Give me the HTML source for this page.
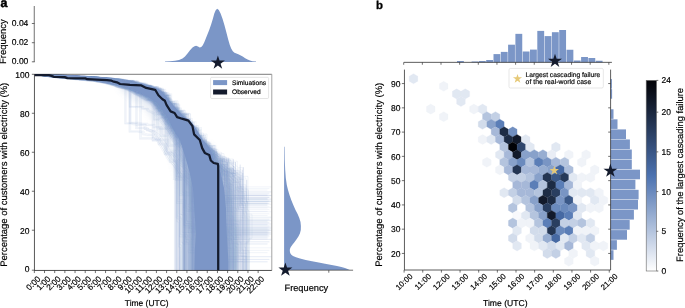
<!DOCTYPE html>
<html><head><meta charset="utf-8"><title>Figure</title>
<style>
html,body{margin:0;padding:0;background:#fff;}
body{width:685px;height:308px;overflow:hidden;}
svg{display:block;font-family:"Liberation Sans", Arial, Helvetica, sans-serif;will-change:transform;text-rendering:geometricPrecision;}
text{stroke:#000;stroke-width:0.18px;stroke-linejoin:round;}
</style></head><body>
<svg width="685" height="308" viewBox="0 0 685 308">
<rect width="685" height="308" fill="#fff"/>
<text x="0.45" y="6.60" font-size="12.4" text-anchor="start" font-weight="bold" fill="#000" style="stroke-width:0.5px">a</text>
<line x1="34.25" y1="6.00" x2="34.25" y2="62.15" stroke="#333" stroke-width="0.7" />
<line x1="31.85" y1="23.50" x2="34.45" y2="23.50" stroke="#333" stroke-width="0.7" />
<text x="28.35" y="25.80" font-size="8.5" text-anchor="end" fill="#000"  textLength="16.54" lengthAdjust="spacingAndGlyphs">0.04</text>
<line x1="31.85" y1="42.70" x2="34.45" y2="42.70" stroke="#333" stroke-width="0.7" />
<text x="28.35" y="45.00" font-size="8.5" text-anchor="end" fill="#000"  textLength="16.54" lengthAdjust="spacingAndGlyphs">0.02</text>
<line x1="31.85" y1="61.80" x2="34.45" y2="61.80" stroke="#333" stroke-width="0.7" />
<text x="28.35" y="64.10" font-size="8.5" text-anchor="end" fill="#000"  textLength="16.54" lengthAdjust="spacingAndGlyphs">0.00</text>
<text x="6.50" y="41.60" font-size="9.45" text-anchor="middle" transform="rotate(-90 6.50 41.60)" fill="#000"  textLength="44.65" lengthAdjust="spacingAndGlyphs">Frequency</text>
<path d="M165.00,62.00 L165.00,61.60 L170.00,61.30 L175.00,60.80 L179.00,60.00 L182.50,58.60 L185.00,56.40 L187.50,53.50 L190.00,50.20 L192.50,47.60 L194.50,46.20 L196.10,45.70 L198.00,46.40 L199.70,47.50 L201.30,47.00 L202.80,45.20 L204.30,42.20 L206.80,36.00 L209.20,30.00 L211.20,24.20 L212.80,19.00 L214.30,13.60 L215.70,10.30 L217.20,8.70 L218.80,9.90 L220.60,13.60 L222.60,18.90 L224.40,25.00 L226.40,32.50 L228.20,39.50 L229.80,45.00 L231.30,48.80 L232.80,51.25 L234.50,52.70 L236.40,53.60 L238.30,54.30 L240.30,55.20 L242.70,56.50 L245.20,58.20 L247.60,59.60 L250.00,60.60 L252.50,61.20 L256.00,61.60 L256.00,62.00 Z" fill="#7b96c7"/>
<clipPath id="ca"><rect x="34.45" y="74.3" width="237.35" height="196.1"/></clipPath>
<defs><filter id="bl1" x="-10%" y="-10%" width="120%" height="120%"><feGaussianBlur stdDeviation="0.6"/></filter><filter id="bl2" x="-10%" y="-10%" width="120%" height="120%"><feGaussianBlur stdDeviation="1.6"/></filter><filter id="bl3" x="-10%" y="-10%" width="120%" height="120%"><feGaussianBlur stdDeviation="2.6"/></filter></defs>
<g clip-path="url(#ca)">
<path d="M124.2,84.2 L140.5,87.1 L153.5,90.3 L158.3,92.8 L164.8,100.1 L173.0,109.8 L181.0,118.7 L187.5,122.8 L191.6,127.6 L196.2,134.8 L200.5,142.6 L210.3,143.5 L213.0,147.5 L215.5,152.0 L218.0,160.0 L224.5,164.5 L227.5,172.5 L234.0,188.0 L236.0,209.0 L236.8,234.0 L238.4,262.0 L238.4,270.5 L181.4,276.5 L181.8,256.0 L183.0,239.7 L181.4,215.4 L180.0,194.0 L176.5,178.0 L172.0,162.0 L167.0,146.0 L159.5,134.0 L157.0,127.8 L152.2,119.7 L147.3,113.2 L144.1,108.4 L137.6,104.3 L131.1,98.7 L124.8,93.8 L118.4,89.7 Z" fill="#7b96c7" fill-opacity="0.14" filter="url(#bl3)"/>
<path d="M108.8,80.4 L125.0,83.2 L141.3,86.1 L154.3,89.3 L159.1,91.8 L165.6,99.1 L173.8,108.8 L181.8,117.7 L188.3,121.8 L192.4,126.6 L197.0,133.8 L201.3,141.6 L208.8,143.5 L211.5,147.5 L214.0,152.0 L216.5,160.0 L220.0,164.5 L227.5,172.5 L231.0,188.0 L233.0,209.0 L233.8,234.0 L235.4,262.0 L235.4,270.5 L189.4,273.5 L189.8,253.0 L191.0,236.7 L189.4,212.4 L188.0,191.0 L184.5,175.0 L180.0,159.0 L175.0,143.0 L167.5,131.0 L165.0,124.8 L160.2,116.7 L155.3,110.2 L152.1,105.4 L145.6,101.3 L138.1,96.0 L130.7,91.6 L123.2,87.9 L108.3,83.0 Z" fill="#7b96c7" fill-opacity="0.38" filter="url(#bl2)"/>
<g id="sl" fill="none" stroke="#8aa2cf" stroke-width="0.8" stroke-opacity="0.14" stroke-linejoin="round">
<path d="M34.5,74.5L41.9,75.1H46.9V75.6L53.6,75.8L60.5,76.6L65.8,76.9L73.5,77.5H76.4V77.8L81.4,78.3H86.2V78.6H89.9V78.6H97.6V79.5L100.4,79.8H107.9V80.9H116.2V82.6L123.8,83.7H127.7V85.4L133.2,86.8L136.5,87.5L145.0,91.5H148.5V92.1L152.3,92.8H155.3V96.3H162.1V103.7L165.1,107.8L169.1,112.1H174.3V120.8H178.6V125.7H185.0V133.5H188.7V138.1L194.3,144.7L201.6,154.6L209.7,157.3H212.8V270.4"/>
<path d="M34.5,74.5L39.9,75.1L43.4,75.5L49.5,76.1H55.6V76.5H62.3V77.0L66.5,77.3L73.0,77.9L79.0,78.2L83.1,78.4L88.3,78.9L96.0,79.2H102.0V80.7H105.7V81.3H111.0V82.3L114.8,82.9L121.2,85.0H127.0V86.0L131.5,86.8L139.3,90.2L142.7,91.4L147.8,93.7L151.1,96.2H155.1V98.0L162.6,109.6L166.1,110.3L169.3,113.2L172.4,121.7H180.2V132.9L183.4,132.9L189.3,142.6H197.3V195.7H271.8"/>
<path d="M34.5,74.5L40.3,74.7L48.2,75.1L53.1,75.5L57.5,75.5L62.2,75.7L67.5,75.9L71.2,76.7H74.0V76.7L79.6,77.0L83.8,77.0L89.3,77.3L93.5,77.7L101.7,78.8H109.7V79.0L116.1,80.3L123.1,81.6L126.8,82.0L135.0,84.1L142.1,85.5H147.8V89.1L154.5,89.9H157.5V93.2L162.3,98.0H169.8V107.8L174.0,112.7H181.4V121.3L184.7,122.4H191.0V127.9H197.1V140.6H202.1V270.4"/>
<path d="M34.5,74.5L38.5,74.8H45.1V75.4L48.5,75.5L53.8,75.8L61.7,76.6L68.3,76.7L74.6,77.4L79.3,77.7H85.1V78.2L90.3,78.3H95.3V78.7L101.8,80.0H107.0V80.5L112.5,81.1L116.9,81.7H121.2V82.8L128.1,84.5H132.1V85.3L135.4,86.2H141.2V88.2L147.4,91.2L151.1,93.7H159.5V97.7H164.9V105.1H168.2V109.9H173.4V116.3L181.0,122.9L183.5,127.8L190.3,133.4L194.0,142.2H198.5V199.7H203.8V270.4"/>
<path d="M34.5,74.5L42.3,75.0L48.4,75.6L56.4,75.8L63.2,76.1L65.8,76.6H73.8V77.0H77.2V77.0L79.8,77.6L83.7,77.8H90.9V78.4L98.9,79.3H103.5V79.3H107.5V80.0L114.9,80.8L121.9,82.6H128.5V84.6L131.0,85.6H134.9V85.7H141.0V87.9L144.0,88.8H151.8V91.5L157.1,95.9L162.1,100.1L165.1,103.1L170.7,109.8H178.5V120.2H185.5V127.5H188.1V134.5L194.7,139.7H198.2V176.2H201.5V238.7H206.3V270.4"/>
<path d="M34.5,74.5L38.1,74.9L45.5,75.6L52.6,76.2L59.5,76.7L63.9,76.8L67.9,77.2H75.9V77.9L81.2,78.1L84.6,78.4L90.6,78.9L95.7,79.5L102.9,80.1L108.2,81.2H112.5V82.7H117.9V82.8H122.1V83.1L128.5,86.2H132.6V86.9L135.6,87.2H141.4V89.6L148.7,92.8L152.1,94.9H157.9V100.3L165.5,108.3H169.1V115.8H174.0V122.5H178.9V129.0L182.7,136.5H188.9V207.6H271.8"/>
<path d="M34.5,74.5L38.8,74.7H43.4V74.9L50.8,75.2L57.4,75.4L61.1,75.7L64.2,75.8L70.7,76.0H77.0V76.8H80.5V76.8H84.3V76.9H91.8V77.8H100.2V78.2L104.7,78.4H112.6V80.1L119.6,81.0L126.9,82.2H129.9V83.7H133.9V83.7H139.6V85.3L146.9,86.8H149.7V88.8L157.0,91.3L165.5,99.2L172.5,109.0L180.4,116.7H184.3V121.9H187.6V126.0H191.2V131.6H193.4V248.1H203.6V270.4"/>
<path d="M34.5,74.5L38.1,75.0H43.7V75.7L51.3,76.5L58.6,77.1L65.7,77.7L72.8,78.0L75.5,78.6H78.5V78.9L86.9,79.5H89.9V79.7L97.4,80.5L104.5,81.4L112.9,83.7H116.0V84.2L119.4,85.0H126.4V86.6H134.4V90.5L141.3,92.9L145.9,95.7L153.4,98.8L155.9,100.8L160.6,110.0H163.9V111.3H168.8V117.1L175.8,129.6H176.0V176.8H185.6V270.4"/>
<path d="M34.5,74.5L42.0,74.7L49.1,75.0H56.9V75.4L65.2,75.6L73.5,76.3L81.9,76.6L89.8,77.3H98.2V77.7L103.2,78.6H108.2V78.9L116.5,79.8H119.1V79.8H121.8V80.5L129.2,81.2L132.3,83.1H135.4V83.1L141.4,85.0L144.0,86.1L151.8,89.5L156.2,91.2H160.2V94.0L163.2,95.0H168.5V102.8L175.0,110.6L178.5,114.7H186.6V122.1H194.1V133.6H195.1V270.4"/>
<path d="M34.5,74.5H41.4V75.2H45.5V75.6L52.3,76.2L57.9,76.7H61.9V77.1L66.1,77.5L74.4,78.1L80.7,78.6H86.8V78.7H94.8V80.0L102.1,80.4L108.3,82.3L113.4,83.1H119.6V83.2L126.8,85.5L131.9,88.6H138.4V90.5L142.9,91.8L146.3,92.5L150.2,94.7H153.6V97.1H156.1V99.4L161.2,105.2H167.9V115.9L171.3,120.0L176.8,126.5H181.1V130.8H185.3V136.6L190.0,144.6L197.8,156.3H203.9V160.3L210.2,165.7H217.7V168.4H221.6V270.4"/>
<path d="M34.5,74.5H37.1V74.6L44.8,74.9L51.9,75.2H58.5V75.5L66.4,75.7H70.9V76.0L73.6,76.0H80.3V76.9L85.9,77.0H89.5V77.3H97.9V77.8L101.0,77.9L105.8,79.0L109.8,79.0L116.4,79.7L123.9,81.0H130.8V82.4L139.3,84.7L142.0,85.6H148.2V87.8L156.4,90.0L164.5,96.6L172.3,107.0L180.1,112.4L188.3,123.1L193.5,127.5H197.7V270.4"/>
<path d="M34.5,74.5H42.4V74.8H49.5V75.0L54.8,75.2H62.0V75.4L69.1,75.7H72.5V75.9H76.4V76.3L81.1,76.4H85.5V76.8L90.0,77.0L95.3,77.3H101.1V78.0H107.6V78.2L113.5,78.8L118.8,80.7H125.8V80.7H128.9V81.2L132.3,81.6L140.5,84.4H144.9V86.3L153.3,89.5L159.8,93.8L163.7,96.4H167.8V103.1H170.6V104.0H174.2V108.8L176.7,113.5L182.8,118.4L188.9,126.6H193.0V129.3L197.7,134.4L205.9,144.0L211.0,150.4H214.2V180.6H217.9V229.6H271.8"/>
<path d="M34.5,74.5L41.6,74.8L49.5,75.3H57.9V75.5H62.6V76.2H68.8V76.2H77.1V76.9L84.6,77.4H89.9V77.7H96.9V78.5L104.3,79.2L112.1,80.1H116.7V80.7L122.7,81.5H129.0V82.9L131.8,83.7L140.2,86.3L146.9,87.1H150.3V89.4L155.4,91.9H158.0V94.8L164.4,100.7L171.3,108.8L176.4,118.1H180.2V171.3H186.0V270.4"/>
<path d="M34.5,74.5H37.2V74.7L44.3,75.2L52.4,75.8L56.2,75.9L61.4,76.3L64.5,76.6H71.9V76.7L75.8,77.1H80.8V77.5L85.5,77.9L89.7,78.4H94.0V78.6L101.1,79.6H108.4V80.2H115.6V81.7H121.1V82.8H124.0V82.8L128.2,83.4H131.8V85.6L140.1,87.7L147.6,90.9L153.8,92.3H161.2V100.6L164.6,104.7H172.8V113.2L179.8,124.4L183.1,126.4L185.6,128.5H192.8V137.1L197.0,142.0L202.1,151.1H210.2V159.8L213.4,159.8L217.1,162.2L225.1,169.2L231.3,173.4H234.6V177.7H239.5V178.8H240.4V207.3H244.3V247.1H245.5V270.4"/>
<path d="M34.5,74.5L42.4,75.3H47.6V75.8L50.3,76.1H58.0V76.5L63.0,77.1H70.4V77.5L78.0,77.8L81.7,78.4L85.1,78.4L91.0,78.6L95.9,79.1H103.4V80.3L109.1,81.1L115.8,83.6L123.6,84.0L126.4,85.4L129.7,85.7L133.6,87.3H139.9V90.3L145.1,91.8L151.8,95.6L158.8,101.3H166.0V108.7H174.4V121.6H179.7V128.0L184.0,135.7H191.1V226.9H271.8"/>
<path d="M34.5,74.5L39.5,74.6H43.7V74.7H50.4V75.3L54.5,75.3L61.8,75.7H66.9V75.7L75.4,76.5H81.4V76.8H89.3V77.1L93.2,77.3L96.1,77.7L104.6,78.1L112.6,79.6L118.5,79.6L122.4,81.4L130.0,82.3L134.5,84.6L137.4,84.6H145.1V86.5H150.5V87.7L155.1,89.5L160.5,94.6H165.0V102.0H171.3V109.6H176.1V110.9L183.5,123.8H188.7V123.9L194.9,133.5L197.4,138.4L204.6,146.1L210.0,149.3H218.0V156.0L224.5,158.9H230.0V270.4"/>
<path d="M34.5,74.5H37.9V74.9L42.2,75.3L50.7,76.1H54.5V76.2L60.1,76.7L66.1,77.2H70.8V77.6L76.6,78.0L80.1,78.4L85.5,78.5H94.0V79.6H97.2V79.8L104.2,80.6L109.2,82.1L117.5,82.8L121.8,84.5L125.4,85.4L133.2,87.7L139.5,89.8H142.5V90.3L150.3,93.5H153.0V95.4H156.4V100.3L164.6,108.9L169.1,113.5L174.3,121.8H179.4V128.8H187.3V136.4L192.7,146.0L196.3,148.3H203.0V158.9H208.5V160.0H210.0V193.7H215.6V270.4"/>
<path d="M34.5,74.5L41.0,74.8H45.9V75.0H53.5V75.5L58.5,75.5L63.3,76.0L68.0,76.0L73.7,76.2H77.3V76.9H79.8V76.9L84.5,76.9L87.6,77.0H94.1V77.6H97.9V77.8L106.0,79.0H113.1V79.8H117.0V80.6L120.6,81.3H127.5V81.9H132.9V83.5H135.5V84.3H138.3V84.6L141.9,86.1L146.6,87.7L154.4,89.4L158.6,92.0L163.3,96.8L168.5,105.1H171.5V105.1L177.0,109.9L183.2,124.5L190.7,124.5L197.6,138.8H203.4V144.3L208.0,149.7L212.7,154.2H214.0V270.4"/>
<path d="M34.5,74.5L42.0,75.0L48.3,75.5H51.2V75.7L55.8,75.8H64.1V76.1L71.9,77.0L77.6,77.4L81.9,77.7H87.6V78.0L93.3,78.6H99.6V79.3L107.2,80.5H113.3V80.7H119.7V81.5L127.5,84.4H135.8V86.7H142.5V88.1H146.4V91.2H151.4V92.9H158.1V95.5H162.0V101.7L165.1,102.9H171.1V111.5L174.4,117.0L180.9,124.5L188.5,135.2L196.9,146.3L200.0,148.3H207.4V155.5H207.9V223.4H212.0V252.1H214.6V270.4"/>
<path d="M34.5,74.5H40.0V74.8H48.3V75.3L53.5,75.5H56.9V75.9L59.6,76.0L67.8,76.3H75.6V76.9L79.9,77.4H85.3V77.6H88.6V77.6H92.2V78.1L95.0,78.1H101.1V78.7L103.9,78.9L106.9,79.4L111.3,79.9L119.8,81.3H122.6V81.5L126.9,82.6H134.6V84.5H139.8V87.3H143.2V87.3H150.9V91.8H155.8V91.8L158.7,95.3L165.7,101.9H168.9V106.9L175.3,116.0H181.0V121.8L185.6,127.0H189.4V129.8L194.0,137.9L201.5,145.5L209.5,154.3L212.7,154.3L221.0,162.5H227.6V168.7H233.2V170.8H238.4V270.4"/>
<path d="M34.5,74.5L38.9,75.1L45.1,76.1H53.3V76.8L56.7,76.9L61.3,77.6L66.6,77.7L73.8,78.7H78.7V79.1L83.1,79.3H87.1V79.9H94.7V80.5L103.0,82.0H106.9V82.0L112.7,83.8H116.2V85.0H122.6V86.8L131.0,89.8H136.7V91.9L142.1,95.2L145.5,95.8L153.7,101.1H156.5V104.3H164.2V114.8L172.6,126.9H179.2V133.5H186.6V220.8H187.9V232.5H189.2V270.4"/>
<path d="M34.5,74.5L42.1,75.8L45.7,76.3L53.6,77.2H57.6V77.7L65.7,78.5H70.2V79.0L76.0,79.6H79.8V79.9L87.1,80.5L93.5,80.8L98.8,82.1L106.9,83.6L110.8,84.1L118.2,87.1H120.8V87.1L127.1,88.8L135.5,93.5L140.3,95.3L144.8,98.0L151.1,101.2L158.5,111.3L164.3,115.9H168.6V127.1L171.1,130.0L175.8,139.6L178.9,144.4L183.6,145.2H188.9V153.4L195.2,164.2H203.2V171.3L210.0,177.0H214.4V183.0H218.7V205.9H225.2V270.4"/>
<path d="M34.5,74.5L37.5,74.7H42.9V75.0L49.5,75.6H54.6V75.6L59.2,75.9L64.8,76.4L72.9,76.7L78.0,76.9L83.9,77.5H90.4V78.2L97.4,78.4L104.6,78.9H112.9V80.5L121.3,81.4L128.1,83.7L136.6,86.1L144.3,89.3H148.4V89.3H156.4V94.2L159.8,96.2L163.5,99.8H168.4V107.5H175.1V115.8H182.1V122.0H186.0V128.5H192.6V134.8H199.9V143.4L207.5,154.4L214.3,159.0L219.2,164.0H223.3V164.4H228.0V195.5H230.9V270.4"/>
<path d="M34.5,74.5L39.4,74.6H42.3V74.7L46.7,74.9L50.7,75.2H53.8V75.6L58.8,75.6H67.3V75.8L74.5,76.5L80.6,76.8H84.3V76.8H89.8V77.6L96.0,77.9L101.9,78.4L108.8,78.6H117.0V80.3H123.3V81.0L131.7,83.0L138.9,84.8L146.6,87.5H149.9V87.6H158.0V92.7L166.0,98.7L169.0,101.3L173.7,106.7L177.3,110.6L181.5,119.8L188.8,123.9L197.3,132.5L203.8,142.9H209.3V148.8H216.5V154.9L220.1,158.3H223.9V162.5H226.0V208.0H236.6V270.4"/>
<path d="M34.5,74.5L39.2,75.1L41.7,75.4H49.7V76.2L56.4,76.4L63.8,77.2L68.4,77.6H76.4V78.3L79.9,78.5L87.6,79.1L90.9,79.2L97.6,80.3L103.3,81.1L106.8,81.5H112.8V82.9H120.8V84.5H124.9V85.0L129.3,86.7L133.5,88.3H140.6V90.4H144.7V93.4L150.3,96.3L154.2,97.7L161.8,106.7H168.1V115.6L175.9,124.8H182.3V138.1L188.6,142.7H192.5V270.4"/>
<path d="M34.5,74.5L39.4,75.0L45.3,75.5L48.2,75.8L55.0,76.2L60.6,76.6L66.3,77.0L73.6,77.5L81.7,78.0L87.5,78.5H95.4V79.3H101.1V80.1H104.4V80.1L109.4,81.7H115.8V82.3L122.7,84.1H129.3V86.0L134.5,87.4L138.2,89.6L144.5,91.7L150.7,93.9L154.8,95.2H158.2V100.4L164.7,108.7L169.5,114.1L176.2,123.4H181.8V131.6L187.1,137.7L193.6,147.6L198.0,150.6L205.1,157.4H207.8V160.7H209.6V236.9H211.5V251.0H215.8V270.4"/>
<path d="M34.5,74.5L41.1,75.4H44.3V75.7H48.2V75.9H52.3V76.6L54.8,76.7L61.3,77.1L68.6,78.0L71.2,78.0H79.7V78.5H86.2V79.2L89.6,79.5H94.7V79.9H98.0V80.8H104.5V81.6H112.4V83.4H117.3V84.4L124.4,85.6H128.7V87.1L132.2,89.1H138.9V91.9L145.9,93.7L150.1,96.9H154.4V98.7L162.9,110.0H167.9V115.4L171.6,121.5H174.8V125.2L178.8,131.8H181.6V136.4L186.0,140.7L189.1,145.6L194.7,153.4L202.3,162.0L207.8,167.1L211.7,169.3H212.9V270.4"/>
<path d="M34.5,74.5L40.0,75.2L45.1,75.7L49.4,76.0L56.4,76.8L64.8,77.2L71.6,77.9L79.3,78.3L82.1,78.8L89.9,79.4L96.0,79.6H104.3V81.0L109.4,82.1H114.5V82.4H122.7V85.6L127.4,86.1L132.2,88.1H137.5V90.6H144.0V93.6H152.2V96.7L159.0,104.1L162.3,107.9H168.3V116.6H172.3V121.5L176.8,129.2H180.4V134.1L184.6,139.1L189.5,139.8H195.4V148.7L203.1,160.0L206.3,164.7L212.4,169.4H219.8V174.9L225.2,177.2H231.8V182.6H232.6V196.4H234.9V221.3H239.3V270.4"/>
<path d="M34.5,74.5H42.6V74.7L45.5,74.9L48.6,75.1H53.9V75.3L60.1,75.4H64.3V75.7H70.1V76.1L78.1,76.5L84.3,76.5H86.8V76.7H90.1V77.5L93.0,77.5H99.6V78.1L105.5,78.4H110.5V78.8H118.5V80.0L124.4,81.2H132.5V82.3L135.7,83.7L139.1,85.1L144.6,86.0H149.8V88.6L152.5,88.6H156.7V90.2H161.3V93.5L164.3,96.4L167.5,101.7H171.6V105.0H179.6V117.1L187.8,119.6L194.4,129.9L199.3,137.9H202.3V141.8L205.8,144.9L213.9,150.6L222.3,156.7H226.1V159.0H233.3V166.7H234.7V270.4"/>
<path d="M34.5,74.5L41.6,75.5L48.6,76.5L56.4,77.4H61.8V77.8H66.7V77.9L73.5,78.5L81.7,79.4H89.6V80.3H93.7V80.6L97.7,81.2H105.6V82.5L110.6,83.5H115.9V84.7L119.8,86.1H126.3V87.2V122.7L131.7,122.7L138.9,124.2H146.0V127.9H148.5V129.5H151.3V130.3H157.8V137.6L164.8,148.7L170.8,158.5L176.3,163.4L181.3,174.1H184.1V270.4"/>
<path d="M34.5,74.5L38.1,75.0L42.7,75.6L50.3,76.1H57.6V77.1L62.7,77.6H70.5V78.2L78.7,78.8L86.1,79.1L92.1,79.6H96.1V80.0H102.8V80.9H108.9V82.1L114.2,82.9H122.0V85.1H127.9V86.6L130.5,87.4L137.3,90.6H145.1V95.1H153.4V98.2H160.1V106.0L164.9,114.3H171.8V124.1H179.4V132.5H183.2V137.9L189.2,147.0L193.6,152.9H198.6V234.3H203.2V256.8H208.1V270.4"/>
<path d="M34.5,74.5L38.2,74.7L41.9,74.8L48.8,75.2L55.2,75.2H59.2V75.6L62.0,75.7L69.7,76.0H77.2V76.7H81.5V77.0H84.2V77.0L90.8,77.1H97.4V77.9L102.8,78.9H106.1V78.9L112.5,79.7H115.3V80.0L120.8,80.2L128.6,82.3H136.0V84.0L138.6,84.0H141.7V86.2H148.3V88.9H154.0V90.3L161.3,95.3H169.1V102.7H177.1V117.1H181.5V120.5L187.4,124.2H193.3V131.7H198.9V201.5H271.8"/>
<path d="M34.5,74.5H37.5V75.0H42.0V75.5L49.1,76.4L56.7,76.9H64.9V78.1L73.3,78.9H79.8V79.2H87.0V79.6L94.2,80.3H97.4V80.9H101.4V82.1L104.2,82.6H110.2V83.6L114.3,84.4H119.5V86.0H125.9V87.7H130.0V90.2L132.9,90.5H140.5V93.6L148.9,98.6L156.0,102.8L161.5,112.0L169.8,122.3H176.0V159.1H178.7V270.4"/>
<path d="M34.5,74.5L42.1,74.8L48.5,75.1L53.2,75.4L60.9,75.8H68.9V76.0L76.2,76.7L80.4,76.9H83.1V76.9H86.0V77.6H90.7V77.6H99.0V78.2H102.0V78.4L105.7,78.9H110.1V79.6L116.4,79.7H119.8V80.5H125.9V81.5L131.5,82.9L138.1,84.4L144.8,87.6H149.3V89.6L156.9,91.2L160.6,94.1H167.2V101.4L175.7,115.3L180.3,119.2L184.6,122.8H190.6V129.3H190.7V175.6H195.6V270.4"/>
<path d="M34.5,74.5H40.7V74.9L48.3,75.4H54.0V75.8L62.0,75.9L66.9,76.3H71.6V76.8L75.9,76.9H80.5V77.2L86.8,77.9H92.0V78.2H99.3V78.6L103.2,79.1L107.4,80.3L114.3,80.6L121.8,81.9H125.7V83.1H131.1V83.6H135.4V84.8H143.0V87.4L146.7,89.5H151.6V90.5L159.1,97.2L162.9,99.6H169.7V109.4L176.7,116.5L180.5,125.4L185.5,125.4H193.2V134.3H196.6V270.4"/>
<path d="M34.5,74.5L38.4,74.8L44.2,75.4L48.4,75.6H56.6V76.0L60.7,76.3L68.7,77.0H74.8V77.4L83.1,77.8L88.8,78.3L91.7,78.4H94.5V79.0H102.5V79.9L105.9,80.2L109.6,81.0H112.9V81.0H118.6V82.3H124.6V83.9H127.9V84.7L135.9,86.5H139.5V87.9L144.0,89.1H151.2V92.3L155.4,96.5H163.2V103.7L166.4,105.6L174.9,117.2L182.0,130.1H182.3V232.5H271.8"/>
<path d="M34.5,74.5H42.6V75.4L46.1,75.7L51.7,76.2L59.4,76.7L65.9,76.9H73.4V77.8H77.4V78.0L84.4,78.6L88.7,78.9H97.0V79.6H100.9V80.4L106.7,80.9H113.8V82.2H116.7V83.4H121.4V83.8L127.2,85.7H135.5V89.4L140.9,91.1H144.2V92.5L150.3,95.5H154.6V97.2L159.6,103.8H165.2V107.8L170.7,117.4H173.8V120.7L179.8,130.7L183.9,135.3L186.9,139.7L191.7,145.3H195.6V151.5L203.7,159.1H206.8V159.1L213.6,167.8L217.3,169.5L221.3,171.2H228.1V179.6L231.6,181.2H239.6V186.4H241.7V205.4H246.0V214.2H252.0V238.4H249.0V270.4"/>
<path d="M34.5,74.5L37.7,74.8L41.4,75.2L45.5,75.6L50.1,76.0L56.5,76.3H60.9V76.4H64.9V77.0H73.3V77.5L79.7,78.1H83.6V78.5L91.4,79.2H96.0V79.3L103.4,80.5H106.7V81.0H112.9V82.3L116.6,82.7L122.6,84.2H125.5V85.5L133.8,87.3H139.4V90.3L147.0,93.1L155.0,97.8L161.9,103.8L168.0,112.1L172.9,119.6L177.4,124.9L180.6,132.3H183.8V134.7H190.3V141.0H192.8V166.9H196.1V230.6H271.8"/>
<path d="M34.5,74.5L40.7,74.6L43.8,74.7H48.3V74.9L56.1,74.9L58.7,75.3L64.9,75.3L70.4,75.9H74.3V76.0H80.6V76.3H88.6V76.7L96.6,77.4L101.2,77.5H107.4V78.0H112.3V78.9L115.3,79.2H118.4V80.1H123.9V80.9H130.9V81.1V122.2H138.4V122.2L143.1,123.1H147.8V124.2H155.1V126.5H162.1V134.9H170.2V144.4H177.6V149.5L184.1,158.1H191.5V161.5L195.7,166.5H203.0V185.9H205.8V195.4H271.8"/>
<path d="M34.5,74.5L40.3,74.8L45.1,75.1L49.5,75.3L55.0,75.4L58.7,75.7H62.0V75.8H64.9V76.2L69.4,76.2L73.0,76.5L77.1,76.8H82.6V76.8L90.1,77.7H96.5V77.7L102.3,78.9H110.2V79.5L113.2,80.8H117.4V80.9L123.1,81.8H129.8V83.9H132.7V83.9L137.4,85.8V127.3H145.4V127.3L148.5,128.6L153.5,130.8L159.3,134.3L167.1,144.7L170.4,150.2H175.7V152.3L178.6,159.5L187.0,166.2L191.6,171.7H192.6V224.0H194.7V235.7H200.4V270.4"/>
<path d="M34.5,74.5L41.8,75.0H45.6V75.3L48.8,75.4H51.7V75.6H59.3V76.0L66.7,76.5H70.6V76.5L75.9,77.1L81.3,77.5H88.1V77.7H91.1V77.9L95.0,78.5L100.0,78.7L105.4,79.5L111.8,80.3H116.6V81.5H120.0V81.6H127.8V83.6L134.5,85.5L137.6,86.0H145.1V88.7H151.4V92.4L154.9,93.1L160.7,96.5H168.5V109.1L174.0,115.7H179.6V121.6L184.1,127.9L188.3,131.6H191.9V132.4H196.6V142.1L201.1,143.9L205.1,150.4H207.9V153.8L215.6,160.9H222.7V164.5H226.4V270.4"/>
<path d="M34.5,74.5H39.4V74.8L47.6,75.5H56.0V76.0H60.0V76.0H66.8V76.8H73.7V77.3L77.6,77.3L83.7,77.9L86.4,78.2H93.5V78.3L97.7,78.8L101.5,79.2H104.2V80.1L112.0,80.7L117.6,81.8L121.7,82.8H127.5V84.3H131.4V85.4L135.6,86.5H139.7V87.8L147.6,91.5L153.7,92.6H158.8V96.6L164.2,103.0L170.9,112.8L178.0,124.7H184.5V131.0H190.0V138.3H198.1V146.1L201.3,152.3H208.5V156.0H215.1V223.3H224.1V270.4"/>
<path d="M34.5,74.5L42.0,74.7L47.5,75.0L55.9,75.4L63.3,75.5L69.5,75.7H72.2V76.3L75.4,76.3L80.5,76.7L86.4,76.8L94.6,77.4H102.1V78.4L105.2,78.9H107.9V78.9H112.8V79.3L121.1,80.6H128.9V80.7H134.3V83.5L142.3,84.9H147.8V87.4H152.3V89.4L160.6,95.2H168.4V103.3L174.0,111.4L177.0,113.7H185.0V121.6H185.9V168.7H187.4V270.4"/>
<path d="M34.5,74.5L38.8,74.8L46.9,75.3L54.7,76.1L62.4,76.3L70.6,77.3L77.7,77.6H82.3V77.7L85.7,78.0L89.2,78.5H94.1V78.5H97.6V78.8H104.6V79.7L109.8,80.7L116.3,81.5L123.2,83.0L128.5,84.6H131.4V85.5L139.7,87.3L144.8,89.4H149.5V91.2H153.2V93.3L159.9,98.2H166.6V107.0H171.3V112.9L176.4,120.5H180.6V125.9H187.7V128.2H193.2V137.7H193.7V270.4"/>
<path d="M34.5,74.5H41.3V75.4H44.1V75.7L47.2,75.9L55.2,76.7L63.6,77.7L70.4,78.4L75.2,78.4L81.4,79.1L89.0,79.4H96.7V80.5H101.4V81.1H108.5V82.3H111.7V83.2H120.2V84.9H123.3V85.3H131.7V88.5H137.0V91.2L140.6,92.8H143.4V93.2L151.7,98.9H160.0V107.2H165.4V113.3H173.5V126.0L179.1,130.4H183.0V137.7H191.1V151.2H199.0V156.0H199.7V270.4"/>
<path d="M34.5,74.5L39.0,74.9L45.1,75.2L53.0,75.5H61.4V76.2L66.8,76.4L73.9,76.9H78.8V77.4H85.7V77.8L92.8,78.2L97.9,78.4L103.0,79.3L110.0,80.4L117.6,82.0L123.8,82.5H126.5V83.4L131.2,84.1H134.9V86.3H141.9V88.3L145.9,89.0L154.3,92.4L158.5,96.4H166.8V106.4L174.3,114.5L178.9,120.0L186.6,129.2H190.4V133.1H195.9V139.3L198.9,145.2L201.8,145.2H205.6V183.2H212.3V233.4H271.8"/>
<path d="M34.5,74.5H39.5V74.7L46.6,75.1H54.8V75.3L62.1,75.5L65.8,75.5L68.9,75.9H73.9V76.2L81.9,76.6L88.6,76.9L94.4,77.1H99.6V78.1L105.7,78.3L111.5,79.0L118.9,80.1L124.8,81.2H128.0V82.1H132.5V83.5H138.7V84.1L144.3,85.5L148.4,88.0L151.4,88.3L159.8,91.3L163.9,97.1L172.2,108.1L174.9,109.8H178.6V114.0L182.5,120.0L187.9,125.5L194.9,132.8L198.3,136.0L202.6,142.7L210.3,149.0H215.9V152.6L223.3,157.7H228.7V216.1H233.0V270.4"/>
<path d="M34.5,74.5L41.1,75.0L48.7,75.5L54.0,75.9H60.2V76.2H67.9V76.4L72.8,76.9L75.9,77.3L83.9,78.0H89.6V78.0H97.3V78.6H103.8V79.1L111.0,80.1L116.5,81.4L122.5,83.1H125.1V83.1L130.3,84.8H138.6V86.4L144.7,88.3H151.0V91.7L157.9,96.4L160.7,100.6H165.5V104.0L168.4,107.6H172.5V113.8L176.1,118.4L183.2,125.6L190.5,133.1H196.9V141.6L203.9,151.6L211.8,159.4H215.3V159.4L221.7,164.5H224.3V167.4L232.6,171.1L235.6,174.0H238.4V270.4"/>
<path d="M34.5,74.5H40.6V75.5H44.8V76.1L49.7,76.9L55.8,77.5L63.5,78.0L67.7,78.7H74.4V79.3H78.9V79.6L86.3,80.6L94.1,81.2L102.5,82.4L107.0,83.5L112.7,85.2H116.4V86.2L123.6,88.3H126.3V89.0L131.2,90.9L139.5,95.7L147.3,99.9L150.2,99.9H157.4V108.1H159.9V110.9H164.0V116.6L168.8,125.3L172.6,129.9H178.9V140.3L185.6,150.3H188.2V151.3L195.2,160.6L199.6,163.6L206.3,173.1H213.8V181.9H219.3V185.1H225.8V270.4"/>
<path d="M34.5,74.5L38.6,74.8L46.2,75.4H53.6V75.9L58.1,75.9H61.0V76.5H69.3V76.5L75.1,77.2H81.2V77.4H87.7V78.0H92.4V78.0L99.5,78.8L104.6,79.4L112.1,80.5L116.8,81.5L122.7,81.9H128.6V84.4H134.3V85.8L138.5,86.4L144.7,89.0L148.9,90.8H156.3V95.7H163.9V101.5L168.1,107.5L175.5,114.6L181.1,125.3L186.1,128.8L194.0,140.5L201.3,147.9H207.4V154.9H208.1V205.5H212.3V245.4H217.1V270.4"/>
<path d="M34.5,74.5L39.6,75.2H47.9V76.1L52.5,76.5L56.8,77.0L64.9,77.6L72.8,78.0L81.2,79.2L84.1,79.2L87.0,79.7H92.0V79.7H95.1V80.1L100.3,81.5L106.0,82.4L113.2,83.2L118.9,84.9L124.1,86.7H132.2V88.3L135.1,90.6L141.5,93.7L144.6,94.0L152.7,97.7L160.4,107.4H164.1V114.6L168.4,119.5L174.4,126.7H180.2V134.4L183.1,140.2L188.4,145.2H193.7V270.4"/>
<path d="M34.5,74.5L38.1,74.6L45.0,75.1H49.0V75.3H53.0V75.4L60.0,75.9H63.2V75.9L70.5,76.6H75.3V76.9L82.7,77.2L85.4,77.3L89.5,78.0L94.0,78.0L98.6,78.4L104.5,79.2L112.9,79.9L119.2,80.2H122.2V81.2H125.5V82.0H128.0V82.9L131.3,83.9L137.7,84.8L141.1,86.1L144.4,88.6H147.0V88.6L153.7,91.6H161.2V97.8L164.4,101.0H172.3V111.5L177.5,116.3L180.1,119.7L187.8,129.5H195.0V139.3L198.6,140.5H205.8V148.4L211.1,154.4H217.4V159.8H221.3V223.6H227.6V256.7H271.8"/>
<path d="M34.5,74.5L38.6,74.8H41.6V74.9L49.2,75.5L55.0,75.7L59.8,75.9L66.5,76.5H72.7V77.1L75.5,77.1H78.5V77.4L82.3,77.6L85.3,77.6H92.2V78.3L99.7,78.9H107.4V79.3L113.8,80.4H118.0V81.5H122.8V82.6L127.1,83.4L133.7,86.5L139.8,87.2H146.8V90.5L151.8,92.2L156.3,94.1L159.2,98.2L165.5,104.7L173.8,117.4L180.1,122.2H183.2V126.1H190.6V137.8L198.7,144.8H207.2V156.7L212.9,161.0H213.1V213.4H215.3V270.4"/>
<path d="M34.5,74.5H37.7V74.6H45.0V74.8L50.9,75.0L58.7,75.2L65.8,75.5H71.5V75.9H74.7V75.9L77.8,76.7H84.7V76.7L92.6,77.4L96.3,77.4H104.7V77.7L111.3,79.0H118.4V80.4H121.6V80.4H124.3V80.4L127.6,81.3L132.6,82.1L139.0,84.1L147.4,86.6L152.0,88.1L154.9,88.1H163.3V95.4H171.1V106.2L175.0,107.7L177.8,111.6L185.7,119.7H189.7V123.1H191.0V228.5H271.8"/>
<path d="M34.5,74.5H37.6V75.1H45.5V76.1H50.6V76.6L58.5,77.4L64.7,78.1L68.8,78.6L74.1,78.7L80.5,79.4H88.8V80.2H94.8V80.9L101.8,81.5L108.4,83.3L114.3,84.5L120.1,86.4L126.7,88.0L130.7,89.5L135.3,91.5L138.1,93.0H145.6V96.3L148.8,99.4H156.5V105.4L164.8,117.7H170.9V124.8L177.0,135.7H183.4V142.3H183.8V211.0H189.2V237.9H191.3V270.4"/>
<path d="M34.5,74.5L40.2,74.7L47.7,75.0H50.7V75.1L56.7,75.3L63.6,75.7L69.0,75.9L72.2,76.2H77.7V76.6L80.5,76.7H85.7V76.7H89.7V77.5H96.5V78.1L102.9,78.6L109.2,78.9L114.0,80.1L118.6,80.3L122.4,80.7L127.9,82.2L132.9,82.2L136.7,83.6H140.8V85.4L147.1,86.1L149.8,88.0L157.1,90.6H165.0V101.0L170.2,105.8L177.1,114.8H180.5V117.4L187.3,123.1L190.6,128.0H198.3V139.3L206.6,145.6H214.8V155.1L222.2,159.5L226.6,160.4H231.0V168.8H233.7V168.8H234.3V235.0H241.2V270.4"/>
<path d="M34.5,74.5L42.0,74.9H44.6V74.9L53.1,75.4L56.3,75.6L59.4,75.6L67.8,76.3H75.2V76.6L82.3,76.7H87.5V77.0L93.1,77.5L100.5,78.1H107.7V78.6L112.5,78.9L119.6,80.5L127.0,81.6L132.8,83.1H135.8V84.3H141.4V84.9L149.4,89.3L155.2,89.8L160.0,95.5L164.4,99.2L167.6,101.1L170.4,107.3H177.4V115.2H185.3V123.3L192.8,130.4H193.1V270.4"/>
<path d="M34.5,74.5L41.4,75.1H48.7V75.7L52.5,76.1L58.9,76.4L64.6,76.8L71.2,76.9H75.5V77.3H78.5V77.8L82.5,78.1H86.1V78.5L90.2,78.5H97.8V79.4L102.0,79.9H106.7V80.8H114.6V81.7L121.1,84.0L124.2,84.2H129.1V86.7L134.6,86.7L137.6,87.7L145.3,92.4L147.8,92.4L154.9,96.5H158.8V100.8L164.6,107.0H172.5V116.5L178.0,127.1H183.5V128.9L191.9,143.1L196.3,147.9L200.0,150.7H206.0V157.2H212.6V163.9L216.7,166.7H216.8V202.6H218.1V270.4"/>
<path d="M34.5,74.5L39.6,74.6L45.7,75.0H51.0V75.3L57.6,75.3L63.2,75.7L67.6,75.9L72.6,76.2H75.7V76.7H82.7V76.7H89.7V77.6L95.0,77.8L97.6,77.8H105.9V78.9H112.2V79.5H119.8V80.8H124.8V80.8L131.2,82.7H135.9V83.3H140.1V85.1H146.9V86.4L153.2,88.8H158.3V92.0V113.8L165.2,113.8H173.4V123.9H179.5V132.8H184.9V137.9H188.5V270.4"/>
<path d="M34.5,74.5L39.6,74.7L43.8,74.8L46.6,74.9L51.3,75.2H59.4V75.2H67.3V75.8L73.6,76.5L79.2,76.7L83.4,77.0H87.9V77.0L92.3,77.3H95.8V77.6L104.2,77.9L109.6,78.0H114.2V79.0L120.3,80.9H124.6V80.9H127.3V80.9L133.2,82.1H140.1V84.1H146.2V85.5H153.7V87.7L158.9,92.4H164.5V96.4L167.4,99.2L170.1,105.2L176.0,110.4H182.0V116.0L188.6,120.9L196.0,135.4L198.6,135.4H202.0V141.6L210.3,147.7L215.8,156.7H220.7V158.6L225.8,158.9H228.6V270.4"/>
<path d="M34.5,74.5L39.8,74.6H44.2V74.8L47.1,74.9L55.4,75.1L63.0,75.4L67.8,75.8L72.3,76.1L78.8,76.4H85.7V76.6H89.1V76.6L95.1,77.5L98.6,77.9L104.3,78.4L109.2,79.0H113.4V79.3L117.5,79.7H121.1V80.2L126.4,80.6L130.8,81.8L136.5,83.2H143.6V84.8H147.0V85.4L155.4,88.2L160.3,92.9L163.9,95.3L167.0,103.6H172.7V104.4L175.5,106.7L180.6,112.8H186.6V120.6H192.4V128.1L195.4,133.5L203.3,140.9H207.0V144.2L210.3,148.7L216.8,154.2H220.5V156.2L228.9,161.2H237.3V270.4"/>
<path d="M34.5,74.5L37.7,74.6H45.5V74.9L48.0,75.1H51.1V75.6L54.0,75.6H58.0V75.7L61.5,76.0L69.2,76.5L75.6,76.7H83.7V77.1H87.3V77.2H95.6V78.0H98.4V78.3L102.2,78.9L109.1,79.4H113.3V79.8H120.9V81.8L126.1,82.2L129.0,82.2L134.9,84.5L142.2,86.7L149.4,89.8H154.8V90.1H158.3V93.8L166.1,102.8H174.5V112.9H180.0V121.5H188.3V125.9L194.7,135.1H200.6V142.6L203.2,146.1L208.0,148.4H214.6V156.7H220.4V162.3L228.0,168.3L235.0,170.7L239.0,174.6L243.3,176.4H248.0V270.4"/>
<path d="M34.5,74.5H39.1V75.1L43.1,75.6H46.4V76.1H52.5V76.4L58.1,77.4L63.3,77.7L70.5,78.3H73.6V78.6L77.1,79.0H85.4V79.4L91.5,79.8H97.8V80.4H101.0V81.3H108.0V82.6H112.5V82.9L116.1,83.6L119.3,84.7L127.6,87.5H131.6V89.0H137.5V91.0L145.5,95.3H153.3V99.9L158.9,106.8L167.3,116.9L172.3,127.1H178.4V132.5H182.9V143.3L188.3,148.9L190.9,149.3L194.0,153.9L197.8,159.1H202.4V161.9L210.6,170.5L216.8,174.0H220.5V270.4"/>
<path d="M34.5,74.5L38.4,74.7L43.1,74.9H48.9V75.2L53.5,75.6H61.6V75.9L69.7,76.1L78.0,77.1H83.8V77.4L88.8,77.4H92.9V77.7L97.3,78.1H105.2V78.4H107.8V79.0L114.3,79.5H118.3V80.5L126.0,81.3H131.4V82.8L136.1,84.0H142.7V86.2L146.1,87.3H151.0V89.1L158.0,92.9H164.3V98.9L170.7,107.2L175.0,114.1H178.9V123.1L182.3,123.1L185.4,123.1H193.0V139.2L200.8,143.5H206.5V149.8H211.8V233.0H213.6V270.4"/>
<path d="M34.5,74.5H42.0V75.5H44.6V75.7L52.5,76.5L57.7,77.0H61.8V77.1H66.8V77.7H73.8V78.2H79.0V78.5L85.1,79.0H92.4V80.0H96.4V80.5L99.2,80.9L106.3,82.0L114.4,83.4L116.9,83.8L119.5,84.9L124.2,86.5H131.0V88.7L134.3,90.1L138.4,93.3H146.4V94.9L150.3,97.1H156.1V100.4L158.9,107.1L165.3,115.3H169.6V119.7L174.3,125.4L182.8,139.7L188.0,146.3L194.6,155.9L202.9,162.0H208.3V198.7H210.1V244.4H213.1V270.4"/>
<path d="M34.5,74.5L42.9,75.0L50.3,75.4L57.6,75.9H60.8V76.2H66.9V76.3L71.2,76.9H74.8V77.3H79.1V77.5L83.3,77.8H86.8V78.1L91.6,78.3H97.3V78.9H101.6V79.2L108.0,80.2H112.5V80.5L117.6,81.8L126.0,83.4L133.9,86.3H137.1V86.3L145.0,88.4L147.9,90.9H153.2V91.5H160.5V97.4H168.5V107.9L176.8,118.5H180.5V125.0L187.3,128.7H192.7V136.9H197.2V186.1H200.1V222.8H202.1V270.4"/>
<path d="M34.5,74.5L37.9,74.6L42.1,74.8H45.1V74.8H49.1V75.1L53.1,75.3H58.4V75.6H64.8V75.7H70.7V76.0H77.3V76.6L82.1,76.8L88.8,76.8L95.9,77.5L99.2,77.7L104.5,78.5L111.0,78.5H113.6V80.0H117.8V80.2L122.4,80.6H127.3V83.0L132.7,83.7H139.4V86.0L146.8,86.0L150.0,87.4H154.5V90.7L158.5,91.9L166.1,101.9L168.9,103.1L171.8,108.4H177.6V115.1H182.1V116.5H187.2V124.4H190.0V128.6L193.7,130.8H194.3V198.8H205.1V270.4"/>
<path d="M34.5,74.5L42.5,74.9H47.6V75.1L51.3,75.1L55.6,75.2L58.9,75.5L66.7,75.8H71.7V76.3L75.4,76.6H79.8V76.8H87.3V77.4H95.1V77.7H98.4V78.0L106.4,78.8H112.7V79.8H116.2V79.9H119.0V80.8L125.3,81.4L128.7,81.5L137.1,83.2L140.2,85.2L146.5,86.6H153.8V89.9L159.9,96.6H162.7V96.6L167.1,101.9H170.6V107.0L177.0,114.4H180.5V119.4L185.2,119.4H190.7V127.4H196.7V135.5H201.2V141.0H205.3V147.4H210.9V150.6L215.7,154.4L218.7,156.1H219.2V195.2H224.8V224.5H238.4V270.4"/>
<path d="M34.5,74.5H42.7V74.7H49.7V75.2L57.8,75.2L65.5,75.5L71.9,75.6H75.9V76.4L83.5,76.4L90.3,77.2H95.8V77.3L103.3,77.6L108.7,78.8H111.5V78.9L119.5,79.9H122.3V80.1L126.6,80.6H134.2V82.4L137.8,83.5L142.9,84.1L147.4,85.0L150.8,87.4L155.5,87.4L160.7,90.9L168.5,102.3L175.4,110.1L178.2,113.4H182.4V113.4H190.1V123.2H192.8V127.1L197.3,135.5H201.1V139.3H205.0V206.0H211.5V270.4"/>
<path d="M34.5,74.5H37.6V74.7L43.4,75.1L48.2,75.7L54.6,76.1L62.5,76.6L69.4,77.0L76.0,77.6H83.1V78.0H89.5V78.5H97.7V79.1L104.2,80.2L112.0,81.2L117.6,82.5H120.9V83.3L128.0,85.3H136.0V86.7H139.8V88.8H147.6V90.6L155.8,96.3L164.0,102.2L172.4,118.7L179.0,122.3L187.2,132.7L191.4,138.3H195.5V141.4L199.4,147.8H201.1V241.1H210.4V270.4"/>
<path d="M34.5,74.5H40.9V74.6L47.5,74.9L51.5,75.3L54.8,75.3H58.9V75.3L63.2,75.4L66.0,75.4L72.8,76.0H79.5V76.2H82.2V76.4H88.6V76.7H95.5V77.2L98.4,77.2L103.4,77.9H108.0V78.3L115.5,78.5H121.5V79.7H124.4V80.1L130.8,82.2L137.6,83.0L142.0,83.8L146.9,86.4L155.1,88.2L158.6,91.6V127.9L164.3,127.9H170.8V133.7L177.2,142.5H182.2V192.3H271.8"/>
<path d="M34.5,74.5L37.6,74.8L44.7,75.3L52.9,75.9L56.6,75.9H63.2V76.3H71.4V76.9L79.7,77.9L86.5,78.3H89.5V78.4H97.5V79.0H105.1V79.7H111.6V81.1L115.6,81.6L119.1,82.4L124.6,84.2L127.4,84.2L131.6,85.7H139.1V87.7H147.1V91.1L153.8,94.9L161.0,101.1L166.9,107.2L172.7,117.3H177.5V120.0H180.4V125.6L183.4,128.4L188.7,135.7H191.6V140.1L195.3,143.1H199.5V148.9L203.5,149.5L211.9,160.8L217.4,167.3H220.7V167.3H221.8V224.0H225.6V270.4"/>
<path d="M34.5,74.5L37.8,74.7L45.7,75.1L53.8,75.9H56.8V76.0H64.9V76.4L73.3,76.8L80.0,77.4H85.9V77.5H90.6V78.4L98.8,78.8L103.7,79.6L111.1,80.1H117.9V81.4L126.3,83.1L134.7,85.1H138.9V85.9L147.1,88.3L153.8,91.3L159.0,94.2L166.0,104.6L171.3,112.3L178.7,118.2L185.8,125.9L193.4,132.3L198.2,141.1H205.6V153.8L212.3,159.0H219.5V160.8H223.4V167.5H231.0V171.4H231.8V179.3H233.0V204.4H271.8"/>
<path d="M34.5,74.5H37.8V74.9H44.6V75.6L49.7,76.0H53.3V76.3H58.9V76.7H66.1V77.3L72.7,77.3L77.1,78.1H81.7V78.6H84.8V78.6H89.5V79.1L96.3,79.1L100.1,80.0H105.4V80.7H109.5V81.2H112.5V82.0H115.9V82.8H119.4V84.5L122.6,84.5L129.0,86.5L134.6,88.0L137.5,89.6H146.0V91.8H150.2V95.4L155.7,98.6L159.9,104.9L166.3,110.7L170.9,118.0L174.8,124.4L181.2,132.7L188.8,144.3H193.6V144.3H200.2V151.8H206.9V158.8L211.0,164.2H214.5V167.8H215.2V270.4"/>
<path d="M34.5,74.5L39.2,74.8H47.3V75.5L51.1,75.7L56.3,75.8L62.9,76.3H66.9V76.6H71.0V76.8L74.6,77.2L80.1,77.5L88.4,78.0H94.1V78.4L97.4,78.4L103.4,79.9L107.9,80.2L112.1,81.3L117.9,81.8H124.5V83.0H129.2V84.2L133.7,85.7L136.8,86.7H140.5V86.9L147.0,90.2L153.3,92.4L157.9,96.7L161.4,99.1L167.5,108.3L172.9,114.7L178.0,122.1L186.2,131.5L192.4,136.9L199.2,145.5H203.4V151.0L209.7,162.4H216.0V164.4H221.7V166.5H230.0V172.2L236.1,179.4L239.3,179.4H242.7V189.8H248.5V199.7H271.8"/>
<path d="M34.5,74.5H39.0V74.6L42.2,74.7H50.6V75.1H56.4V75.1L62.5,75.7H67.1V75.8L72.7,75.9L77.4,76.5L84.6,76.6H91.4V77.2L96.7,77.7H102.2V77.7L109.2,78.7L115.4,79.2L121.2,80.5L128.3,81.6L131.4,82.7L135.3,83.1H138.7V83.5L141.3,85.7H147.6V87.1H151.2V87.1L156.2,89.9H160.9V92.5L166.3,101.7H174.7V110.8L182.1,116.6L189.7,125.9L192.8,125.9L198.1,135.6H204.1V143.2L209.1,145.3L212.8,150.1H216.0V152.5L223.4,159.1H228.9V162.3H229.6V199.8H231.7V236.0H233.4V270.4"/>
<path d="M34.5,74.5L39.6,74.9H43.8V75.2L50.9,75.4H59.0V76.1H67.2V76.3L73.6,76.8H77.0V77.4L80.7,77.4L84.0,77.5H91.9V78.2H99.5V79.2L106.1,79.7L112.3,80.5L116.8,81.7L125.1,83.1H132.5V84.7H136.4V85.8L142.9,89.3L150.4,92.0L153.9,92.2H160.5V98.3L164.7,104.6H170.4V112.2H173.5V115.2H178.0V121.3L184.7,128.4H190.3V135.1H197.7V143.0H202.8V150.2H209.4V155.9L215.3,160.5H221.3V164.2H224.4V186.9H225.5V196.3H227.7V211.8H232.7V270.4"/>
<path d="M34.5,74.5L39.7,75.0H44.1V75.3H52.5V76.0H59.8V76.6L63.3,76.6L71.2,77.4H75.6V77.8L81.7,77.8H84.9V78.1H88.1V78.8L94.8,78.9H101.8V79.9H105.6V80.4L108.6,81.2H115.6V82.1L120.2,83.4L128.6,84.6L133.6,87.1L138.4,88.6H143.1V90.4H146.4V91.9L149.3,93.0H151.9V95.2L156.4,98.1H164.1V106.5L172.5,119.0H175.3V120.1H178.2V123.3L186.6,132.8L192.5,145.0H193.2V207.1H200.3V270.4"/>
<path d="M34.5,74.5H38.2V74.7L44.1,74.9H51.6V75.0H54.4V75.2L61.9,75.5L64.6,75.5H71.9V76.0L76.1,76.2L84.5,76.9H91.8V77.4H98.6V78.1H101.4V78.5L104.7,78.5L107.9,78.6L111.9,78.9H119.0V80.5L123.4,80.6H131.3V81.2H138.9V84.3H141.6V85.8L148.1,86.2H152.6V88.8L159.0,91.4H163.7V94.0L169.2,103.5H176.6V110.0H184.9V119.4L191.5,125.6H198.6V136.7H202.7V141.6H208.5V147.4L213.0,153.6L216.9,153.6H224.0V160.2L227.1,162.8L233.3,163.0L238.2,167.6H242.9V202.0H247.6V270.4"/>
<path d="M34.5,74.5L38.9,75.1L43.2,75.4L51.2,76.3H59.7V76.7L62.8,77.0H65.4V77.2L71.7,77.8L78.0,78.0L86.3,78.7L91.9,79.5H95.9V79.6H100.4V80.3L108.4,80.9H115.2V82.5L118.7,84.0H125.4V85.6L129.7,86.3L136.5,90.0L143.8,93.7H148.1V94.3H156.5V101.1L159.7,105.3L164.7,110.5L167.9,115.3H171.2V120.7H174.1V123.5H180.7V134.2L185.6,139.1L191.0,143.5L198.6,154.0L204.3,160.7L208.7,166.0H214.3V173.7H220.9V182.3H226.4V186.9H271.8"/>
<path d="M34.5,74.5L40.3,74.6L46.3,74.8H52.6V75.2H56.9V75.2L64.5,75.6L68.0,75.8L74.5,76.3L78.0,76.5L80.7,76.6L86.2,76.9H88.7V77.5H93.6V77.5L96.7,77.7L101.6,78.6H108.9V78.9L115.1,79.6L121.5,80.7L124.7,81.3H129.0V81.3H134.8V82.7L142.0,85.9H148.0V86.2H153.7V90.6L162.1,95.6L168.6,105.6H174.7V110.7L180.0,114.6H188.0V124.8L192.7,130.3H200.6V140.3H206.6V146.3L212.0,151.4H217.5V156.0L223.0,159.5H226.3V270.4"/>
<path d="M34.5,74.5L41.6,74.8L48.3,75.1H51.6V75.1L59.6,75.7L67.4,76.0L70.8,76.2L79.2,76.6L85.2,77.2H92.8V77.6L95.6,78.0H104.0V78.7L108.0,78.8L114.4,80.1L120.4,81.4L128.1,81.6H135.7V83.2L140.1,85.4H146.0V86.6L154.0,90.3L157.4,93.9L164.7,100.2H168.1V105.4L173.8,113.0H180.2V118.4L182.9,119.6H191.0V129.4H198.8V140.4H202.5V270.4"/>
<path d="M34.5,74.5L40.4,74.9H43.9V75.1L50.3,75.6H57.0V76.1L64.5,76.1L70.3,76.9L77.4,77.0H81.6V77.2H87.1V78.1L91.7,78.2L99.1,78.9H102.3V79.0H107.1V79.9L114.8,81.6L120.3,81.6L125.9,83.6L128.6,84.1L136.6,87.2L144.0,88.0L151.8,92.2L158.8,95.4L161.5,99.4L164.7,104.2L167.7,106.1L173.2,114.0L179.4,124.1H184.0V127.4L187.2,131.7L192.0,135.1H197.3V143.6H204.4V146.5H207.2V198.9H209.7V216.5H212.4V270.4"/>
<path d="M34.5,74.5H40.5V74.9H48.7V75.2H54.0V75.7L58.2,76.0H60.8V76.1L65.2,76.3L73.3,76.6H79.7V77.2H85.0V77.7L90.8,77.8L97.8,79.0L103.6,79.3L106.9,79.5H112.1V80.7L115.0,81.0L119.7,82.1H125.1V82.5H133.5V84.9H136.4V85.6H143.4V88.1L149.3,89.9H152.0V91.8L159.0,94.7L167.3,107.7H171.8V111.0L176.2,115.1H184.2V128.2H192.7V136.5L200.8,147.0L206.2,152.5H209.8V153.7L214.8,160.5H214.8V270.4"/>
<path d="M34.5,74.5L37.7,74.8L45.3,75.5L51.8,76.0L56.9,76.2L64.6,76.7H69.6V77.3L73.1,77.4H80.9V77.8L86.1,78.2L91.9,78.8H98.0V79.6H100.5V79.6H106.5V81.0L114.2,82.0H117.7V82.6L122.5,84.4H126.9V84.6L131.3,85.1H135.7V87.7H142.7V90.7H146.9V92.4L152.1,95.7H159.9V101.2H166.8V110.8L173.5,121.0L178.0,125.8H184.0V134.8L190.9,138.6H195.0V270.4"/>
<path d="M34.5,74.5H40.6V74.9L46.2,75.2H54.5V75.4H61.9V75.9L68.1,76.3H75.4V76.3H83.1V77.2L89.2,77.6H92.5V77.7H97.1V78.4H105.5V79.0L109.0,79.5L117.1,80.7L123.3,81.8H130.7V84.1L139.1,85.7L143.0,88.2L148.3,89.9L152.3,90.1L155.2,92.7L161.9,99.2L168.5,107.7L175.9,115.3L184.0,125.0L191.8,131.5L200.1,144.1H206.0V151.2L214.3,157.8L219.5,163.1H222.4V163.1L227.2,167.6L234.3,170.7H239.7V270.4"/>
<path d="M34.5,74.5H37.1V74.8H39.9V75.2H48.2V76.0H56.1V76.7H62.6V77.2L67.5,77.3L70.4,77.8H76.7V78.3H84.7V78.7L88.1,79.3L93.3,79.3L96.4,79.9L101.3,80.6L108.4,81.7L112.0,82.5L118.5,83.5L121.7,84.2L126.2,85.2L134.2,87.8H140.4V89.7H143.0V92.6L147.4,95.0H151.2V95.2H155.9V99.5L164.1,110.0L166.9,110.5H174.4V123.0L182.3,135.8L188.0,145.1L195.4,147.5H196.6V227.7H271.8"/>
<path d="M34.5,74.5L38.7,74.8H44.5V75.3L49.3,75.4H54.7V75.9H61.5V76.2H64.2V76.5H68.6V76.6L74.4,77.1L82.6,77.7H90.0V78.2L95.2,78.6H103.2V79.7H106.1V80.0H111.2V80.8H117.4V82.1L125.6,83.8L128.6,84.5L133.6,85.6L136.5,86.8H139.4V86.8H145.9V90.2L151.0,92.4H154.6V94.0H159.5V98.4L166.1,101.1L173.3,117.0L176.9,121.8L184.7,126.3H192.6V140.2L198.2,146.3L202.3,148.3L206.3,150.7H214.1V161.4H217.4V218.0H223.5V242.2H229.5V270.4"/>
<path d="M34.5,74.5H39.9V74.8L48.2,75.2L51.0,75.3L54.6,75.7L57.8,75.7L62.7,75.9L69.2,76.1L74.4,76.5L80.2,76.7H87.3V77.1H89.8V77.5L93.6,77.9L97.7,77.9L102.9,78.5H107.0V79.4H115.2V80.0H118.7V81.2H123.2V81.2L126.7,81.9L133.5,85.0H140.3V85.9H148.0V87.6H154.8V91.4H158.5V93.8H166.8V103.1L170.4,108.0H173.9V112.1L177.7,117.5H184.8V270.4"/>
<path d="M34.5,74.5H39.3V74.8L47.7,75.3L54.6,75.7H60.7V76.1L67.9,76.6L70.8,76.9L76.6,77.1L81.7,77.8H86.0V77.8L90.8,77.8H93.9V78.4H97.2V79.1L100.3,79.2H103.6V80.4L110.2,80.4L117.3,81.8H123.6V82.8H131.7V85.3L137.4,87.2L142.2,88.9L145.6,89.4L149.4,91.9H154.9V92.9H160.2V98.6L162.7,103.5L165.5,104.7L169.1,109.6H173.9V114.7L178.3,119.9H179.1V174.0H189.0V270.4"/>
<path d="M34.5,74.5L42.8,74.9H46.6V74.9L50.2,75.3H58.6V75.3H66.3V75.8H69.2V76.1H73.5V76.1L79.3,76.4L84.8,77.1L92.8,77.4L96.1,77.6L100.4,77.8H104.8V78.7L110.4,79.2L114.9,79.3L121.6,79.8H128.3V81.4L131.8,81.8L137.6,83.2L143.7,85.9H151.6V87.6L155.4,90.3L158.0,90.3H161.7V93.8L167.3,101.1L171.3,107.2H179.7V117.4L185.2,121.3H189.7V125.5L193.1,127.5H201.5V270.4"/>
<path d="M34.5,74.5L40.1,74.9H47.5V75.3L51.6,75.9L59.4,75.9L63.0,76.2L68.8,76.8H75.7V76.9L83.0,77.2L89.1,78.2L96.5,78.4H102.1V79.4H110.4V80.1H115.4V81.0L120.0,81.9H126.4V83.5L130.8,84.0L135.4,85.2H138.0V86.8L146.2,90.0L148.7,90.1L151.9,91.2H157.7V95.5L163.1,99.9L166.4,105.1H172.1V111.8H179.9V124.2L187.7,131.3L191.9,133.9H195.1V225.3H201.9V270.4"/>
<path d="M34.5,74.5L37.1,74.8L44.6,75.5H49.3V75.8H54.7V76.1L57.6,76.7L63.0,76.9L67.8,77.6L71.1,77.6L78.3,78.0H82.6V78.4H86.6V79.0L94.4,79.3L97.9,79.6L104.8,80.7L107.9,81.3L110.6,82.1L117.7,82.7L122.0,83.7L127.8,86.0H135.1V88.5L138.3,88.5H142.0V90.2L147.9,92.7H153.3V95.1L160.9,104.8H166.5V111.6H169.5V115.3L177.0,124.5H182.3V135.5L190.2,145.2L196.8,150.0H199.0V270.4"/>
<path d="M34.5,74.5H37.9V75.0L46.1,75.8H53.0V76.4L57.6,76.7H61.2V77.1L68.6,77.5L74.9,78.4H79.5V78.8L83.2,79.1L87.0,79.4H90.9V79.4H97.7V80.5H105.8V81.4L111.0,83.0L119.2,83.9H124.7V86.1H131.1V88.5H139.1V90.5L142.9,92.5H149.1V95.8H154.3V99.7H158.4V103.1L164.5,114.2L167.1,114.3L172.7,121.9L177.5,129.6L180.8,131.2L188.9,146.3L194.2,150.9L201.2,160.8H204.9V164.2H206.1V247.3H219.7V270.4"/>
<path d="M34.5,74.5L40.1,74.8L43.2,74.9L50.5,75.5L56.6,75.7L64.9,76.1H72.4V76.7L78.1,77.0H81.5V77.2L86.2,77.5L89.3,77.7H95.5V78.2L100.1,78.6H106.5V79.5H113.3V80.4L118.8,80.7L124.0,81.8H129.7V83.1L136.0,85.3L142.7,85.4L145.6,87.7L153.7,90.5L160.3,97.2L163.8,100.7L169.4,106.9H177.8V118.2H183.1V125.0H188.0V131.0H196.4V137.9H199.0V189.5H200.5V203.6H202.8V234.5H271.8"/>
<path d="M34.5,74.5H40.1V74.7L45.4,74.9L49.2,75.1L51.7,75.1L55.3,75.2H63.8V75.8H68.2V75.9H73.6V76.1H79.3V76.6H87.7V77.0L92.4,77.4L97.8,77.9H105.3V78.5H112.4V79.6L114.9,80.0L121.6,80.0L128.1,82.3H134.9V83.3L138.4,84.2L146.4,87.1L151.1,88.5H155.4V89.2L158.5,91.8H164.0V96.3L167.9,103.6L171.9,109.3L174.5,112.4L177.8,112.6H181.3V119.1H186.2V121.9H192.0V128.6H198.5V138.2H202.2V175.7H203.9V270.4"/>
<path d="M34.5,74.5L38.2,74.9H43.3V75.6H46.5V76.0H51.6V76.4L57.0,76.7L61.1,77.2H68.6V77.9H72.8V77.9L80.8,78.8H88.6V79.1L91.4,79.6H97.2V80.3L105.6,81.8L112.8,83.1L119.2,84.4H122.1V85.0H124.9V85.9L131.6,87.7H135.8V89.3L141.5,92.1H149.5V96.4H155.0V99.7L161.1,109.3L166.9,114.8L171.5,121.5L178.3,132.1L185.2,141.7H192.4V149.0L197.2,154.0L204.6,161.5L213.0,170.6L215.5,171.8H220.7V175.7H228.7V179.3L231.5,185.1H233.5V190.5H238.3V196.2H244.3V199.7H249.0V270.4"/>
<path d="M34.5,74.5L38.9,74.9H42.0V75.1L49.3,75.8H53.7V75.8L61.0,76.3H66.0V76.5H70.2V77.1H78.7V77.7L83.8,78.1L87.8,78.3H92.5V78.7L99.8,79.5H108.1V80.7L113.7,81.9L118.2,82.6H122.9V83.9L128.5,84.3H131.7V86.3H136.3V86.9L141.8,89.0H147.0V91.8L151.6,93.6H159.8V101.9L167.6,109.3L173.9,119.6L181.2,127.2H185.0V164.0H186.7V221.5H192.0V270.4"/>
<path d="M34.5,74.5L42.4,75.0L47.0,75.0H52.8V75.4H58.9V75.8H63.1V76.2L70.7,76.6H78.1V76.9H84.3V77.6L91.5,77.6H94.5V78.0H99.1V78.3H106.6V79.7L114.1,80.5L121.0,81.3L125.9,82.3H129.7V83.5H136.4V85.0L139.3,85.3H145.3V88.0L149.6,90.9L153.7,91.6L157.9,94.6L161.3,98.2L167.6,106.7L170.9,108.4L177.1,116.5L184.7,122.6L189.1,132.2L191.9,132.2L198.1,141.0L201.7,145.4H209.8V152.7L217.2,158.9H222.6V200.2H229.3V270.4"/>
<path d="M34.5,74.5L42.7,75.0L49.2,75.4L56.7,75.7H60.6V76.0L68.3,76.4L71.2,76.7H77.5V77.3L80.5,77.7H84.8V77.7L88.9,78.0L94.5,78.3H98.5V79.5L103.5,79.5L111.4,80.8L117.5,81.6L123.2,82.0L126.7,83.5H131.9V83.9H136.0V85.4H143.4V88.7L148.7,90.5L156.1,94.2L162.1,100.3L166.3,105.8L170.4,110.3L175.5,117.4L179.4,122.6H182.1V124.9H185.6V126.9H188.4V132.0H196.8V140.2H200.1V270.4"/>
<path d="M34.5,74.5L41.7,74.7L49.9,75.0L58.2,75.3H64.5V75.7L69.8,75.7L73.0,76.5L78.9,76.5L84.1,76.6L89.7,77.1L97.0,77.2H102.0V77.8L105.7,78.4L111.9,79.0H116.4V79.8L123.8,80.8L128.7,82.7H132.0V82.7L138.7,84.5L145.9,85.8L153.7,89.8L159.2,93.8L164.0,95.8L167.5,101.9L170.6,103.8H174.3V106.8H178.4V115.0H185.4V117.9L188.7,121.7H196.1V135.8H196.9V168.6H207.7V270.4"/>
<path d="M34.5,74.5H39.1V74.7L45.5,75.0L52.9,75.4L59.4,75.4L63.7,75.9L72.2,76.3L76.7,76.4L82.8,77.0H87.5V77.0L95.2,77.6L100.1,78.4L107.2,78.5L111.0,79.0L113.8,80.2L122.1,80.8L130.5,82.1H135.3V83.5L141.1,84.9L148.1,88.9L152.2,88.9L156.7,92.5L159.7,92.8L163.1,96.5H166.8V102.5H172.1V108.6H179.0V118.0H186.2V123.9H192.7V127.9H197.8V137.6L205.5,148.0H211.6V187.1H215.1V205.7H217.9V245.2H221.7V270.4"/>
<path d="M34.5,74.5L40.8,75.0L45.9,75.3L53.6,76.0H57.9V76.1H64.6V76.7L69.5,77.2L73.1,77.2L80.9,77.9L85.4,78.0L88.8,78.2H93.2V78.6L96.2,78.8H103.0V79.7H108.6V81.1H112.6V81.1L117.2,81.4L122.2,83.2L130.7,85.7L136.8,86.2L144.9,90.0L149.6,92.5L155.3,95.4H163.5V102.5H166.3V106.9L173.1,115.5L180.3,125.7L182.9,125.7L186.3,132.6H194.6V142.3H198.5V150.2H202.3V150.5L207.2,159.1H211.1V160.1L219.5,165.9H225.4V169.3L228.1,173.5H236.5V176.9H239.1V184.8H245.9V201.0H247.6V210.4H249.0V270.4"/>
<path d="M34.5,74.5L37.0,74.6L44.3,74.8H50.4V75.1L57.3,75.4H60.0V75.4L64.8,75.5L70.7,75.7L74.2,76.2H80.7V76.9L87.7,77.2H94.6V77.4L102.9,78.4H108.9V78.9L111.8,78.9L116.8,79.8L124.6,81.5L130.6,81.5L135.7,83.4L140.0,83.6H144.9V86.2L147.8,86.8L154.7,89.9L162.9,95.3L170.0,103.0L176.7,110.5H185.2V120.1L192.4,130.0H199.8V139.4H206.5V147.5L211.7,151.2H215.8V270.4"/>
<path d="M34.5,74.5L38.3,74.9H44.2V75.5L52.5,76.1H60.1V76.7H67.5V77.4L74.6,78.1H82.7V78.2L90.0,78.8H94.1V79.2L97.5,79.3L104.7,80.6L107.8,81.1H111.8V81.5L117.7,82.8L123.4,85.2H128.0V86.2H132.5V86.9H137.6V89.2L143.2,90.5L150.3,94.9L154.7,97.2L162.0,106.7L170.2,115.5H173.4V121.8L180.9,130.7H188.3V139.7H191.6V143.4L196.3,150.8H198.1V270.4"/>
<path d="M34.5,74.5L38.1,74.6H44.2V74.8H48.7V74.9H53.6V75.0L56.4,75.2H59.7V75.6L64.8,75.8L70.1,75.8L73.3,76.1L76.3,76.5L84.3,77.0L89.7,77.1L95.5,77.4H98.7V77.4L105.9,78.7L114.4,79.5H119.5V79.9L124.2,80.8H128.5V81.4H134.1V82.9L142.1,83.7L145.7,85.7H151.6V87.9H155.0V88.6L160.6,92.6L168.5,101.5L175.4,113.4L183.2,120.7L186.1,122.4L194.0,130.6L196.5,136.7H202.9V144.3L208.1,146.9H212.4V151.5H216.9V195.6H219.2V256.7H271.8"/>
<path d="M34.5,74.5H38.9V74.5H41.8V74.8H47.9V74.9H54.3V75.3L57.5,75.3H60.0V75.4L63.9,75.4H70.0V75.5H76.8V76.5H81.5V76.7L86.9,76.8L92.2,77.3L100.2,78.3L107.3,78.3L115.1,79.9L118.7,79.9L123.2,80.9L129.3,81.9H136.6V83.4L142.1,85.3H145.1V85.5H152.2V88.3L157.6,90.4L162.7,94.7L168.8,102.1L175.0,109.1L177.8,114.6L181.8,118.8H189.6V125.4H192.9V133.9L196.7,134.5L203.8,143.7L207.3,146.3L212.3,149.3L219.7,159.0H222.7V229.5H228.5V270.4"/>
<path d="M34.5,74.5H42.5V75.0H50.5V75.3L56.5,75.9L61.4,75.9L66.9,76.0H73.1V76.5L79.4,76.8H87.9V77.6H90.9V77.8L97.1,78.1L102.7,78.7L110.8,79.7H117.9V80.9L125.7,82.7L129.4,83.5H133.5V83.8H136.1V86.2H142.6V86.9H147.4V88.1H154.6V91.8H157.7V93.3L163.1,98.7H169.8V107.1H174.5V114.1H177.7V118.9H182.3V121.9H189.4V130.5H192.3V270.4"/>
<path d="M34.5,74.5L39.8,74.9H43.8V75.4L46.4,75.5H50.6V75.6L56.5,76.3H63.6V76.8L68.8,76.9H76.9V77.6L83.8,78.1L86.7,78.5H91.5V79.0H98.7V79.0L105.8,79.6L113.1,80.6L116.3,82.1L124.6,83.5L130.4,84.9H135.8V86.8L143.1,88.8H150.4V92.6L153.0,92.7L156.0,95.2L159.9,99.6H165.5V107.7H171.2V112.4L176.9,122.5H185.3V133.6H188.3V134.6H191.6V141.0H194.9V143.0H202.8V151.9L207.1,156.1L215.5,165.0H220.3V190.5H226.8V197.7H228.7V206.3H238.4V270.4"/>
<path d="M34.5,74.5L37.5,74.7H41.3V75.0H47.6V75.4H50.2V75.4L57.3,75.9L65.1,76.4H72.0V76.7L74.9,77.0H77.7V77.0H85.8V77.6H89.6V78.1L93.0,78.1L100.0,79.0H104.3V80.0H107.4V80.0L111.3,80.3L116.2,81.2L122.5,83.0L128.6,84.3L134.1,84.9L141.4,87.5L145.0,88.5H152.4V92.4H155.1V93.0L162.6,100.2H168.9V107.4L173.8,115.5H176.5V118.6H179.9V120.6H186.5V128.3L190.9,134.8L193.9,138.4L199.8,146.1L208.0,156.7L212.0,157.9H216.0V255.2H229.9V270.4"/>
<path d="M34.5,74.5L41.7,75.1H45.4V75.1H52.6V75.7H60.9V76.0L63.7,76.0L72.0,76.8H76.5V76.9H84.8V77.8L92.2,78.0H96.3V78.3L99.7,79.2L105.7,79.5H109.7V79.9H114.0V80.5H121.8V82.1L125.8,82.4L133.9,84.2L137.9,85.9H145.8V89.5H148.4V90.0H155.3V91.6L162.3,99.1L167.6,106.4L175.2,116.8L182.3,125.6L189.1,132.2L192.1,136.4H196.8V141.4H204.7V145.9L210.9,155.4H217.6V161.9H225.8V168.8H233.5V172.2H237.3V270.4"/>
<path d="M34.5,74.5L40.9,75.0L45.4,75.4L51.8,75.7L55.2,75.9L57.7,76.0L64.3,76.7L69.1,77.2L75.7,77.4L79.7,77.9L85.2,77.9L91.4,78.3H99.5V78.9L104.4,80.1L112.7,81.6H115.4V81.6L122.9,83.2L127.1,84.0H133.0V86.4H138.7V87.3L145.3,89.5L152.2,93.6L156.8,96.0L162.7,101.8L167.7,108.7L174.6,116.9L182.0,130.5L189.2,136.5L196.7,145.9H200.9V186.1H202.1V209.1H204.1V270.4"/>
<path d="M34.5,74.5L40.6,74.7L47.2,75.2L55.2,75.5L63.7,75.5L66.7,75.9H71.0V76.3L73.8,76.4L77.6,76.4L81.7,76.7L89.3,77.1H94.5V77.8H102.6V77.8L107.0,78.8L110.6,79.6L114.6,80.0L121.0,81.4L127.6,82.9H133.2V83.7H137.4V85.0L143.7,86.0H146.8V86.5H150.7V88.9H156.7V92.4H164.0V99.4L170.1,107.3H173.4V109.8H177.3V113.5L181.4,121.7L189.4,125.9L192.7,129.0H201.0V143.6H206.9V150.4H212.3V152.6H216.8V155.6L222.1,161.7H222.6V217.8H271.8"/>
<path d="M34.5,74.5L38.0,74.9L41.5,75.2H45.2V75.6L51.8,76.2L58.2,76.5L60.8,76.8L68.4,77.6H73.4V77.6H80.8V78.3L88.2,78.7L92.4,79.6H97.1V79.9H105.4V80.9L111.1,81.5L117.8,83.0L123.9,84.4H130.9V85.9L134.9,88.0L141.2,89.3H147.9V93.2H151.3V94.2L157.7,101.1H165.6V108.2H173.2V120.3L176.0,122.8L181.2,133.3L187.1,139.7L190.0,144.3H195.8V151.2H199.5V270.4"/>
<path d="M34.5,74.5L41.0,74.9H49.4V75.4L54.9,75.4L59.3,76.0L64.5,76.0L68.1,76.4H73.0V76.4L76.8,76.9H84.0V77.2L91.6,77.7L95.0,77.9L99.4,78.6H105.8V79.7L114.2,80.7L118.5,81.2L122.3,82.5H126.9V82.8H133.2V84.9L137.2,84.9L141.4,86.4H145.0V87.6L151.8,89.9L159.1,95.9H165.6V103.4L171.0,108.6L176.9,117.6H180.7V122.9H188.9V130.7L191.8,134.3L195.0,138.6L202.6,147.3H206.2V147.6H210.5V154.6H216.2V159.9L221.2,164.8H221.6V194.4H224.3V235.8H236.6V270.4"/>
<path d="M34.5,74.5H41.8V75.2L50.2,75.8L57.6,76.3L61.3,76.5H65.3V76.8H70.0V77.2H77.3V77.8L84.3,78.0L91.7,79.0H96.4V79.0H104.3V80.2H112.1V81.4L116.0,81.9L120.8,83.1L127.6,84.6L134.2,86.6H142.1V89.9H145.7V90.9L149.0,92.4L155.4,94.7L161.5,100.1H165.9V108.8L169.9,111.9L175.6,124.3H180.5V124.7H186.8V132.1L193.4,143.9L201.2,151.6L205.6,156.5H212.4V163.4H216.6V270.4"/>
<path d="M34.5,74.5L42.3,74.7H47.6V74.9L52.2,75.1H60.4V75.3L68.5,75.6L72.5,76.1H76.5V76.3L81.5,76.4L89.5,77.4L94.2,77.4H99.6V77.5L104.4,77.9L110.4,78.8L118.1,79.7L122.7,80.6L130.7,81.5V130.7L138.0,130.7H140.6V131.0H144.2V133.1L148.7,134.0H154.6V136.1L162.4,139.1H168.6V149.1L176.7,157.3L179.3,159.9H179.5V270.4"/>
<path d="M34.5,74.5L37.3,75.0L44.4,75.6L52.8,76.7H55.8V77.1L60.4,77.6L65.0,77.6L70.4,78.1H74.7V78.9H79.8V78.9H88.1V79.8L93.8,80.2H97.2V80.4L100.7,81.4L108.0,82.5L114.7,84.4H120.6V86.1L125.5,87.3H134.0V90.4H139.1V93.3H142.4V93.4L149.4,98.1H153.5V100.2H156.1V103.4H161.7V110.2H166.7V115.6H169.8V122.1H173.9V129.0H177.3V132.4L182.0,140.7H185.9V143.4H191.2V149.2L195.7,156.0H198.9V163.3H207.1V167.4H212.9V214.5H217.7V251.2H223.0V270.4"/>
<path d="M34.5,74.5L41.6,75.2L45.6,75.5L50.2,75.8L58.2,76.2L63.1,76.7L68.2,77.2L71.6,77.3L78.9,77.8H84.8V78.4L87.9,78.4L94.6,79.2L100.9,79.9H105.4V80.8H111.9V80.8H115.3V81.9H123.3V84.0L129.1,85.6H136.8V87.1H142.7V90.1L149.4,92.7L152.1,95.5H155.0V95.6H159.5V98.8H167.7V110.1L172.8,118.5H181.1V129.0L188.5,139.8L191.8,139.8L198.2,150.2H200.0V217.0H271.8"/>
<path d="M34.5,74.5H39.1V74.9H47.1V75.7L52.0,76.1L56.3,76.6H63.7V76.8H68.0V77.2L71.5,77.7L77.6,77.9H86.0V78.8H94.1V79.3L102.5,80.1H106.4V81.4H110.6V82.1H118.4V84.2L121.3,84.7H128.7V84.9L136.5,89.3L144.0,92.3L149.5,94.7H156.8V100.7L162.2,106.4H168.6V113.7L176.1,126.7H183.7V137.6L188.4,139.2L195.0,148.4L199.4,153.8L203.9,157.1H207.2V160.0H213.7V164.7H221.2V172.4L226.0,176.4H233.5V182.6H239.2V242.2H240.9V256.4H246.7V270.4"/>
<path d="M34.5,74.5L39.2,75.0H44.9V75.5H48.7V75.6L56.2,76.3H59.2V76.5H61.7V76.7L66.3,76.8H69.7V77.6L72.3,77.6L75.8,78.0L79.6,78.0L86.9,78.7L92.2,79.0L98.3,79.4L103.1,80.2L110.5,81.8L117.1,82.6L123.8,83.9L128.0,84.8H136.0V88.1L143.7,91.0L151.1,93.9L154.1,94.1L160.7,101.0L166.8,109.6L174.3,121.3H181.5V132.9H184.4V132.9L192.0,140.7H195.0V145.5H200.0V153.3L203.2,155.0H209.3V178.8H211.9V195.5H271.8"/>
<path d="M34.5,74.5H41.1V75.4L47.2,76.4L52.5,76.6L55.3,77.0L63.0,77.5L67.3,78.3L71.4,78.3L76.1,78.7L83.2,79.4L88.9,79.6H94.7V80.3H101.2V81.5L104.4,82.1L109.5,83.6H117.9V85.5L123.9,86.5L130.8,89.8H137.0V92.1H141.3V93.0H147.9V96.3L154.5,99.9H159.0V107.4L163.3,113.0H166.9V116.6L171.2,123.3L176.8,132.2L181.2,137.7L188.7,148.6L192.6,153.5L200.0,161.4L202.5,164.4L210.0,172.2H212.4V193.4H217.9V216.4H220.4V226.6H226.9V270.4"/>
<path d="M34.5,74.5H40.8V74.8H45.0V75.1L52.5,75.3L55.7,75.6L60.5,75.8L68.6,76.0H72.4V76.4H77.6V77.1H84.3V77.3H88.7V77.5L92.1,77.6L95.0,78.2H103.0V79.1L109.6,79.5H116.0V80.9L123.2,81.7H125.7V82.2H129.8V84.1L134.4,85.1H138.1V86.0L144.0,87.5H149.4V89.7H156.9V93.4L162.6,98.0L167.5,105.6L175.1,115.7H183.6V123.1L188.2,126.6H196.0V140.5H199.4V178.1H206.3V231.9H212.4V270.4"/>
<path d="M34.5,74.5L38.1,75.0H42.6V75.6H50.0V76.3H52.6V76.6L60.1,77.2L66.5,78.0H70.1V78.0L78.4,78.6L84.1,78.7L89.3,79.4H95.3V80.0L99.1,80.2H103.3V81.1L111.4,82.9L114.1,83.7L117.6,84.7H125.4V86.9H129.0V86.9H131.6V88.1L138.8,90.5H147.1V94.8L152.5,96.2L156.0,101.8H163.1V109.2H169.3V121.2H177.0V130.2L179.7,132.7L186.8,142.0L192.3,152.7H198.9V158.3H202.0V160.6H207.7V164.5H213.0V172.2L218.6,179.4H224.9V179.7L227.8,184.1H231.4V230.7H271.8"/>
<path d="M34.5,74.5L38.1,74.7H40.9V74.8L46.8,75.2L51.8,75.5L59.7,75.9H65.2V76.1L69.5,76.4L76.3,77.0L82.3,77.4H87.4V77.8L94.0,78.1L97.0,78.2L102.9,79.3H107.3V79.3H114.1V80.7H120.9V81.4L123.5,82.6H127.4V82.9H131.2V84.1L137.3,86.0L140.9,86.8L143.7,88.3H146.6V88.8H153.4V91.8H159.8V97.8L162.7,100.3H169.5V108.4H176.6V118.8L184.9,127.7L191.1,134.7H197.9V141.0L203.5,146.0H209.3V152.2H216.9V163.0L221.2,164.6H227.8V169.4L232.9,170.9L236.0,172.2H241.5V250.8H249.0V270.4"/>
<path d="M34.5,74.5H38.6V75.1L43.3,75.5L49.4,76.2H55.5V76.8H60.8V77.0H65.9V77.8H71.0V78.2L75.5,78.2H79.2V78.4L82.5,79.1H88.3V79.7L95.5,80.0H101.3V81.0L105.8,81.7L111.0,82.8L116.3,84.1H121.2V85.3L129.3,87.5L132.0,88.8L137.5,91.3H144.4V93.6H148.3V96.7L152.5,98.0L157.2,103.0L161.5,108.7L164.5,113.2L172.1,122.9L176.5,131.8L184.5,142.5L189.6,144.1L196.4,156.3L199.7,161.1L205.5,166.0L210.7,166.5H214.7V173.3H219.2V176.7H221.2V233.4H225.2V248.2H231.2V270.4"/>
<path d="M34.5,74.5L39.0,74.6L41.7,74.7L49.4,74.9H56.4V74.9H62.1V75.5L65.8,75.5L71.4,76.0H74.9V76.1H80.5V76.2H85.7V76.8L92.6,76.9H99.8V77.9H105.9V78.2H109.8V78.2L114.4,79.3H117.3V79.7H120.2V80.4L125.0,80.4H128.4V81.8H131.3V81.8L137.8,83.3L144.4,84.7H150.8V88.1L157.4,89.3H165.8V98.0H170.4V102.9L177.2,111.1H183.9V117.4H185.6V149.8H186.6V204.3H190.5V270.4"/>
<path d="M34.5,74.5L38.8,75.1H45.1V75.7L51.3,76.2L57.1,76.7L63.9,77.2L66.6,77.6L69.7,77.6H73.9V78.0H79.7V78.7H83.8V78.9L89.7,79.3H97.5V80.1H103.7V81.4H110.5V82.1L117.8,84.2H125.2V85.9L128.9,87.4H131.5V88.3H136.8V89.4L144.9,93.2L151.8,96.9L156.0,98.1L159.1,103.8H161.9V107.9H168.2V116.8H173.3V125.3H181.6V136.2L185.2,141.0H186.9V270.4"/>
<path d="M34.5,74.5H41.7V74.9L48.6,75.3L53.0,75.5H57.9V76.0H62.5V76.3H68.5V76.3H73.3V77.0H76.6V77.3H83.4V77.4H90.7V78.2L94.6,78.2H97.1V78.5H103.6V79.2L109.6,80.3H116.5V81.0H122.1V82.3H125.4V82.3H131.4V84.4H137.2V86.5H140.6V86.5L146.9,89.7H151.0V90.3L155.4,92.8H161.2V99.2H167.4V104.3L175.5,116.8L183.7,126.2L187.5,129.7L191.3,134.2H194.3V215.0H195.9V270.4"/>
<path d="M34.5,74.5H38.1V74.9L42.6,75.1H46.5V75.5L49.2,75.5L57.6,76.1H65.0V76.6L68.6,76.6H72.7V77.0L78.0,77.7H84.6V78.0L92.7,78.3H97.4V78.8L100.9,79.5L105.6,80.1L113.3,81.2L118.5,82.5H123.0V83.9L128.2,84.9H134.5V86.0H139.4V87.2L143.4,88.7H146.7V90.1H152.1V93.2H159.9V99.3H163.5V104.9L171.0,113.0H179.3V126.4H185.7V132.7L191.5,137.2L198.3,147.6H200.5V167.7H201.5V198.4H271.8"/>
<path d="M34.5,74.5L42.4,74.9L47.2,75.2H52.9V75.4L56.9,75.6L63.1,75.7H65.6V76.2L72.3,76.3H74.9V76.7L83.0,77.1H87.0V77.3L90.8,77.6H97.8V78.1H101.3V78.3L109.6,79.5L115.7,80.1L123.3,81.7H127.3V83.2L131.7,84.2H138.6V85.6L146.9,88.2L151.9,89.4H158.5V92.6H163.7V99.0L172.0,110.6H175.8V111.5H182.0V122.9H185.6V239.4H271.8"/>
<path d="M34.5,74.5H42.8V75.0L50.0,75.5L55.6,75.7L62.6,75.9H68.0V76.1L73.8,76.4L80.5,77.0L87.6,77.6L96.0,77.9L104.0,79.1L111.0,79.8L116.5,81.0H124.2V82.0L128.9,83.8L136.5,85.1L141.2,85.7L144.5,87.7H152.2V91.0L158.1,93.8H166.0V103.5L173.2,115.0L176.0,115.2H180.9V120.3L185.8,126.2L189.5,126.8H193.9V137.3H201.3V144.4H201.6V180.4H203.1V270.4"/>
<path d="M34.5,74.5L38.4,74.5L46.7,75.0L51.3,75.0H54.9V75.0L60.4,75.1L63.5,75.2L68.7,75.4L71.7,75.7L78.2,76.3H85.3V76.7L92.8,77.6H98.6V77.6L101.1,77.8L104.1,78.2H109.5V78.4H112.3V78.5H119.9V79.9H127.8V80.6H134.3V82.3L141.5,84.5L146.2,84.7L153.8,87.2L159.4,89.8L164.3,95.2H168.2V101.2L171.4,103.9H179.7V113.1L183.8,120.0L189.9,126.6H194.1V228.8H201.0V270.4"/>
<path d="M34.5,74.5L40.2,74.7L46.9,74.8L55.0,75.2L57.9,75.3L60.8,75.3L66.4,75.4L71.3,75.8H74.1V76.3L82.2,76.7H85.5V77.3H88.5V77.3L96.7,77.4L102.8,78.5L109.4,78.8L115.0,79.9H121.0V79.9L123.7,80.6H131.2V82.7H137.4V84.1L144.1,85.3L149.1,86.9L154.2,87.6L157.0,92.3H164.2V95.3H168.8V103.8L175.9,113.0H181.0V115.5L185.0,119.2L191.8,125.9H198.0V137.2L202.1,140.3L208.4,144.9L215.5,154.9H217.6V270.4"/>
<path d="M34.5,74.5L37.4,74.8L41.5,75.2H45.7V75.4H49.6V75.9H54.2V75.9L58.5,76.5L63.8,76.8H66.5V76.9H74.1V77.4L82.2,77.9H87.5V78.5L94.7,78.7L99.5,79.8L103.0,80.5H109.2V81.0H116.4V82.4L121.2,83.1H128.6V85.3L133.7,87.1L141.0,88.8H149.4V93.7L152.9,95.1L158.0,97.8H165.4V109.5L171.2,115.4H178.8V123.5H187.2V134.2L194.2,145.7L197.6,148.1H205.5V157.0L210.9,164.4L214.1,164.4L219.7,165.1L224.5,170.4L230.4,177.4H232.0V270.4"/>
<path d="M34.5,74.5H42.9V74.8H48.8V75.0L55.4,75.2L61.5,75.5H68.7V76.3H75.3V76.3L82.6,76.8H85.1V77.0H91.1V77.2H96.2V77.8L103.9,78.1H111.7V78.7H119.4V80.8H124.2V81.7H131.5V81.7H136.4V84.4H142.8V84.4L145.3,86.0L150.6,87.7H154.9V90.1L158.4,91.8H162.5V95.6L169.6,105.0H173.7V109.5L180.6,115.6H184.7V122.2L188.7,122.2L191.4,130.7H193.6V162.3H194.9V177.1H197.9V215.1H204.7V270.4"/>
<path d="M34.5,74.5H42.8V75.3L51.0,75.9L57.4,76.1H64.3V76.8L67.5,76.9L70.9,77.0H76.8V77.7L82.6,77.9L91.1,78.7L97.9,79.5L106.3,80.7L110.4,80.9L117.3,82.2H125.3V84.6L133.1,86.7H141.1V89.9L147.9,92.8H153.5V93.5H158.5V97.9H166.0V108.5H173.7V118.0L181.1,127.2L184.5,134.5H189.0V135.7H195.3V172.3H201.3V235.6H203.8V270.4"/>
<path d="M34.5,74.5L42.1,74.6H50.4V75.0L55.4,75.1L58.3,75.1L63.6,75.1H66.4V75.6H72.3V75.6L80.7,76.3H87.7V76.7L90.3,77.1L94.6,77.1H99.9V77.7L104.4,77.7H112.2V78.5L119.0,79.8L122.7,80.1H125.2V80.4L131.9,81.7H139.2V82.7L143.1,84.3L150.0,85.4L153.5,88.5H162.0V93.2L165.9,98.6H171.4V103.3H178.4V111.3L181.8,116.7H186.5V116.7L189.9,122.8L197.8,132.9H203.4V136.9L210.4,149.3L217.2,152.3H221.7V156.2H224.6V157.4H226.3V231.1H229.1V270.4"/>
<path d="M34.5,74.5L38.4,74.9L42.1,75.1L49.5,75.8L56.3,76.1L60.3,76.2L67.3,76.7L70.8,77.1L76.8,77.7H84.5V78.3H88.2V78.3L94.5,78.9L99.1,79.4L104.4,80.7L109.4,81.0L112.3,81.1H118.8V83.2L122.0,83.2L126.3,84.2H130.9V84.8H136.5V88.3L139.1,88.3H143.9V89.3L146.9,90.7L153.5,93.6L160.2,99.3L163.6,105.4H171.3V113.4H179.5V124.6H186.3V133.0H191.8V141.7H199.3V151.8L204.5,156.1L207.3,158.0L215.5,165.1L219.9,168.5H225.8V172.0H227.3V270.4"/>
<path d="M34.5,74.5L41.3,75.0H47.2V75.5H53.1V75.5L59.3,76.2L64.5,76.4L72.6,77.0L80.6,77.6L88.0,78.1L95.8,78.5L99.7,79.1H105.8V79.8H110.2V80.7L117.3,81.6L119.8,82.0L122.4,82.6H126.3V83.6L134.3,86.0H139.7V87.3L145.7,88.4L150.4,90.6L156.8,95.2H160.5V99.6L163.4,102.5L169.1,111.1L176.1,117.8L182.5,126.1L190.0,135.4L193.5,136.5L199.7,141.2H201.8V270.4"/>
<path d="M34.5,74.5L39.8,74.7L43.4,74.9L51.9,75.3L57.2,75.5L65.4,75.9L68.4,76.1L75.1,76.7L82.5,77.0H88.6V77.1L91.3,77.5L98.6,78.0L105.3,78.9H108.7V78.9L113.6,79.3H121.5V81.5L128.6,83.2L133.0,83.2L139.0,85.6L142.2,85.9H146.0V86.9H148.7V86.9L154.2,90.0L161.3,94.2L165.1,99.5H172.3V110.9L176.8,114.6H183.6V124.1L188.5,126.6H196.2V213.6H200.5V270.4"/>
<path d="M34.5,74.5L39.4,75.1L47.6,75.9H54.5V76.3H61.6V77.1L64.3,77.3H70.6V77.7H76.0V78.1L82.1,78.6L86.0,78.7H92.6V79.5H100.9V80.0H107.0V81.1L115.1,83.4H120.7V85.0L126.8,85.3L133.8,88.9H137.8V90.0L142.5,91.7H148.5V95.2H154.0V97.4L160.6,105.4H167.4V113.6V152.9L173.1,152.9H175.9V154.7H180.5V270.4"/>
<path d="M34.5,74.5L38.0,74.6L44.2,74.9L51.6,75.2L57.5,75.4L60.8,75.7L68.7,75.9H76.3V76.5L79.7,76.8L82.6,77.3L88.7,77.5L95.2,78.0H100.4V78.1L104.9,79.1H109.2V79.2H116.4V79.7L122.2,81.4L130.5,83.1H136.5V84.4L142.8,85.6H151.2V87.8L155.2,90.4L163.4,96.8L167.7,102.3L175.2,115.6L178.8,117.6H182.9V120.0L189.3,125.2H194.6V134.1H198.4V139.4H201.5V227.6H204.8V270.4"/>
<path d="M34.5,74.5L38.2,74.9H42.7V75.2H46.3V75.4H48.9V75.9L56.8,76.4L65.1,77.0H70.5V77.6L75.1,77.7L77.9,78.1L85.0,78.5H92.2V79.4L97.3,79.5L105.5,80.9L110.9,81.5L118.3,82.8L123.6,84.3L129.4,85.3L137.8,89.6H142.2V90.2H150.0V93.2L153.3,96.6L160.4,102.7L165.0,107.6L170.2,118.8L174.7,125.5L181.1,127.0L185.0,136.1L189.2,141.3H192.5V270.4"/>
<path d="M34.5,74.5L42.4,75.5L49.9,76.4H56.0V76.8H61.7V77.4H64.5V77.9L68.0,78.1L76.1,78.9L79.5,79.0L85.4,79.2L89.4,79.8H95.8V80.4L102.6,81.3H105.7V82.2L109.7,83.1L114.5,83.6H121.8V86.0H129.3V87.5L134.7,91.4H141.9V93.8L147.4,95.9L150.1,98.0L155.5,101.4H163.4V112.1L171.6,125.6L175.7,131.0H181.8V140.4L187.0,147.0H191.9V151.3L198.4,160.0L203.8,166.6H209.6V168.9L216.2,175.3H218.2V233.3H221.3V270.4"/>
<path d="M34.5,74.5H39.5V74.7L46.0,74.9L52.4,75.3H58.7V75.9H62.9V75.9L70.2,76.2L75.9,76.6H82.3V77.3L88.0,77.3H95.3V77.6L102.6,79.0L111.1,79.5L115.8,80.2L119.6,81.0L124.9,81.7L132.4,83.2L140.0,84.6H142.8V87.4L147.5,88.2H155.7V93.0V118.9L161.3,118.9L166.3,125.3L170.5,129.8L175.5,137.0H178.8V142.1H181.6V144.8L186.2,148.1H192.5V199.9H197.3V270.4"/>
<path d="M34.5,74.5L40.0,74.9L46.3,75.2L51.9,75.7H57.8V76.1H62.2V76.2L69.6,76.5H74.0V77.0L79.1,77.3L83.3,77.5H89.3V78.3H96.9V78.8H103.6V79.7L107.9,80.1L115.1,81.6L121.3,82.6H127.2V83.4L133.7,85.0L139.3,87.8H144.8V88.9L147.7,90.5L153.2,93.1L156.3,95.7L164.3,105.1L167.4,108.6L169.9,108.9L174.6,115.6H177.3V120.5L182.4,129.1L189.9,136.2H191.0V247.8H271.8"/>
<path d="M34.5,74.5L41.1,75.4L49.2,76.2L55.0,76.8H60.5V76.9L64.1,77.6L71.7,78.0L76.2,78.5L81.8,79.4L88.5,79.6L95.7,80.3H98.9V81.0L104.0,81.9L107.9,82.6H114.2V83.4L121.5,85.8L125.2,86.3H131.9V88.6L135.4,90.8L143.5,94.1L149.1,95.5H154.3V99.1H158.2V104.2L165.8,113.9L173.6,125.2H181.7V142.1L187.8,145.6L192.5,151.0L198.0,157.4H203.1V162.7L208.8,167.0L212.5,172.3H217.2V179.0H219.0V185.9H221.8V199.9H271.8"/>
<path d="M34.5,74.5H37.9V75.1L41.6,75.4L50.1,76.5L53.0,76.7L56.7,76.8H64.0V77.6L71.2,78.1H75.3V79.0L80.6,79.0L87.3,79.6H89.9V80.4L97.5,80.9H103.3V82.1H106.5V82.3H109.9V83.0L117.7,85.1H120.9V86.0L124.6,86.7H132.2V88.8L140.1,93.0H147.7V96.9L151.4,99.0L159.8,105.9L165.0,114.3H172.2V122.6L179.8,136.2L184.6,144.9L187.2,149.6L195.1,155.6H196.0V270.4"/>
<path d="M34.5,74.5H37.7V75.0H44.8V75.6L51.7,76.3L55.8,76.6L61.6,77.2L69.6,77.8L72.7,78.0L79.9,78.7L88.0,79.4H92.6V79.6L99.4,80.8H102.5V81.4H107.0V81.8L113.3,82.8L120.6,85.0H124.1V86.0L126.7,86.8L132.0,88.1H140.5V91.5L143.5,93.4H150.6V97.8H156.3V101.5H164.2V109.3L168.0,116.9H172.9V125.6L175.6,125.6L179.1,132.5L187.4,143.4L189.9,145.2H197.8V156.3H203.9V160.9L207.6,166.3H208.2V198.7H212.9V230.9H217.9V270.4"/>
<path d="M34.5,74.5L39.2,74.7L43.6,74.8H51.4V75.1L57.8,75.5H65.5V75.9H71.5V76.2L75.5,76.7H80.9V76.7L88.8,77.2L93.0,77.6H97.9V77.7L103.9,78.8L109.2,79.3L113.2,79.6L120.5,80.6H127.6V82.2L131.1,82.9H136.1V83.4L143.9,85.9L146.6,87.4H152.9V89.5H159.3V94.1H164.3V97.6H171.0V107.7L175.9,112.8L183.1,118.3H187.5V124.6L192.0,130.4H194.2V270.4"/>
<path d="M34.5,74.5H38.0V74.8L43.3,75.1H47.1V75.3H51.6V75.7H55.7V75.9H62.1V76.2L67.1,76.6H70.8V76.9L76.5,77.4H82.7V77.8L87.7,78.2H91.3V78.3L99.2,79.2H102.1V79.2L110.5,80.4H113.4V81.5L119.1,82.8L121.8,82.8L127.0,83.6H129.8V84.7L135.2,85.8H141.5V88.6V137.5H149.3V137.5H154.2V138.5H160.4V143.1H166.5V152.2H171.7V160.0H178.1V177.5H184.8V191.4H186.7V223.7H271.8"/>
<path d="M34.5,74.5H38.7V74.8L43.0,74.9H45.7V75.1H49.7V75.4H54.3V75.6L56.8,75.8L63.8,76.2L71.9,76.3H75.1V76.8L80.0,77.0L85.1,78.0L89.5,78.0L94.8,78.0L101.7,78.7L109.6,79.5H117.0V81.1H121.1V81.4H127.0V83.2L134.7,84.9L138.7,85.8H142.3V86.2L148.5,89.1L154.9,92.4H160.4V97.1L165.7,105.2L172.5,110.8L180.1,122.3L185.6,127.3L192.3,135.6H195.2V135.6L198.4,141.1L201.4,145.0H204.2V149.8L208.0,150.3H213.6V241.1H225.4V270.4"/>
<path d="M34.5,74.5L37.7,74.8H42.1V75.2L47.9,75.4L53.6,76.0L59.5,76.4L65.3,76.7H71.3V77.2L76.3,77.8L80.8,77.8L86.5,78.0L91.2,78.4L97.2,79.3L102.7,80.0L111.1,81.0L118.4,82.8L126.9,83.9L133.0,86.8L139.1,89.1H146.8V91.7L155.0,96.9H160.9V102.4L165.4,107.2H168.5V110.6L175.6,120.3H178.8V124.7H186.1V128.1H189.7V137.3H194.5V143.0H199.0V148.7L204.4,152.6L212.5,160.1H213.6V270.4"/>
<path d="M34.5,74.5L37.7,74.7H42.5V75.1L49.0,75.6L56.2,75.9L60.3,76.2L67.1,76.6L71.9,77.0H77.1V77.0H81.9V77.6L88.2,78.0L96.5,79.0H102.3V79.4L108.1,80.0H115.8V81.2H120.2V81.6L128.0,84.0H130.7V85.5L138.5,87.3L146.2,88.3L152.8,94.0L160.9,98.4L168.2,107.5V132.1H175.7V132.1H178.8V214.2H182.2V270.4"/>
<path d="M34.5,74.5L37.1,74.9H40.0V75.3H47.7V76.1H54.5V76.8H57.4V76.9L64.6,77.5H71.3V78.4H77.9V79.0H81.5V79.2L85.9,79.3L89.4,79.3L95.0,80.2L101.9,81.2L108.4,81.9H113.7V84.0H116.7V84.7L123.9,85.9L127.2,86.8L133.7,88.9H139.8V92.4H145.5V95.1L152.7,97.5L155.3,100.4H160.8V108.2L165.0,113.7L171.5,121.9H177.3V132.2L183.5,139.6H186.4V144.5H191.8V151.8H199.2V154.8L203.4,161.7L208.7,169.3H208.7V180.5H211.4V194.6H215.6V218.3H220.3V270.4"/>
<path d="M34.5,74.5L38.3,74.9H46.7V75.7H52.0V76.3H58.1V76.4L63.3,76.7H70.6V77.4H78.6V78.0H81.7V78.2L84.7,78.2H91.8V78.7L94.4,79.4H102.2V80.5H109.8V81.9L112.3,82.3H115.0V82.3L121.1,84.3L125.5,85.1H133.4V87.2L140.0,89.5L146.7,92.8L153.3,94.6L156.2,96.2L159.2,100.3L166.1,109.5L173.4,120.3L180.0,130.1L184.4,134.3L191.6,142.5H192.2V207.0H194.1V270.4"/>
<path d="M34.5,74.5H37.3V74.6H45.7V75.1H51.7V75.7L58.0,75.8L64.3,76.3L72.6,76.8L80.4,77.2L86.9,78.0H91.8V78.0L100.0,78.7H106.1V79.3L110.5,80.4L118.4,81.5L123.8,82.5L130.9,84.7L134.4,84.8L140.0,86.4H142.7V88.0L151.0,89.7H158.0V94.3L166.3,106.4L172.6,111.2H180.7V121.0L185.9,129.7H192.5V130.3H197.9V142.5L200.8,145.0H208.3V152.3L215.7,159.1H218.5V159.2H221.9V219.3H226.1V270.4"/>
<path d="M34.5,74.5L40.0,75.1L47.7,75.9L55.0,76.3L63.1,77.0L67.1,77.1L75.4,77.8L78.7,78.2L81.2,78.4H87.8V79.1H95.6V79.5L103.8,80.5L106.4,81.1L109.3,81.4L113.2,82.9H117.3V83.7L124.6,85.0H129.5V87.1H137.8V89.9L144.2,91.1L152.2,95.3H157.6V99.9L164.3,108.4H167.6V115.2H170.3V118.9H175.2V122.8H179.6V217.9H181.3V242.4H183.1V270.4"/>
<path d="M34.5,74.5H38.9V75.2L47.4,76.3L52.4,76.7L58.2,76.9L63.7,77.5L71.6,78.8H78.0V79.0L84.9,79.5L89.5,80.1H95.8V80.5L101.4,81.3L106.9,82.1L114.4,84.2H118.8V85.1H124.7V86.5L127.5,87.7H133.3V90.4L137.4,91.7L140.7,93.1L145.7,96.0L150.4,99.1L158.2,105.5L163.1,112.4L167.8,118.7L174.1,128.0H176.9V270.4"/>
<path d="M34.5,74.5H41.2V74.7L47.1,75.0H52.3V75.3H57.4V75.4L61.9,75.4H70.0V76.0H77.6V76.5L84.4,76.7L91.0,77.7L95.3,77.8H102.3V78.4H107.5V78.8L114.2,79.2L122.2,81.2H125.6V81.9H128.7V81.9L134.1,83.7L137.2,84.7L144.1,85.9L147.0,86.6L149.9,87.2H157.7V91.6H162.5V96.5H166.8V102.8H169.8V106.5H177.7V115.2L184.3,122.4H190.7V124.0L197.4,135.2H201.3V270.4"/>
<path d="M34.5,74.5L42.6,75.7H46.0V76.3H52.2V76.9L57.0,77.1L60.0,77.7L64.4,77.7L69.1,78.2L74.4,78.6L79.3,79.4L84.6,79.8H90.8V80.2L96.5,80.5H103.5V82.2H107.5V82.8H110.9V83.5L118.3,86.2L121.9,87.2L127.8,88.0L135.5,91.4L138.2,92.9H143.0V93.9L148.5,96.9L155.5,104.8H161.3V111.4L165.5,116.3L171.2,124.9H177.3V135.7H184.9V145.9L188.0,147.8H193.7V157.7H201.6V164.7H207.7V173.0H210.0V233.3H215.7V270.4"/>
<path d="M34.5,74.5L42.3,75.2L46.6,75.3L53.5,75.6L60.5,75.8L64.6,76.0L72.8,77.2L77.8,77.5L80.7,77.5H88.2V77.9H92.2V78.3L95.1,78.3L101.2,79.2L104.9,79.8L109.2,80.5L117.0,81.3L123.3,82.6L129.7,84.6L134.8,86.5L137.6,86.7L140.2,87.7H143.7V89.0H149.9V90.6L157.4,94.7L165.7,103.8L174.2,117.0L180.6,124.7H185.6V125.7L192.1,136.9L199.8,145.8L203.5,150.8H206.5V220.9H208.2V233.7H211.4V270.4"/>
<path d="M34.5,74.5L41.0,74.6L49.3,74.8L55.8,75.0H59.5V75.0L62.8,75.3L69.4,75.8L72.4,75.9L76.5,75.9H80.7V76.3L88.7,76.5H96.7V77.6L102.1,77.9L105.7,77.9L112.0,78.8H120.1V79.4L126.1,80.3H134.3V81.4L137.8,82.7L144.0,84.2H148.6V85.4L154.0,86.5H158.5V89.1H163.5V95.0H170.4V100.8H178.0V110.4L182.5,113.9H190.6V126.4L193.4,126.4L198.8,134.0H207.0V142.7H210.4V148.6H213.0V229.3H219.8V270.4"/>
<path d="M34.5,74.5H37.3V74.9L39.9,75.2H47.5V76.0H50.5V76.2H57.3V76.7L64.3,77.6H67.4V77.6L71.6,77.9H76.2V78.1H82.5V78.9H88.2V79.6H92.4V79.6H97.3V80.3L102.3,81.0H106.0V81.8L109.9,82.7L114.8,83.7H119.2V85.1H124.1V85.8H132.0V89.2L137.5,90.5H141.9V92.3L146.0,94.3L151.4,97.4L157.8,103.4L162.8,112.6L170.0,118.5L178.3,135.5L184.9,142.3L191.0,146.1L194.6,152.2H201.3V160.0H204.8V163.5H206.7V239.3H271.8"/>
<path d="M34.5,74.5L38.0,74.9H42.9V75.3L47.7,75.6L56.0,76.3L58.6,76.5H64.1V76.9L70.5,77.2H76.2V77.8L79.4,78.2H84.3V78.2H89.2V78.5L93.5,78.8H96.5V79.0H100.7V79.7L108.2,81.0L115.6,82.9L118.9,82.9L121.5,83.8L128.8,85.6L135.5,88.3H143.5V90.6L150.1,94.7H154.0V94.7H161.3V104.1L167.9,111.2H173.8V122.7L176.7,127.8H179.2V199.9H185.6V270.4"/>
<path d="M34.5,74.5H42.4V74.8L48.3,74.9L53.4,75.1L61.6,75.2H69.6V75.9L73.9,75.9L81.4,76.4H84.6V76.7H88.2V77.1L91.7,77.5H100.1V78.1H107.7V78.9L110.7,78.9H115.1V79.2L120.9,80.3H127.6V81.1H130.7V82.4H136.5V82.9L142.8,85.4L145.6,86.0L153.2,89.0L157.1,92.1L164.9,97.8H169.2V103.7L176.3,110.6L183.2,116.8H186.5V118.4H192.3V124.2H193.4V270.4"/>
<path d="M34.5,74.5H41.9V75.1L45.6,75.6H51.4V75.8H57.3V76.1L62.1,76.6L67.5,77.1L75.8,77.6L82.4,77.8H90.8V78.7H96.1V79.2L101.1,79.9H103.7V79.9H109.5V80.9L117.5,82.4H124.9V84.6L132.7,86.2L137.9,88.4L145.2,90.9L148.0,93.6L154.3,96.3H161.8V105.5L169.3,112.9H173.2V117.1H177.0V122.3H184.4V129.6H191.9V143.8L198.5,148.9H202.9V154.1H208.8V163.7H214.7V163.7H221.2V171.3H227.6V172.8H228.8V233.5H231.5V243.3H237.6V270.4"/>
<path d="M34.5,74.5H37.0V74.8L43.3,75.4H50.0V76.0H57.5V76.5H62.6V77.1L69.0,77.2H72.7V77.7L77.3,77.7L84.1,78.8L90.5,78.9H96.7V79.8H104.8V80.3L110.9,81.6L119.3,83.9L127.5,85.8L135.0,88.1L143.3,91.8L146.2,93.0H148.7V94.3H151.4V94.7H156.8V98.7L163.9,105.7L169.8,114.1L173.8,123.5L177.9,126.7H181.7V133.6H188.4V136.4L193.5,145.7L200.4,153.4H204.8V270.4"/>
<path d="M34.5,74.5H39.3V74.7L43.2,75.0L50.2,75.2L55.3,75.6L63.2,75.9L71.1,76.2H78.3V76.6L83.0,77.1H87.3V77.1H95.0V78.1H98.3V78.2L101.5,78.3H104.1V78.8H106.6V78.8H113.4V80.2L118.3,80.7L121.5,81.2L126.4,82.5L133.4,83.3L136.5,85.1H139.5V86.0L146.3,88.5H150.0V89.1L154.7,90.4L157.6,95.6H162.7V97.8L169.1,105.7L173.6,110.1L181.3,118.9L184.6,125.9L191.9,131.6L199.0,140.9H200.5V220.8H271.8"/>
<path d="M34.5,74.5H42.0V75.0L45.3,75.2L52.8,75.8L59.0,75.9L63.0,76.3L66.2,76.5L74.5,76.5H77.1V77.0H84.2V77.9L91.4,78.2L95.0,78.2L100.4,79.0L108.3,79.6H114.7V80.3L120.2,82.2L125.5,83.0L128.0,83.3L132.7,84.5L135.7,85.7H140.9V88.0L144.8,88.0L150.7,90.4H155.5V93.4L159.2,95.3L166.5,106.4H173.1V112.9L179.9,122.8L185.7,130.2H194.0V138.7L198.6,140.7L203.5,149.2H210.1V156.6L216.2,157.2L219.6,164.5H220.2V270.4"/>
<path d="M34.5,74.5L40.4,75.0L44.4,75.3H51.1V76.0H58.0V76.0L64.2,76.6H68.9V77.2H77.4V77.8H84.2V78.2H91.3V78.7H97.4V79.2L103.5,79.5H106.9V80.6H114.6V81.7H122.8V83.7L127.8,84.5L131.4,86.8H134.8V86.8L140.0,87.3L147.0,91.3L150.5,93.6L158.4,97.2L165.8,108.9L168.9,113.0L174.9,121.2H177.1V270.4"/>
<path d="M34.5,74.5L41.7,75.3H48.5V76.0L55.3,76.9L60.8,77.2L65.8,77.8L73.4,78.4L79.4,78.8L85.5,79.4H89.1V79.8L92.9,80.1H100.9V81.5H109.3V82.5H116.8V84.1H119.9V85.3L123.3,86.4H125.9V86.8L131.2,89.0H134.0V90.4L138.5,91.5L141.3,93.2L144.3,94.5H147.5V95.5L153.4,97.3L156.6,102.9L164.3,112.8H168.3V117.1L171.3,124.0L176.1,133.8H181.0V137.1H184.1V140.7H190.8V147.5L193.7,154.2L201.3,160.6H209.1V167.4H210.3V181.6H215.6V194.4H222.5V211.7H271.8"/>
<path d="M34.5,74.5L38.4,74.6L45.2,74.8H49.0V75.0H56.5V75.3H62.3V75.3H70.0V75.9H77.9V76.6H83.7V76.6L89.1,76.9L97.2,77.0L99.9,77.8L103.4,78.2H107.1V78.6L110.5,78.9L118.7,79.4H123.7V80.3L127.0,80.9H132.0V81.4L137.6,83.0H145.8V86.3L149.5,86.8L157.2,90.2H162.6V92.3H168.8V102.8L175.7,111.4L182.9,114.8L190.9,129.1L193.9,129.6L202.1,138.9L208.4,148.8L212.2,152.6L220.1,159.9H220.3V198.2H224.1V270.4"/>
<path d="M34.5,74.5L42.1,74.8L46.3,75.0L53.5,75.2L56.3,75.4L62.9,75.9H68.6V76.2L73.6,76.4H80.4V76.9H84.3V76.9L90.2,77.3L93.0,77.4H96.6V77.7H103.7V79.1L110.2,79.1L115.3,79.8H123.6V81.9L126.3,81.9L129.9,82.5L132.6,83.9H136.8V83.9H141.0V84.9L145.3,87.1L151.9,88.3L158.4,92.9H166.5V103.1L173.7,112.9L180.5,115.3L187.1,122.3L191.5,127.2L194.8,132.1H196.9V221.6H200.0V270.4"/>
<path d="M34.5,74.5L38.0,74.6L45.1,74.6L53.2,75.1H56.9V75.1H65.0V75.1H67.7V75.6H71.4V76.0H78.1V76.3H86.3V76.7L92.1,76.8L96.7,77.3L105.0,78.0L107.6,78.0L115.8,79.1H121.2V79.4H124.1V79.9H127.5V80.7L134.4,82.4H142.0V85.3H148.7V86.7L152.8,87.0L160.2,91.0H163.3V93.0L167.9,102.4L176.1,111.7L183.2,113.2H188.4V117.7L192.6,125.5L200.6,137.4H206.1V145.2H209.5V148.6H213.1V149.7L216.8,153.7L223.8,156.8H224.3V270.4"/>
<path d="M34.5,74.5L41.5,75.6H44.6V76.1L50.6,76.7H53.7V77.1H58.1V77.5L62.8,77.7H71.2V78.8L76.2,79.1L82.2,79.8L87.3,79.9L90.8,80.2H97.2V81.3H103.5V82.0H110.5V83.5H117.2V85.2L121.8,87.1L128.1,88.6H135.7V92.2L140.5,94.9L147.8,97.1L154.2,102.1H160.6V109.8H166.7V120.5L170.7,125.8L175.7,134.4H183.2V142.2H189.8V153.6L194.0,161.8L202.3,165.4H209.2V172.4L213.8,178.6L220.2,182.9H221.5V270.4"/>
<path d="M34.5,74.5L39.1,75.2L43.4,75.6H47.3V76.0L55.4,76.6L62.3,77.3L67.4,77.5H73.1V78.1L76.2,78.6L79.2,78.7H86.1V79.2H94.6V79.6H99.2V80.4H104.2V81.2H110.5V82.5L116.6,83.7H122.7V86.3H126.2V86.3H132.0V89.1H137.6V90.5L140.5,91.8H148.8V95.3L154.3,97.9V139.5H160.4V139.5L163.8,144.3L172.1,158.4L179.9,168.0L187.1,178.1L194.5,184.5L199.6,193.5L202.7,194.3H206.9V203.0H209.9V211.7H221.9V270.4"/>
<path d="M34.5,74.5H41.3V74.9L47.8,75.4H50.5V75.5H57.5V75.9H63.7V76.3H66.7V76.3H74.4V76.8L77.8,77.3H80.9V77.3L84.9,77.6L89.7,78.0L95.4,78.6L99.3,79.1L104.5,79.6L112.6,81.0L119.3,82.6L122.7,82.6H127.2V82.6H130.2V84.7L137.9,88.1L143.5,88.3L150.9,90.7L159.3,97.7H165.6V105.0H169.8V109.0H177.9V121.9H181.9V121.9H190.3V133.7L195.1,141.3L199.8,144.7L205.7,153.4H212.6V158.7L216.9,162.3H220.6V191.5H271.8"/>
<path d="M34.5,74.5L38.2,75.1L42.1,75.5H46.0V76.1H50.9V76.7H54.6V76.8H58.6V77.3L62.5,77.5H70.5V78.0H77.1V78.6L82.3,79.2L90.1,79.8L94.1,80.2L100.4,81.4H105.7V82.1L111.6,83.2L119.6,85.8H123.1V85.9L127.9,87.7H131.2V88.4H137.1V91.4L142.7,93.3H146.4V95.2L151.5,98.6L157.3,103.9L163.8,113.1H171.0V123.2L176.2,130.5L182.1,139.5L186.8,142.6L194.3,150.3H200.6V176.8H205.3V200.1H208.6V242.1H219.9V270.4"/>
<path d="M34.5,74.5H40.0V74.9H48.2V75.5L54.4,76.0L60.6,76.4H68.9V76.8H72.6V77.3L77.5,77.3H84.0V78.1H86.9V78.1L91.5,78.5L95.6,79.0L104.0,80.1H109.2V80.8L114.6,81.1H121.4V82.4L128.2,83.5L132.9,86.0H138.2V88.3H141.4V88.9L144.1,89.7H146.9V90.1L153.6,93.5H161.6V102.2L167.8,111.0L173.2,118.8L177.2,122.7H183.0V127.2L186.1,131.3L192.2,136.9H199.0V149.1H202.4V152.1L207.5,157.3L216.0,162.1H219.7V167.7L226.8,172.5H233.5V270.4"/>
<path d="M34.5,74.5H38.2V75.1L41.0,75.5L48.2,76.5L54.2,77.1L59.8,77.9H64.2V78.2L66.9,78.3L70.8,78.7H73.9V79.3L80.2,79.9L87.6,80.4L94.5,81.1L98.0,81.8L106.0,82.5L112.6,84.4L119.7,87.5L126.5,88.9H132.4V90.8L140.3,95.0L148.2,99.2H155.2V102.3L158.5,108.1H165.4V120.0L173.3,129.9H178.9V139.0L185.7,151.4L189.6,156.5L194.9,160.2L198.9,163.9H203.8V171.4H204.8V202.9H209.6V209.4H215.7V223.2H224.9V270.4"/>
<path d="M34.5,74.5L41.4,75.2H46.0V75.8H53.8V76.5H57.6V76.6L60.4,77.0L65.6,77.1L69.4,77.5H72.6V77.6H76.1V78.2L81.2,78.4L87.2,78.6L93.1,79.6H96.7V80.2L102.4,80.7L107.1,81.3L111.7,82.3L114.7,82.9H121.6V84.4L129.7,87.3H133.2V88.1L137.6,90.3L143.8,93.0L146.9,94.5H150.3V94.9H153.8V97.3H161.1V106.3L165.7,111.3H172.5V120.1L180.9,130.2H184.0V135.1L189.2,143.8H193.5V146.1H200.4V158.4H206.2V163.4H208.6V212.3H210.9V270.4"/>
<path d="M34.5,74.5H42.6V75.2H45.1V75.4L47.8,75.8L51.4,75.9H56.7V76.3L64.6,76.6L69.3,77.1H76.1V77.5H82.8V78.1L88.1,78.5L95.3,79.4L99.1,79.8L104.2,80.8L110.5,81.6L113.1,81.6L115.9,83.1H122.9V84.0H130.8V86.6H137.1V88.2L140.5,88.9H144.3V89.9L147.4,91.8H154.5V95.9H161.2V100.8L165.5,107.5H171.1V115.8L176.0,122.1H181.7V131.0H188.9V138.6H192.6V143.0L197.8,148.9H201.6V221.4H208.1V270.4"/>
<path d="M34.5,74.5H41.1V75.2L49.0,75.7H56.8V76.1H65.1V76.9H72.5V77.6H80.8V77.9H86.1V78.3H93.4V78.8H97.8V79.1H104.7V80.7L108.0,81.6H111.4V81.9L118.8,82.4L125.0,84.6H128.8V84.7L133.1,86.0L141.5,89.7H146.6V91.9L150.8,93.4L155.0,95.9H161.1V102.3L165.6,108.5L172.1,116.5L180.0,130.4H186.0V132.3L191.9,141.5L197.9,150.1L205.7,155.9H213.8V165.5H218.3V168.3H221.3V270.4"/>
<path d="M34.5,74.5H42.8V74.8L51.1,75.4H59.2V76.1H63.1V76.1L66.1,76.1L68.7,76.4L75.2,76.7H83.4V77.3H87.1V77.3H92.7V77.7H97.8V78.3L106.2,79.4L114.2,80.1L119.8,81.6H123.2V81.6L127.4,82.7H130.9V83.4V106.4L137.4,106.4H143.6V108.3H148.7V110.0L155.4,112.9L160.2,117.1H166.8V123.0H175.0V132.4L180.8,138.5L187.8,147.6L190.6,153.0L196.0,161.4L198.9,161.4H199.1V207.7H206.8V270.4"/>
<path d="M34.5,74.5L42.9,74.8L46.8,74.9H53.4V75.2L56.7,75.3L60.2,75.3L68.7,75.5H75.3V76.1L81.5,76.4H87.1V76.8L91.4,76.8H94.2V77.4H100.8V77.6H106.3V78.0H114.7V79.4L118.4,80.4L121.9,80.4H125.3V80.9H130.0V82.2L137.1,83.2L145.2,85.3H152.0V86.6H158.5V92.0L165.0,97.1L168.0,101.2H172.0V104.8H175.3V112.9L182.5,113.9L189.3,125.1L196.0,130.7L204.0,141.9H209.6V145.5H214.9V270.4"/>
<path d="M34.5,74.5H40.9V75.1H45.2V75.3L49.3,75.9L52.3,76.1H60.1V76.4L62.9,76.6L65.6,76.9H69.2V77.3L72.7,77.4H80.7V78.2L84.3,78.3L91.5,78.8L95.7,78.8H103.7V80.4H112.1V81.1H117.7V82.3L125.5,85.3L131.0,86.1L138.2,87.4H146.7V90.6H153.9V93.8H161.2V102.1L165.4,108.9H173.4V118.9H176.5V123.4L180.7,131.3L187.3,135.7L195.6,146.1H198.9V150.9H204.8V155.9H209.7V162.0H212.3V162.3L216.9,165.8H220.8V170.2H225.2V172.6H232.4V188.0H246.1V270.4"/>
<path d="M34.5,74.5L40.1,74.6L46.9,74.9H52.3V75.1L58.8,75.3L64.9,75.7L72.1,76.0L75.0,76.4H79.8V76.5H84.5V76.7L88.9,76.9H92.4V77.0H96.8V77.7H102.7V78.0H110.2V78.4L115.8,79.8H123.5V80.5L129.2,82.1H134.4V82.5H137.2V83.9L144.7,85.9H152.4V87.5H160.6V93.1H166.9V99.3L172.5,108.7H180.3V116.0L187.8,122.4H191.6V130.0L194.2,131.1L200.1,135.4H205.8V146.5L210.5,149.4L215.4,152.5H216.2V208.4H219.6V237.7H228.6V270.4"/>
<path d="M34.5,74.5H37.3V74.9L40.6,75.3L48.8,76.2L56.6,77.4L60.7,77.4L68.8,77.8H73.1V78.2H78.0V78.9H81.3V78.9L86.2,79.4H89.8V79.6H95.5V80.4H101.6V81.3L105.7,81.9L110.7,82.9H113.3V83.3H116.8V84.7H125.1V86.9L128.3,87.9L135.2,90.5H143.1V93.9H147.4V95.6L155.8,103.3L158.6,104.2H161.3V108.3H164.9V114.9L169.9,119.7H173.7V128.8L177.3,134.2L183.3,137.9H186.1V142.9H192.1V150.5L200.3,162.0H202.1V189.4H207.7V201.6H271.8"/>
<path d="M34.5,74.5H39.7V74.6H44.3V74.6L48.0,74.8L50.9,74.8H55.6V75.0L58.9,75.0H67.0V75.1H74.0V76.0H80.0V76.3L85.7,76.3L92.9,77.1H99.0V77.5L104.2,77.7L107.5,77.9L115.0,79.2L120.1,79.3H126.1V80.8L133.1,80.8H138.7V83.1L142.1,83.2H147.5V86.8H150.6V86.8L158.1,88.2H160.8V90.3L163.4,93.8H171.7V104.3L176.9,111.2H183.1V114.1L190.9,123.2L193.4,125.6L201.6,136.9L209.4,145.4H215.9V224.8H220.7V270.4"/>
<path d="M34.5,74.5H38.3V74.7H44.9V75.0H48.9V75.0L51.4,75.1H56.9V75.5H60.7V75.9L68.1,75.9H72.9V76.4L80.8,77.0H88.6V77.3L91.1,77.7H96.0V77.8L98.9,78.1L104.9,79.0H110.5V79.7H118.1V80.5H123.4V81.1L130.9,83.5L137.8,84.6H141.3V85.1L145.8,87.1H150.6V89.0L156.4,92.5L160.2,94.5L165.3,97.2H168.5V104.9L172.2,110.5L178.8,115.6H185.1V270.4"/>
<path d="M34.5,74.5H40.8V74.8L44.3,74.9L48.0,75.2L56.5,75.4H64.0V75.5L71.6,76.5L80.1,76.8L85.8,77.2L93.1,77.7H99.0V78.3H103.7V78.4L108.2,78.7H115.7V80.3H118.9V80.4H122.4V81.1L129.0,82.9L134.4,84.4L142.5,86.2L150.4,89.9H155.9V89.9H159.8V93.4L165.2,102.1H168.0V103.6H176.1V114.6H180.6V117.9L184.7,123.9L189.9,129.6L196.5,138.4H204.8V145.9H207.6V151.5H212.9V152.1H214.8V220.2H271.8"/>
<path d="M34.5,74.5H42.4V75.5H47.6V76.0L54.1,76.5H57.6V77.1H63.3V77.2L71.0,78.2L78.0,78.7H81.8V79.0L90.1,79.7H93.1V79.8H101.0V81.5H105.1V82.2L108.8,82.7L116.5,84.4H121.9V85.2L129.2,87.8L137.3,90.4L141.9,93.3L144.4,94.4L149.4,95.9L154.3,100.4L162.6,109.1H167.3V120.2H173.2V126.2H177.7V130.4H186.0V145.3L192.6,149.7H196.3V154.8H199.3V182.4H201.6V201.1H208.2V220.3H218.0V270.4"/>
<path d="M34.5,74.5H39.2V75.1L41.9,75.4H47.9V76.0L51.7,76.4L56.5,76.9H64.7V77.3L71.4,78.1L77.5,78.4L83.5,78.6H88.7V79.4H93.8V79.8L97.2,80.0L101.1,81.0L104.6,81.0H109.9V82.2L113.8,83.2L119.5,85.2H126.4V86.0L131.8,88.6L140.0,91.5L143.6,92.1H151.6V97.8L155.9,100.2H159.7V105.3H165.5V112.9L173.6,125.5L180.6,134.6H186.9V143.4H190.5V149.8L196.2,154.7L202.3,159.7H207.2V167.2L211.8,168.5L216.3,174.1H221.3V177.8L224.8,180.8H225.8V270.4"/>
<path d="M34.5,74.5H42.7V74.8H45.7V74.9L53.4,75.4L59.3,75.4H63.6V75.8H70.9V76.1L75.2,76.4L79.4,76.7L84.3,76.8L90.8,77.6L96.5,77.7L99.9,78.1H108.2V78.6L115.5,79.7L121.7,80.1H125.3V81.5L129.1,82.1H134.5V83.2L137.5,84.6L145.9,87.1L149.0,87.1L153.0,89.9H159.3V91.6L167.5,101.8H174.3V108.9L179.6,116.6L182.4,118.9H189.5V123.1L196.8,137.3H200.1V139.9H206.4V270.4"/>
<path d="M34.5,74.5L39.7,74.6L47.1,75.0L49.7,75.2H56.4V75.4L59.6,75.6L65.9,75.7L69.6,76.1H75.6V76.6L79.4,76.7H84.0V76.8H91.7V77.1H98.8V78.0L106.0,78.7L108.9,78.7L112.2,79.1L116.6,79.8H119.7V81.1L126.3,81.2L130.2,81.8H133.3V83.7L141.0,84.0H143.6V86.3H149.5V87.8H153.8V90.9H160.9V92.5H167.2V101.3H170.6V105.2L176.4,112.4H181.7V117.0L188.4,124.2L191.7,128.0H195.9V135.7L202.8,143.3H211.1V152.8H217.2V155.5H219.8V204.5H221.2V240.5H232.5V270.4"/>
<path d="M34.5,74.5H40.0V74.7H46.2V74.8L52.4,74.8H60.9V75.5H69.2V75.5L75.3,76.1L82.8,77.1H87.1V77.1L89.8,77.1L94.5,77.5L97.4,77.5H102.1V77.7H106.8V78.5H112.9V78.9H115.4V79.0H123.4V80.9L126.1,81.0L132.8,83.4L138.1,83.4H142.6V84.7L148.0,85.6L151.0,86.7L154.1,89.2H160.8V91.5H165.5V97.7L172.3,106.3H175.0V107.9H181.5V116.1L186.5,121.3L189.1,123.7L194.3,127.3L199.5,135.0L206.8,146.6H209.3V147.6L213.9,151.3H216.6V207.7H220.8V245.6H225.7V270.4"/>
<path d="M34.5,74.5H38.8V74.9L42.2,75.1H47.5V75.6H53.1V76.0L55.7,76.3L59.4,76.3L64.4,76.4L68.1,77.0H71.0V77.3L76.0,77.5L83.4,77.8L87.3,78.4H93.5V79.1H98.4V79.4H105.4V80.0L110.3,80.6L117.2,82.3L120.0,82.3L123.6,83.7L131.1,85.7H133.9V87.1H142.2V89.8H148.7V92.4H156.8V97.1L162.0,103.6L169.6,111.3L172.7,114.9L177.9,124.6H183.6V128.8L189.3,137.4L195.0,141.4L197.6,142.3H202.0V154.0L209.4,157.2H215.3V166.9H218.5V166.9H218.9V209.0H224.7V270.4"/>
<path d="M34.5,74.5H42.7V75.4H50.3V75.9L57.2,76.4L64.7,76.9H67.3V76.9L73.2,77.5H78.8V77.9L86.0,78.9L89.7,79.0L94.0,79.0H99.1V79.6H103.0V80.8L110.6,82.0L119.0,83.7L122.4,84.9L126.7,86.1L131.8,87.8H137.6V89.2H143.6V91.3H148.3V93.7H152.0V95.2L155.1,98.6H160.1V102.4H163.7V107.2L166.7,112.0H171.9V117.8L179.8,129.4L185.9,136.8H189.4V138.2L195.5,145.4L198.3,154.3L206.7,159.0H213.8V168.2H216.6V224.9H271.8"/>
</g>
<use href="#sl" transform="translate(34.5 74.4) scale(0.99 1.015) translate(-34.5 -74.4)"/>
<use href="#sl" transform="translate(34.5 74.4) scale(0.982 1.028) translate(-34.5 -74.4)"/>
<path d="M184.5,138.4V270.4M179.8,133.0V270.4M192.0,148.7V270.4M184.0,146.6V270.4M187.3,155.4V270.4M186.3,144.7V270.4M188.9,144.4V270.4M194.9,154.2V270.4M184.2,146.7V270.4M179.2,139.5V270.4M193.8,152.3V270.4M195.9,158.0V270.4M192.3,152.9V270.4M184.5,139.6V270.4M176.2,125.9V270.4M196.8,159.1V270.4M185.7,152.6V270.4M188.7,157.9V270.4M183.5,137.4V270.4M195.3,150.8V270.4M242.8,173.0V270.4M246.7,179.8V270.4M240.2,164.6V270.4M227.5,161.3V270.4M243.4,167.2V270.4M235.5,162.0V270.4M233.2,159.5V270.4M233.6,166.0V270.4M231.0,167.5V270.4M228.1,158.6V270.4M232.2,163.6V270.4M242.3,169.8V270.4M240.9,175.7V270.4M229.6,167.4V270.4" fill="none" stroke="#7b96c7" stroke-width="0.7" stroke-opacity="0.33"/>
<path d="M34.5,74.4 L50.0,74.8 L66.0,75.3 L78.7,76.1 L95.0,77.2 L110.0,78.8 L126.2,81.6 L142.5,84.5 L155.5,87.7 L160.3,90.2 L166.8,97.5 L175.0,107.2 L183.0,116.1 L189.5,120.2 L193.6,125.0 L198.2,132.2 L202.5,140.0 L206.3,143.5 L209.0,147.5 L211.5,152.0 L214.0,160.0 L217.5,164.5 L220.5,172.5 L224.0,188.0 L226.0,209.0 L226.8,234.0 L228.4,262.0 L228.4,270.5 L194.4,270.5 L194.8,250.0 L196.0,233.7 L194.4,209.4 L193.0,188.0 L189.5,172.0 L185.0,156.0 L180.0,140.0 L172.5,128.0 L170.0,121.8 L165.2,113.7 L160.3,107.2 L157.1,102.4 L150.6,98.3 L142.5,93.4 L134.4,89.4 L126.2,86.1 L110.0,82.0 L95.0,80.2 L70.0,78.3 L50.0,76.5 L34.5,74.6 Z" fill="#7b96c7" fill-opacity="1" filter="url(#bl1)"/>
</g>
<line x1="34.45" y1="74.30" x2="271.80" y2="74.30" stroke="#444" stroke-width="0.7" />
<polyline points="34.5,75.1 48.8,75.1 51.5,75.9 53.8,76.8 64.7,77.1 67.3,78.1 85.3,78.4 87.4,79.2 96.6,79.7 107.0,80.1 111.5,80.7 113.8,81.7 116.9,82.3 120.1,84.0 127.4,84.6 130.0,84.9 141.4,85.4 146.2,87.9 155.2,89.8 158.4,95.2 162.5,99.2 164.9,100.8 166.5,104.9 170.6,111.4 174.6,113.0 177.1,117.1 182.0,118.7 188.4,120.6 192.5,126.2 194.1,134.4 199.8,140.0 202.2,148.1 204.8,152.9 209.2,154.9 210.8,160.5 213.7,163.0 217.8,163.8 218.2,166.0 218.2,270.4" fill="none" stroke="#141b2d" stroke-width="2.25" stroke-linejoin="round"/>
<line x1="271.80" y1="74.30" x2="271.80" y2="270.45" stroke="#999" stroke-width="0.9" />
<line x1="34.45" y1="74.30" x2="34.45" y2="270.85" stroke="#3a3a3a" stroke-width="0.85" />
<line x1="34.45" y1="270.45" x2="271.80" y2="270.45" stroke="#3a3a3a" stroke-width="0.9" />
<line x1="31.85" y1="270.20" x2="34.45" y2="270.20" stroke="#333" stroke-width="0.7" />
<text x="29.45" y="272.33" font-size="8.5" text-anchor="end" fill="#000" >0</text>
<line x1="31.85" y1="230.22" x2="34.45" y2="230.22" stroke="#333" stroke-width="0.7" />
<text x="29.45" y="233.50" font-size="8.5" text-anchor="end" fill="#000"  textLength="9.45" lengthAdjust="spacingAndGlyphs">20</text>
<line x1="31.85" y1="191.24" x2="34.45" y2="191.24" stroke="#333" stroke-width="0.7" />
<text x="29.45" y="194.67" font-size="8.5" text-anchor="end" fill="#000"  textLength="9.45" lengthAdjust="spacingAndGlyphs">40</text>
<line x1="31.85" y1="152.26" x2="34.45" y2="152.26" stroke="#333" stroke-width="0.7" />
<text x="29.45" y="155.84" font-size="8.5" text-anchor="end" fill="#000"  textLength="9.45" lengthAdjust="spacingAndGlyphs">60</text>
<line x1="31.85" y1="113.28" x2="34.45" y2="113.28" stroke="#333" stroke-width="0.7" />
<text x="29.45" y="117.01" font-size="8.5" text-anchor="end" fill="#000"  textLength="9.45" lengthAdjust="spacingAndGlyphs">80</text>
<line x1="31.85" y1="74.30" x2="34.45" y2="74.30" stroke="#333" stroke-width="0.7" />
<text x="29.45" y="78.18" font-size="8.5" text-anchor="end" fill="#000"  textLength="14.18" lengthAdjust="spacingAndGlyphs">100</text>
<line x1="34.35" y1="270.45" x2="34.35" y2="273.05" stroke="#333" stroke-width="0.7" />
<text x="40.95" y="279.40" font-size="8.3" text-anchor="end" transform="rotate(-45 40.95 279.40)" fill="#000" textLength="16.15" lengthAdjust="spacingAndGlyphs">0:00</text>
<line x1="44.52" y1="270.45" x2="44.52" y2="273.05" stroke="#333" stroke-width="0.7" />
<text x="51.12" y="279.40" font-size="8.3" text-anchor="end" transform="rotate(-45 51.12 279.40)" fill="#000" textLength="16.15" lengthAdjust="spacingAndGlyphs">1:00</text>
<line x1="54.69" y1="270.45" x2="54.69" y2="273.05" stroke="#333" stroke-width="0.7" />
<text x="61.29" y="279.40" font-size="8.3" text-anchor="end" transform="rotate(-45 61.29 279.40)" fill="#000" textLength="16.15" lengthAdjust="spacingAndGlyphs">2:00</text>
<line x1="64.87" y1="270.45" x2="64.87" y2="273.05" stroke="#333" stroke-width="0.7" />
<text x="71.47" y="279.40" font-size="8.3" text-anchor="end" transform="rotate(-45 71.47 279.40)" fill="#000" textLength="16.15" lengthAdjust="spacingAndGlyphs">3:00</text>
<line x1="75.04" y1="270.45" x2="75.04" y2="273.05" stroke="#333" stroke-width="0.7" />
<text x="81.64" y="279.40" font-size="8.3" text-anchor="end" transform="rotate(-45 81.64 279.40)" fill="#000" textLength="16.15" lengthAdjust="spacingAndGlyphs">4:00</text>
<line x1="85.21" y1="270.45" x2="85.21" y2="273.05" stroke="#333" stroke-width="0.7" />
<text x="91.81" y="279.40" font-size="8.3" text-anchor="end" transform="rotate(-45 91.81 279.40)" fill="#000" textLength="16.15" lengthAdjust="spacingAndGlyphs">5:00</text>
<line x1="95.38" y1="270.45" x2="95.38" y2="273.05" stroke="#333" stroke-width="0.7" />
<text x="101.98" y="279.40" font-size="8.3" text-anchor="end" transform="rotate(-45 101.98 279.40)" fill="#000" textLength="16.15" lengthAdjust="spacingAndGlyphs">6:00</text>
<line x1="105.55" y1="270.45" x2="105.55" y2="273.05" stroke="#333" stroke-width="0.7" />
<text x="112.15" y="279.40" font-size="8.3" text-anchor="end" transform="rotate(-45 112.15 279.40)" fill="#000" textLength="16.15" lengthAdjust="spacingAndGlyphs">7:00</text>
<line x1="115.73" y1="270.45" x2="115.73" y2="273.05" stroke="#333" stroke-width="0.7" />
<text x="122.33" y="279.40" font-size="8.3" text-anchor="end" transform="rotate(-45 122.33 279.40)" fill="#000" textLength="16.15" lengthAdjust="spacingAndGlyphs">8:00</text>
<line x1="125.90" y1="270.45" x2="125.90" y2="273.05" stroke="#333" stroke-width="0.7" />
<text x="132.50" y="279.40" font-size="8.3" text-anchor="end" transform="rotate(-45 132.50 279.40)" fill="#000" textLength="16.15" lengthAdjust="spacingAndGlyphs">9:00</text>
<line x1="136.07" y1="270.45" x2="136.07" y2="273.05" stroke="#333" stroke-width="0.7" />
<text x="142.67" y="279.40" font-size="8.3" text-anchor="end" transform="rotate(-45 142.67 279.40)" fill="#000" textLength="20.77" lengthAdjust="spacingAndGlyphs">10:00</text>
<line x1="146.24" y1="270.45" x2="146.24" y2="273.05" stroke="#333" stroke-width="0.7" />
<text x="152.84" y="279.40" font-size="8.3" text-anchor="end" transform="rotate(-45 152.84 279.40)" fill="#000" textLength="20.15" lengthAdjust="spacingAndGlyphs">11:00</text>
<line x1="156.41" y1="270.45" x2="156.41" y2="273.05" stroke="#333" stroke-width="0.7" />
<text x="163.01" y="279.40" font-size="8.3" text-anchor="end" transform="rotate(-45 163.01 279.40)" fill="#000" textLength="20.77" lengthAdjust="spacingAndGlyphs">12:00</text>
<line x1="166.59" y1="270.45" x2="166.59" y2="273.05" stroke="#333" stroke-width="0.7" />
<text x="173.19" y="279.40" font-size="8.3" text-anchor="end" transform="rotate(-45 173.19 279.40)" fill="#000" textLength="20.77" lengthAdjust="spacingAndGlyphs">13:00</text>
<line x1="176.76" y1="270.45" x2="176.76" y2="273.05" stroke="#333" stroke-width="0.7" />
<text x="183.36" y="279.40" font-size="8.3" text-anchor="end" transform="rotate(-45 183.36 279.40)" fill="#000" textLength="20.77" lengthAdjust="spacingAndGlyphs">14:00</text>
<line x1="186.93" y1="270.45" x2="186.93" y2="273.05" stroke="#333" stroke-width="0.7" />
<text x="193.53" y="279.40" font-size="8.3" text-anchor="end" transform="rotate(-45 193.53 279.40)" fill="#000" textLength="20.77" lengthAdjust="spacingAndGlyphs">15:00</text>
<line x1="197.10" y1="270.45" x2="197.10" y2="273.05" stroke="#333" stroke-width="0.7" />
<text x="203.70" y="279.40" font-size="8.3" text-anchor="end" transform="rotate(-45 203.70 279.40)" fill="#000" textLength="20.77" lengthAdjust="spacingAndGlyphs">16:00</text>
<line x1="207.27" y1="270.45" x2="207.27" y2="273.05" stroke="#333" stroke-width="0.7" />
<text x="213.87" y="279.40" font-size="8.3" text-anchor="end" transform="rotate(-45 213.87 279.40)" fill="#000" textLength="20.77" lengthAdjust="spacingAndGlyphs">17:00</text>
<line x1="217.45" y1="270.45" x2="217.45" y2="273.05" stroke="#333" stroke-width="0.7" />
<text x="224.05" y="279.40" font-size="8.3" text-anchor="end" transform="rotate(-45 224.05 279.40)" fill="#000" textLength="20.77" lengthAdjust="spacingAndGlyphs">18:00</text>
<line x1="227.62" y1="270.45" x2="227.62" y2="273.05" stroke="#333" stroke-width="0.7" />
<text x="234.22" y="279.40" font-size="8.3" text-anchor="end" transform="rotate(-45 234.22 279.40)" fill="#000" textLength="20.77" lengthAdjust="spacingAndGlyphs">19:00</text>
<line x1="237.79" y1="270.45" x2="237.79" y2="273.05" stroke="#333" stroke-width="0.7" />
<text x="244.39" y="279.40" font-size="8.3" text-anchor="end" transform="rotate(-45 244.39 279.40)" fill="#000" textLength="20.77" lengthAdjust="spacingAndGlyphs">20:00</text>
<line x1="247.96" y1="270.45" x2="247.96" y2="273.05" stroke="#333" stroke-width="0.7" />
<text x="254.56" y="279.40" font-size="8.3" text-anchor="end" transform="rotate(-45 254.56 279.40)" fill="#000" textLength="20.77" lengthAdjust="spacingAndGlyphs">21:00</text>
<line x1="258.13" y1="270.45" x2="258.13" y2="273.05" stroke="#333" stroke-width="0.7" />
<text x="264.73" y="279.40" font-size="8.3" text-anchor="end" transform="rotate(-45 264.73 279.40)" fill="#000" textLength="20.77" lengthAdjust="spacingAndGlyphs">22:00</text>
<text x="146.70" y="306.10" font-size="8.45" text-anchor="middle" fill="#000"  textLength="43.81" lengthAdjust="spacingAndGlyphs">Time (UTC)</text>
<text x="6.90" y="174.80" font-size="9.46" text-anchor="middle" transform="rotate(-90 6.90 174.80)" fill="#000"  textLength="184.01" lengthAdjust="spacingAndGlyphs">Percentage of customers with electricity (%)</text>
<rect x="210.6" y="77.3" width="58" height="21.2" rx="1.2" fill="#fff" fill-opacity="0.85" stroke="#d4d4d4" stroke-width="0.6"/>
<rect x="213.1" y="80.1" width="14" height="5" fill="#7b96c7"/>
<rect x="213.1" y="89.5" width="14" height="5" fill="#141b2d"/>
<text x="232.00" y="85.00" font-size="6.6" text-anchor="start" fill="#000"  textLength="34.12" lengthAdjust="spacingAndGlyphs">Simluations</text>
<text x="232.00" y="94.40" font-size="6.6" text-anchor="start" fill="#000"  textLength="28.61" lengthAdjust="spacingAndGlyphs">Observed</text>
<polygon points="217.90,55.45 219.55,60.53 224.89,60.53 220.57,63.67 222.22,68.75 217.90,65.61 213.58,68.75 215.23,63.67 210.91,60.53 216.25,60.53" fill="#141b2d" />
<path d="M284.10,146.50 L284.60,147.00 L284.80,160.00 L285.20,170.00 L285.80,178.00 L286.80,185.00 L288.00,190.00 L289.50,195.00 L291.25,200.00 L293.30,205.00 L295.50,210.00 L297.60,214.00 L299.30,218.00 L300.50,222.00 L300.90,226.00 L300.80,230.00 L299.90,233.50 L298.40,236.50 L296.40,239.50 L294.40,242.20 L292.40,244.80 L290.80,247.00 L289.90,249.00 L289.80,251.10 L290.20,252.90 L291.10,254.40 L293.00,256.00 L296.00,257.30 L300.00,258.60 L305.70,260.00 L312.00,261.30 L318.70,262.50 L325.00,263.70 L331.70,264.90 L337.00,266.00 L341.40,267.00 L345.00,268.00 L347.50,268.90 L349.80,270.10 L284.10,270.10 Z" fill="#7b96c7"/>
<line x1="284.10" y1="270.20" x2="353.10" y2="270.20" stroke="#333" stroke-width="0.7" />
<line x1="328.80" y1="270.20" x2="328.80" y2="272.70" stroke="#333" stroke-width="0.7" />
<polygon points="285.40,262.50 287.05,267.58 292.39,267.58 288.07,270.72 289.72,275.80 285.40,272.66 281.08,275.80 282.73,270.72 278.41,267.58 283.75,267.58" fill="#141b2d" />
<text x="284.50" y="291.20" font-size="9.25" text-anchor="start" fill="#000"  textLength="43.70" lengthAdjust="spacingAndGlyphs">Frequency</text>
<text x="375.90" y="9.10" font-size="11.4" text-anchor="start" font-weight="bold" fill="#000" style="stroke-width:0.3px">b</text>
<g shape-rendering="geometricPrecision">
<polygon points="413.50,73.63 417.81,76.17 417.81,81.23 413.50,83.77 409.19,81.23 409.19,76.17" fill="#e1e8f2" stroke="#e1e8f2" stroke-width="0.25"/>
<polygon points="443.70,81.23 448.02,83.77 448.02,88.83 443.70,91.37 439.39,88.83 439.39,83.77" fill="#f0f3f8" stroke="#f0f3f8" stroke-width="0.25"/>
<polygon points="456.65,88.83 460.96,91.37 460.96,96.43 456.65,98.97 452.33,96.43 452.33,91.37" fill="#e1e8f2" stroke="#e1e8f2" stroke-width="0.25"/>
<polygon points="465.28,88.83 469.59,91.37 469.59,96.43 465.28,98.97 460.96,96.43 460.96,91.37" fill="#e1e8f2" stroke="#e1e8f2" stroke-width="0.25"/>
<polygon points="460.97,96.43 465.28,98.97 465.28,104.03 460.97,106.57 456.65,104.03 456.65,98.97" fill="#e1e8f2" stroke="#e1e8f2" stroke-width="0.25"/>
<polygon points="430.76,104.03 435.07,106.57 435.07,111.63 430.76,114.17 426.44,111.63 426.44,106.57" fill="#f0f3f8" stroke="#f0f3f8" stroke-width="0.25"/>
<polygon points="473.91,104.03 478.23,106.57 478.23,111.63 473.91,114.17 469.60,111.63 469.60,106.57" fill="#f0f3f8" stroke="#f0f3f8" stroke-width="0.25"/>
<polygon points="482.54,104.03 486.86,106.57 486.86,111.63 482.54,114.17 478.23,111.63 478.23,106.57" fill="#e1e8f2" stroke="#e1e8f2" stroke-width="0.25"/>
<polygon points="443.70,111.63 448.02,114.17 448.02,119.23 443.70,121.77 439.39,119.23 439.39,114.17" fill="#f0f3f8" stroke="#f0f3f8" stroke-width="0.25"/>
<polygon points="486.86,111.63 491.17,114.17 491.17,119.23 486.86,121.77 482.54,119.23 482.54,114.17" fill="#b4c4de" stroke="#b4c4de" stroke-width="0.25"/>
<polygon points="495.49,111.63 499.80,114.17 499.80,119.23 495.49,121.77 491.17,119.23 491.17,114.17" fill="#c3d0e5" stroke="#c3d0e5" stroke-width="0.25"/>
<polygon points="482.54,119.23 486.86,121.77 486.86,126.83 482.54,129.37 478.23,126.83 478.23,121.77" fill="#d2dceb" stroke="#d2dceb" stroke-width="0.25"/>
<polygon points="491.17,119.23 495.49,121.77 495.49,126.83 491.17,129.37 486.86,126.83 486.86,121.77" fill="#88a1ca" stroke="#88a1ca" stroke-width="0.25"/>
<polygon points="499.80,119.23 504.12,121.77 504.12,126.83 499.80,129.37 495.49,126.83 495.49,121.77" fill="#5b7eb7" stroke="#5b7eb7" stroke-width="0.25"/>
<polygon points="495.49,126.83 499.80,129.37 499.80,134.43 495.49,136.97 491.17,134.43 491.17,129.37" fill="#a6b8d8" stroke="#a6b8d8" stroke-width="0.25"/>
<polygon points="504.12,126.83 508.43,129.37 508.43,134.43 504.12,136.97 499.80,134.43 499.80,129.37" fill="#1d2c45" stroke="#1d2c45" stroke-width="0.25"/>
<polygon points="512.75,126.83 517.06,129.37 517.06,134.43 512.75,136.97 508.43,134.43 508.43,129.37" fill="#718fc0" stroke="#718fc0" stroke-width="0.25"/>
<polygon points="482.54,134.43 486.86,136.97 486.86,142.03 482.54,144.57 478.23,142.03 478.23,136.97" fill="#f0f3f8" stroke="#f0f3f8" stroke-width="0.25"/>
<polygon points="491.17,134.43 495.49,136.97 495.49,142.03 491.17,144.57 486.86,142.03 486.86,136.97" fill="#e1e8f2" stroke="#e1e8f2" stroke-width="0.25"/>
<polygon points="499.80,134.43 504.12,136.97 504.12,142.03 499.80,144.57 495.49,142.03 495.49,136.97" fill="#a6b8d8" stroke="#a6b8d8" stroke-width="0.25"/>
<polygon points="508.43,134.43 512.75,136.97 512.75,142.03 508.43,144.57 504.12,142.03 504.12,136.97" fill="#1d2c45" stroke="#1d2c45" stroke-width="0.25"/>
<polygon points="517.06,134.43 521.38,136.97 521.38,142.03 517.06,144.57 512.74,142.03 512.74,136.97" fill="#121a2b" stroke="#121a2b" stroke-width="0.25"/>
<polygon points="525.69,134.43 530.01,136.97 530.01,142.03 525.69,144.57 521.38,142.03 521.38,136.97" fill="#e1e8f2" stroke="#e1e8f2" stroke-width="0.25"/>
<polygon points="504.12,142.03 508.43,144.57 508.43,149.63 504.12,152.17 499.80,149.63 499.80,144.57" fill="#b4c4de" stroke="#b4c4de" stroke-width="0.25"/>
<polygon points="512.75,142.03 517.06,144.57 517.06,149.63 512.75,152.17 508.43,149.63 508.43,144.57" fill="#010206" stroke="#010206" stroke-width="0.25"/>
<polygon points="521.38,142.03 525.69,144.57 525.69,149.63 521.38,152.17 517.06,149.63 517.06,144.57" fill="#2f466d" stroke="#2f466d" stroke-width="0.25"/>
<polygon points="530.00,142.03 534.32,144.57 534.32,149.63 530.00,152.17 525.69,149.63 525.69,144.57" fill="#e1e8f2" stroke="#e1e8f2" stroke-width="0.25"/>
<polygon points="555.89,142.03 560.21,144.57 560.21,149.63 555.89,152.17 551.58,149.63 551.58,144.57" fill="#e1e8f2" stroke="#e1e8f2" stroke-width="0.25"/>
<polygon points="499.80,149.63 504.12,152.17 504.12,157.23 499.80,159.77 495.49,157.23 495.49,152.17" fill="#e1e8f2" stroke="#e1e8f2" stroke-width="0.25"/>
<polygon points="508.43,149.63 512.75,152.17 512.75,157.23 508.43,159.77 504.12,157.23 504.12,152.17" fill="#a6b8d8" stroke="#a6b8d8" stroke-width="0.25"/>
<polygon points="517.06,149.63 521.38,152.17 521.38,157.23 517.06,159.77 512.74,157.23 512.74,152.17" fill="#121a2b" stroke="#121a2b" stroke-width="0.25"/>
<polygon points="525.69,149.63 530.01,152.17 530.01,157.23 525.69,159.77 521.38,157.23 521.38,152.17" fill="#88a1ca" stroke="#88a1ca" stroke-width="0.25"/>
<polygon points="534.32,149.63 538.64,152.17 538.64,157.23 534.32,159.77 530.00,157.23 530.00,152.17" fill="#88a1ca" stroke="#88a1ca" stroke-width="0.25"/>
<polygon points="542.95,149.63 547.27,152.17 547.27,157.23 542.95,159.77 538.63,157.23 538.63,152.17" fill="#97add1" stroke="#97add1" stroke-width="0.25"/>
<polygon points="551.58,149.63 555.90,152.17 555.90,157.23 551.58,159.77 547.26,157.23 547.26,152.17" fill="#e9edf5" stroke="#e9edf5" stroke-width="0.25"/>
<polygon points="568.84,149.63 573.16,152.17 573.16,157.23 568.84,159.77 564.52,157.23 564.52,152.17" fill="#f0f3f8" stroke="#f0f3f8" stroke-width="0.25"/>
<polygon points="586.10,149.63 590.42,152.17 590.42,157.23 586.10,159.77 581.78,157.23 581.78,152.17" fill="#f0f3f8" stroke="#f0f3f8" stroke-width="0.25"/>
<polygon points="486.86,157.23 491.17,159.77 491.17,164.83 486.86,167.37 482.54,164.83 482.54,159.77" fill="#f0f3f8" stroke="#f0f3f8" stroke-width="0.25"/>
<polygon points="504.12,157.23 508.43,159.77 508.43,164.83 504.12,167.37 499.80,164.83 499.80,159.77" fill="#b4c4de" stroke="#b4c4de" stroke-width="0.25"/>
<polygon points="512.75,157.23 517.06,159.77 517.06,164.83 512.75,167.37 508.43,164.83 508.43,159.77" fill="#88a1ca" stroke="#88a1ca" stroke-width="0.25"/>
<polygon points="521.38,157.23 525.69,159.77 525.69,164.83 521.38,167.37 517.06,164.83 517.06,159.77" fill="#6a8abd" stroke="#6a8abd" stroke-width="0.25"/>
<polygon points="530.00,157.23 534.32,159.77 534.32,164.83 530.00,167.37 525.69,164.83 525.69,159.77" fill="#b4c4de" stroke="#b4c4de" stroke-width="0.25"/>
<polygon points="538.63,157.23 542.95,159.77 542.95,164.83 538.63,167.37 534.32,164.83 534.32,159.77" fill="#5b7eb7" stroke="#5b7eb7" stroke-width="0.25"/>
<polygon points="547.26,157.23 551.58,159.77 551.58,164.83 547.26,167.37 542.95,164.83 542.95,159.77" fill="#7995c4" stroke="#7995c4" stroke-width="0.25"/>
<polygon points="555.89,157.23 560.21,159.77 560.21,164.83 555.89,167.37 551.58,164.83 551.58,159.77" fill="#a6b8d8" stroke="#a6b8d8" stroke-width="0.25"/>
<polygon points="564.52,157.23 568.84,159.77 568.84,164.83 564.52,167.37 560.21,164.83 560.21,159.77" fill="#b4c4de" stroke="#b4c4de" stroke-width="0.25"/>
<polygon points="581.79,157.23 586.10,159.77 586.10,164.83 581.79,167.37 577.47,164.83 577.47,159.77" fill="#f0f3f8" stroke="#f0f3f8" stroke-width="0.25"/>
<polygon points="499.80,164.83 504.12,167.37 504.12,172.43 499.80,174.97 495.49,172.43 495.49,167.37" fill="#f0f3f8" stroke="#f0f3f8" stroke-width="0.25"/>
<polygon points="508.43,164.83 512.75,167.37 512.75,172.43 508.43,174.97 504.12,172.43 504.12,167.37" fill="#a6b8d8" stroke="#a6b8d8" stroke-width="0.25"/>
<polygon points="517.06,164.83 521.38,167.37 521.38,172.43 517.06,174.97 512.74,172.43 512.74,167.37" fill="#233553" stroke="#233553" stroke-width="0.25"/>
<polygon points="525.69,164.83 530.01,167.37 530.01,172.43 525.69,174.97 521.38,172.43 521.38,167.37" fill="#a6b8d8" stroke="#a6b8d8" stroke-width="0.25"/>
<polygon points="534.32,164.83 538.64,167.37 538.64,172.43 534.32,174.97 530.00,172.43 530.00,167.37" fill="#a6b8d8" stroke="#a6b8d8" stroke-width="0.25"/>
<polygon points="542.95,164.83 547.27,167.37 547.27,172.43 542.95,174.97 538.63,172.43 538.63,167.37" fill="#97add1" stroke="#97add1" stroke-width="0.25"/>
<polygon points="551.58,164.83 555.90,167.37 555.90,172.43 551.58,174.97 547.26,172.43 547.26,167.37" fill="#88a1ca" stroke="#88a1ca" stroke-width="0.25"/>
<polygon points="560.21,164.83 564.53,167.37 564.53,172.43 560.21,174.97 555.89,172.43 555.89,167.37" fill="#4669a3" stroke="#4669a3" stroke-width="0.25"/>
<polygon points="568.84,164.83 573.16,167.37 573.16,172.43 568.84,174.97 564.52,172.43 564.52,167.37" fill="#adbedb" stroke="#adbedb" stroke-width="0.25"/>
<polygon points="594.73,164.83 599.05,167.37 599.05,172.43 594.73,174.97 590.41,172.43 590.41,167.37" fill="#f0f3f8" stroke="#f0f3f8" stroke-width="0.25"/>
<polygon points="512.75,172.43 517.06,174.97 517.06,180.03 512.75,182.57 508.43,180.03 508.43,174.97" fill="#c3d0e5" stroke="#c3d0e5" stroke-width="0.25"/>
<polygon points="521.38,172.43 525.69,174.97 525.69,180.03 521.38,182.57 517.06,180.03 517.06,174.97" fill="#c3d0e5" stroke="#c3d0e5" stroke-width="0.25"/>
<polygon points="530.00,172.43 534.32,174.97 534.32,180.03 530.00,182.57 525.69,180.03 525.69,174.97" fill="#b4c4de" stroke="#b4c4de" stroke-width="0.25"/>
<polygon points="538.63,172.43 542.95,174.97 542.95,180.03 538.63,182.57 534.32,180.03 534.32,174.97" fill="#88a1ca" stroke="#88a1ca" stroke-width="0.25"/>
<polygon points="547.26,172.43 551.58,174.97 551.58,180.03 547.26,182.57 542.95,180.03 542.95,174.97" fill="#233553" stroke="#233553" stroke-width="0.25"/>
<polygon points="555.89,172.43 560.21,174.97 560.21,180.03 555.89,182.57 551.58,180.03 551.58,174.97" fill="#3a5888" stroke="#3a5888" stroke-width="0.25"/>
<polygon points="564.52,172.43 568.84,174.97 568.84,180.03 564.52,182.57 560.21,180.03 560.21,174.97" fill="#263959" stroke="#263959" stroke-width="0.25"/>
<polygon points="573.15,172.43 577.47,174.97 577.47,180.03 573.15,182.57 568.84,180.03 568.84,174.97" fill="#e1e8f2" stroke="#e1e8f2" stroke-width="0.25"/>
<polygon points="581.79,172.43 586.10,174.97 586.10,180.03 581.79,182.57 577.47,180.03 577.47,174.97" fill="#f0f3f8" stroke="#f0f3f8" stroke-width="0.25"/>
<polygon points="590.41,172.43 594.73,174.97 594.73,180.03 590.41,182.57 586.10,180.03 586.10,174.97" fill="#f0f3f8" stroke="#f0f3f8" stroke-width="0.25"/>
<polygon points="517.06,180.03 521.38,182.57 521.38,187.63 517.06,190.17 512.74,187.63 512.74,182.57" fill="#a6b8d8" stroke="#a6b8d8" stroke-width="0.25"/>
<polygon points="525.69,180.03 530.01,182.57 530.01,187.63 525.69,190.17 521.38,187.63 521.38,182.57" fill="#a6b8d8" stroke="#a6b8d8" stroke-width="0.25"/>
<polygon points="534.32,180.03 538.64,182.57 538.64,187.63 534.32,190.17 530.00,187.63 530.00,182.57" fill="#5b7eb7" stroke="#5b7eb7" stroke-width="0.25"/>
<polygon points="542.95,180.03 547.27,182.57 547.27,187.63 542.95,190.17 538.63,187.63 538.63,182.57" fill="#b4c4de" stroke="#b4c4de" stroke-width="0.25"/>
<polygon points="551.58,180.03 555.90,182.57 555.90,187.63 551.58,190.17 547.26,187.63 547.26,182.57" fill="#1d2c45" stroke="#1d2c45" stroke-width="0.25"/>
<polygon points="560.21,180.03 564.53,182.57 564.53,187.63 560.21,190.17 555.89,187.63 555.89,182.57" fill="#5b7eb7" stroke="#5b7eb7" stroke-width="0.25"/>
<polygon points="568.84,180.03 573.16,182.57 573.16,187.63 568.84,190.17 564.52,187.63 564.52,182.57" fill="#a6b8d8" stroke="#a6b8d8" stroke-width="0.25"/>
<polygon points="577.47,180.03 581.79,182.57 581.79,187.63 577.47,190.17 573.15,187.63 573.15,182.57" fill="#f0f3f8" stroke="#f0f3f8" stroke-width="0.25"/>
<polygon points="504.12,187.63 508.43,190.17 508.43,195.23 504.12,197.77 499.80,195.23 499.80,190.17" fill="#e1e8f2" stroke="#e1e8f2" stroke-width="0.25"/>
<polygon points="512.75,187.63 517.06,190.17 517.06,195.23 512.75,197.77 508.43,195.23 508.43,190.17" fill="#c3d0e5" stroke="#c3d0e5" stroke-width="0.25"/>
<polygon points="521.38,187.63 525.69,190.17 525.69,195.23 521.38,197.77 517.06,195.23 517.06,190.17" fill="#a6b8d8" stroke="#a6b8d8" stroke-width="0.25"/>
<polygon points="530.00,187.63 534.32,190.17 534.32,195.23 530.00,197.77 525.69,195.23 525.69,190.17" fill="#a6b8d8" stroke="#a6b8d8" stroke-width="0.25"/>
<polygon points="538.63,187.63 542.95,190.17 542.95,195.23 538.63,197.77 534.32,195.23 534.32,190.17" fill="#b4c4de" stroke="#b4c4de" stroke-width="0.25"/>
<polygon points="547.26,187.63 551.58,190.17 551.58,195.23 547.26,197.77 542.95,195.23 542.95,190.17" fill="#1d2c45" stroke="#1d2c45" stroke-width="0.25"/>
<polygon points="555.89,187.63 560.21,190.17 560.21,195.23 555.89,197.77 551.58,195.23 551.58,190.17" fill="#293e60" stroke="#293e60" stroke-width="0.25"/>
<polygon points="564.52,187.63 568.84,190.17 568.84,195.23 564.52,197.77 560.21,195.23 560.21,190.17" fill="#7995c4" stroke="#7995c4" stroke-width="0.25"/>
<polygon points="573.15,187.63 577.47,190.17 577.47,195.23 573.15,197.77 568.84,195.23 568.84,190.17" fill="#e1e8f2" stroke="#e1e8f2" stroke-width="0.25"/>
<polygon points="581.79,187.63 586.10,190.17 586.10,195.23 581.79,197.77 577.47,195.23 577.47,190.17" fill="#e1e8f2" stroke="#e1e8f2" stroke-width="0.25"/>
<polygon points="590.41,187.63 594.73,190.17 594.73,195.23 590.41,197.77 586.10,195.23 586.10,190.17" fill="#e1e8f2" stroke="#e1e8f2" stroke-width="0.25"/>
<polygon points="599.05,187.63 603.36,190.17 603.36,195.23 599.05,197.77 594.73,195.23 594.73,190.17" fill="#f0f3f8" stroke="#f0f3f8" stroke-width="0.25"/>
<polygon points="517.06,195.23 521.38,197.77 521.38,202.83 517.06,205.37 512.74,202.83 512.74,197.77" fill="#d2dceb" stroke="#d2dceb" stroke-width="0.25"/>
<polygon points="525.69,195.23 530.01,197.77 530.01,202.83 525.69,205.37 521.38,202.83 521.38,197.77" fill="#b4c4de" stroke="#b4c4de" stroke-width="0.25"/>
<polygon points="534.32,195.23 538.64,197.77 538.64,202.83 534.32,205.37 530.00,202.83 530.00,197.77" fill="#88a1ca" stroke="#88a1ca" stroke-width="0.25"/>
<polygon points="542.95,195.23 547.27,197.77 547.27,202.83 542.95,205.37 538.63,202.83 538.63,197.77" fill="#121a2b" stroke="#121a2b" stroke-width="0.25"/>
<polygon points="551.58,195.23 555.90,197.77 555.90,202.83 551.58,205.37 547.26,202.83 547.26,197.77" fill="#1d2c45" stroke="#1d2c45" stroke-width="0.25"/>
<polygon points="560.21,195.23 564.53,197.77 564.53,202.83 560.21,205.37 555.89,202.83 555.89,197.77" fill="#7995c4" stroke="#7995c4" stroke-width="0.25"/>
<polygon points="568.84,195.23 573.16,197.77 573.16,202.83 568.84,205.37 564.52,202.83 564.52,197.77" fill="#3a5888" stroke="#3a5888" stroke-width="0.25"/>
<polygon points="577.47,195.23 581.79,197.77 581.79,202.83 577.47,205.37 573.15,202.83 573.15,197.77" fill="#f0f3f8" stroke="#f0f3f8" stroke-width="0.25"/>
<polygon points="594.73,195.23 599.05,197.77 599.05,202.83 594.73,205.37 590.41,202.83 590.41,197.77" fill="#e1e8f2" stroke="#e1e8f2" stroke-width="0.25"/>
<polygon points="603.36,195.23 607.68,197.77 607.68,202.83 603.36,205.37 599.04,202.83 599.04,197.77" fill="#f0f3f8" stroke="#f0f3f8" stroke-width="0.25"/>
<polygon points="512.75,202.83 517.06,205.37 517.06,210.43 512.75,212.97 508.43,210.43 508.43,205.37" fill="#b4c4de" stroke="#b4c4de" stroke-width="0.25"/>
<polygon points="530.00,202.83 534.32,205.37 534.32,210.43 530.00,212.97 525.69,210.43 525.69,205.37" fill="#b4c4de" stroke="#b4c4de" stroke-width="0.25"/>
<polygon points="538.63,202.83 542.95,205.37 542.95,210.43 538.63,212.97 534.32,210.43 534.32,205.37" fill="#88a1ca" stroke="#88a1ca" stroke-width="0.25"/>
<polygon points="547.26,202.83 551.58,205.37 551.58,210.43 547.26,212.97 542.95,210.43 542.95,205.37" fill="#293e60" stroke="#293e60" stroke-width="0.25"/>
<polygon points="555.89,202.83 560.21,205.37 560.21,210.43 555.89,212.97 551.58,210.43 551.58,205.37" fill="#6a8abd" stroke="#6a8abd" stroke-width="0.25"/>
<polygon points="564.52,202.83 568.84,205.37 568.84,210.43 564.52,212.97 560.21,210.43 560.21,205.37" fill="#6a8abd" stroke="#6a8abd" stroke-width="0.25"/>
<polygon points="573.15,202.83 577.47,205.37 577.47,210.43 573.15,212.97 568.84,210.43 568.84,205.37" fill="#7995c4" stroke="#7995c4" stroke-width="0.25"/>
<polygon points="581.79,202.83 586.10,205.37 586.10,210.43 581.79,212.97 577.47,210.43 577.47,205.37" fill="#e1e8f2" stroke="#e1e8f2" stroke-width="0.25"/>
<polygon points="590.41,202.83 594.73,205.37 594.73,210.43 590.41,212.97 586.10,210.43 586.10,205.37" fill="#f0f3f8" stroke="#f0f3f8" stroke-width="0.25"/>
<polygon points="599.05,202.83 603.36,205.37 603.36,210.43 599.05,212.97 594.73,210.43 594.73,205.37" fill="#f0f3f8" stroke="#f0f3f8" stroke-width="0.25"/>
<polygon points="517.06,210.43 521.38,212.97 521.38,218.03 517.06,220.57 512.74,218.03 512.74,212.97" fill="#f8f9fc" stroke="#f8f9fc" stroke-width="0.25"/>
<polygon points="525.69,210.43 530.01,212.97 530.01,218.03 525.69,220.57 521.38,218.03 521.38,212.97" fill="#e1e8f2" stroke="#e1e8f2" stroke-width="0.25"/>
<polygon points="534.32,210.43 538.64,212.97 538.64,218.03 534.32,220.57 530.00,218.03 530.00,212.97" fill="#b4c4de" stroke="#b4c4de" stroke-width="0.25"/>
<polygon points="542.95,210.43 547.27,212.97 547.27,218.03 542.95,220.57 538.63,218.03 538.63,212.97" fill="#88a1ca" stroke="#88a1ca" stroke-width="0.25"/>
<polygon points="551.58,210.43 555.90,212.97 555.90,218.03 551.58,220.57 547.26,218.03 547.26,212.97" fill="#121a2b" stroke="#121a2b" stroke-width="0.25"/>
<polygon points="560.21,210.43 564.53,212.97 564.53,218.03 560.21,220.57 555.89,218.03 555.89,212.97" fill="#4669a3" stroke="#4669a3" stroke-width="0.25"/>
<polygon points="568.84,210.43 573.16,212.97 573.16,218.03 568.84,220.57 564.52,218.03 564.52,212.97" fill="#5b7eb7" stroke="#5b7eb7" stroke-width="0.25"/>
<polygon points="577.47,210.43 581.79,212.97 581.79,218.03 577.47,220.57 573.15,218.03 573.15,212.97" fill="#e1e8f2" stroke="#e1e8f2" stroke-width="0.25"/>
<polygon points="512.75,218.03 517.06,220.57 517.06,225.63 512.75,228.17 508.43,225.63 508.43,220.57" fill="#b4c4de" stroke="#b4c4de" stroke-width="0.25"/>
<polygon points="521.38,218.03 525.69,220.57 525.69,225.63 521.38,228.17 517.06,225.63 517.06,220.57" fill="#f0f3f8" stroke="#f0f3f8" stroke-width="0.25"/>
<polygon points="530.00,218.03 534.32,220.57 534.32,225.63 530.00,228.17 525.69,225.63 525.69,220.57" fill="#f0f3f8" stroke="#f0f3f8" stroke-width="0.25"/>
<polygon points="538.63,218.03 542.95,220.57 542.95,225.63 538.63,228.17 534.32,225.63 534.32,220.57" fill="#b4c4de" stroke="#b4c4de" stroke-width="0.25"/>
<polygon points="547.26,218.03 551.58,220.57 551.58,225.63 547.26,228.17 542.95,225.63 542.95,220.57" fill="#5b7eb7" stroke="#5b7eb7" stroke-width="0.25"/>
<polygon points="555.89,218.03 560.21,220.57 560.21,225.63 555.89,228.17 551.58,225.63 551.58,220.57" fill="#293e60" stroke="#293e60" stroke-width="0.25"/>
<polygon points="564.52,218.03 568.84,220.57 568.84,225.63 564.52,228.17 560.21,225.63 560.21,220.57" fill="#c3d0e5" stroke="#c3d0e5" stroke-width="0.25"/>
<polygon points="573.15,218.03 577.47,220.57 577.47,225.63 573.15,228.17 568.84,225.63 568.84,220.57" fill="#c3d0e5" stroke="#c3d0e5" stroke-width="0.25"/>
<polygon points="581.79,218.03 586.10,220.57 586.10,225.63 581.79,228.17 577.47,225.63 577.47,220.57" fill="#b4c4de" stroke="#b4c4de" stroke-width="0.25"/>
<polygon points="590.41,218.03 594.73,220.57 594.73,225.63 590.41,228.17 586.10,225.63 586.10,220.57" fill="#e1e8f2" stroke="#e1e8f2" stroke-width="0.25"/>
<polygon points="517.06,225.63 521.38,228.17 521.38,233.23 517.06,235.77 512.74,233.23 512.74,228.17" fill="#e1e8f2" stroke="#e1e8f2" stroke-width="0.25"/>
<polygon points="534.32,225.63 538.64,228.17 538.64,233.23 534.32,235.77 530.00,233.23 530.00,228.17" fill="#d2dceb" stroke="#d2dceb" stroke-width="0.25"/>
<polygon points="542.95,225.63 547.27,228.17 547.27,233.23 542.95,235.77 538.63,233.23 538.63,228.17" fill="#d2dceb" stroke="#d2dceb" stroke-width="0.25"/>
<polygon points="551.58,225.63 555.90,228.17 555.90,233.23 551.58,235.77 547.26,233.23 547.26,228.17" fill="#233553" stroke="#233553" stroke-width="0.25"/>
<polygon points="560.21,225.63 564.53,228.17 564.53,233.23 560.21,235.77 555.89,233.23 555.89,228.17" fill="#6a8abd" stroke="#6a8abd" stroke-width="0.25"/>
<polygon points="568.84,225.63 573.16,228.17 573.16,233.23 568.84,235.77 564.52,233.23 564.52,228.17" fill="#5b7eb7" stroke="#5b7eb7" stroke-width="0.25"/>
<polygon points="577.47,225.63 581.79,228.17 581.79,233.23 577.47,235.77 573.15,233.23 573.15,228.17" fill="#f0f3f8" stroke="#f0f3f8" stroke-width="0.25"/>
<polygon points="586.10,225.63 590.42,228.17 590.42,233.23 586.10,235.77 581.78,233.23 581.78,228.17" fill="#f0f3f8" stroke="#f0f3f8" stroke-width="0.25"/>
<polygon points="594.73,225.63 599.05,228.17 599.05,233.23 594.73,235.77 590.41,233.23 590.41,228.17" fill="#f0f3f8" stroke="#f0f3f8" stroke-width="0.25"/>
<polygon points="512.75,233.23 517.06,235.77 517.06,240.83 512.75,243.37 508.43,240.83 508.43,235.77" fill="#d2dceb" stroke="#d2dceb" stroke-width="0.25"/>
<polygon points="530.00,233.23 534.32,235.77 534.32,240.83 530.00,243.37 525.69,240.83 525.69,235.77" fill="#f0f3f8" stroke="#f0f3f8" stroke-width="0.25"/>
<polygon points="538.63,233.23 542.95,235.77 542.95,240.83 538.63,243.37 534.32,240.83 534.32,235.77" fill="#d2dceb" stroke="#d2dceb" stroke-width="0.25"/>
<polygon points="547.26,233.23 551.58,235.77 551.58,240.83 547.26,243.37 542.95,240.83 542.95,235.77" fill="#97add1" stroke="#97add1" stroke-width="0.25"/>
<polygon points="555.89,233.23 560.21,235.77 560.21,240.83 555.89,243.37 551.58,240.83 551.58,235.77" fill="#4669a3" stroke="#4669a3" stroke-width="0.25"/>
<polygon points="564.52,233.23 568.84,235.77 568.84,240.83 564.52,243.37 560.21,240.83 560.21,235.77" fill="#e1e8f2" stroke="#e1e8f2" stroke-width="0.25"/>
<polygon points="573.15,233.23 577.47,235.77 577.47,240.83 573.15,243.37 568.84,240.83 568.84,235.77" fill="#c3d0e5" stroke="#c3d0e5" stroke-width="0.25"/>
<polygon points="581.79,233.23 586.10,235.77 586.10,240.83 581.79,243.37 577.47,240.83 577.47,235.77" fill="#e1e8f2" stroke="#e1e8f2" stroke-width="0.25"/>
<polygon points="590.41,233.23 594.73,235.77 594.73,240.83 590.41,243.37 586.10,240.83 586.10,235.77" fill="#c3d0e5" stroke="#c3d0e5" stroke-width="0.25"/>
<polygon points="517.06,240.83 521.38,243.37 521.38,248.43 517.06,250.97 512.74,248.43 512.74,243.37" fill="#e1e8f2" stroke="#e1e8f2" stroke-width="0.25"/>
<polygon points="534.32,240.83 538.64,243.37 538.64,248.43 534.32,250.97 530.00,248.43 530.00,243.37" fill="#f0f3f8" stroke="#f0f3f8" stroke-width="0.25"/>
<polygon points="542.95,240.83 547.27,243.37 547.27,248.43 542.95,250.97 538.63,248.43 538.63,243.37" fill="#e1e8f2" stroke="#e1e8f2" stroke-width="0.25"/>
<polygon points="551.58,240.83 555.90,243.37 555.90,248.43 551.58,250.97 547.26,248.43 547.26,243.37" fill="#d2dceb" stroke="#d2dceb" stroke-width="0.25"/>
<polygon points="560.21,240.83 564.53,243.37 564.53,248.43 560.21,250.97 555.89,248.43 555.89,243.37" fill="#e1e8f2" stroke="#e1e8f2" stroke-width="0.25"/>
<polygon points="568.84,240.83 573.16,243.37 573.16,248.43 568.84,250.97 564.52,248.43 564.52,243.37" fill="#a6b8d8" stroke="#a6b8d8" stroke-width="0.25"/>
<polygon points="586.10,240.83 590.42,243.37 590.42,248.43 586.10,250.97 581.78,248.43 581.78,243.37" fill="#e1e8f2" stroke="#e1e8f2" stroke-width="0.25"/>
<polygon points="594.73,240.83 599.05,243.37 599.05,248.43 594.73,250.97 590.41,248.43 590.41,243.37" fill="#f0f3f8" stroke="#f0f3f8" stroke-width="0.25"/>
<polygon points="603.36,240.83 607.68,243.37 607.68,248.43 603.36,250.97 599.04,248.43 599.04,243.37" fill="#f0f3f8" stroke="#f0f3f8" stroke-width="0.25"/>
<polygon points="547.26,248.43 551.58,250.97 551.58,256.03 547.26,258.57 542.95,256.03 542.95,250.97" fill="#d2dceb" stroke="#d2dceb" stroke-width="0.25"/>
<polygon points="555.89,248.43 560.21,250.97 560.21,256.03 555.89,258.57 551.58,256.03 551.58,250.97" fill="#c3d0e5" stroke="#c3d0e5" stroke-width="0.25"/>
<polygon points="573.15,248.43 577.47,250.97 577.47,256.03 573.15,258.57 568.84,256.03 568.84,250.97" fill="#f0f3f8" stroke="#f0f3f8" stroke-width="0.25"/>
<polygon points="590.41,248.43 594.73,250.97 594.73,256.03 590.41,258.57 586.10,256.03 586.10,250.97" fill="#e1e8f2" stroke="#e1e8f2" stroke-width="0.25"/>
<polygon points="568.84,256.03 573.16,258.57 573.16,263.63 568.84,266.17 564.52,263.63 564.52,258.57" fill="#f0f3f8" stroke="#f0f3f8" stroke-width="0.25"/>
<polygon points="594.73,256.03 599.05,258.57 599.05,263.63 594.73,266.17 590.41,263.63 590.41,258.57" fill="#f0f3f8" stroke="#f0f3f8" stroke-width="0.25"/>
</g>
<polygon points="554.30,165.70 555.40,169.09 558.96,169.09 556.08,171.18 557.18,174.56 554.30,172.47 551.42,174.56 552.52,171.18 549.64,169.09 553.20,169.09" fill="#e6c977" />
<line x1="404.45" y1="69.60" x2="404.45" y2="270.30" stroke="#333" stroke-width="0.8" />
<line x1="404.45" y1="270.00" x2="610.60" y2="270.00" stroke="#333" stroke-width="0.8" />
<line x1="401.85" y1="253.45" x2="404.45" y2="253.45" stroke="#333" stroke-width="0.7" />
<text x="400.45" y="256.75" font-size="8.5" text-anchor="end" fill="#000"  textLength="9.45" lengthAdjust="spacingAndGlyphs">20</text>
<line x1="401.85" y1="229.18" x2="404.45" y2="229.18" stroke="#333" stroke-width="0.7" />
<text x="400.45" y="232.48" font-size="8.5" text-anchor="end" fill="#000"  textLength="9.45" lengthAdjust="spacingAndGlyphs">30</text>
<line x1="401.85" y1="204.91" x2="404.45" y2="204.91" stroke="#333" stroke-width="0.7" />
<text x="400.45" y="208.21" font-size="8.5" text-anchor="end" fill="#000"  textLength="9.45" lengthAdjust="spacingAndGlyphs">40</text>
<line x1="401.85" y1="180.64" x2="404.45" y2="180.64" stroke="#333" stroke-width="0.7" />
<text x="400.45" y="183.94" font-size="8.5" text-anchor="end" fill="#000"  textLength="9.45" lengthAdjust="spacingAndGlyphs">50</text>
<line x1="401.85" y1="156.37" x2="404.45" y2="156.37" stroke="#333" stroke-width="0.7" />
<text x="400.45" y="159.67" font-size="8.5" text-anchor="end" fill="#000"  textLength="9.45" lengthAdjust="spacingAndGlyphs">60</text>
<line x1="401.85" y1="132.10" x2="404.45" y2="132.10" stroke="#333" stroke-width="0.7" />
<text x="400.45" y="135.40" font-size="8.5" text-anchor="end" fill="#000"  textLength="9.45" lengthAdjust="spacingAndGlyphs">70</text>
<line x1="401.85" y1="107.83" x2="404.45" y2="107.83" stroke="#333" stroke-width="0.7" />
<text x="400.45" y="111.13" font-size="8.5" text-anchor="end" fill="#000"  textLength="9.45" lengthAdjust="spacingAndGlyphs">80</text>
<line x1="401.85" y1="83.56" x2="404.45" y2="83.56" stroke="#333" stroke-width="0.7" />
<text x="400.45" y="86.86" font-size="8.5" text-anchor="end" fill="#000"  textLength="9.45" lengthAdjust="spacingAndGlyphs">90</text>
<line x1="404.10" y1="270.00" x2="404.10" y2="272.60" stroke="#333" stroke-width="0.7" />
<text x="413.10" y="277.10" font-size="7.9" text-anchor="end" transform="rotate(-43 413.10 277.10)" fill="#000" textLength="19.77" lengthAdjust="spacingAndGlyphs">10:00</text>
<line x1="422.75" y1="270.00" x2="422.75" y2="272.60" stroke="#333" stroke-width="0.7" />
<text x="431.75" y="277.10" font-size="7.9" text-anchor="end" transform="rotate(-43 431.75 277.10)" fill="#000" textLength="19.18" lengthAdjust="spacingAndGlyphs">11:00</text>
<line x1="441.40" y1="270.00" x2="441.40" y2="272.60" stroke="#333" stroke-width="0.7" />
<text x="450.40" y="277.10" font-size="7.9" text-anchor="end" transform="rotate(-43 450.40 277.10)" fill="#000" textLength="19.77" lengthAdjust="spacingAndGlyphs">12:00</text>
<line x1="460.05" y1="270.00" x2="460.05" y2="272.60" stroke="#333" stroke-width="0.7" />
<text x="469.05" y="277.10" font-size="7.9" text-anchor="end" transform="rotate(-43 469.05 277.10)" fill="#000" textLength="19.77" lengthAdjust="spacingAndGlyphs">13:00</text>
<line x1="478.70" y1="270.00" x2="478.70" y2="272.60" stroke="#333" stroke-width="0.7" />
<text x="487.70" y="277.10" font-size="7.9" text-anchor="end" transform="rotate(-43 487.70 277.10)" fill="#000" textLength="19.77" lengthAdjust="spacingAndGlyphs">14:00</text>
<line x1="497.35" y1="270.00" x2="497.35" y2="272.60" stroke="#333" stroke-width="0.7" />
<text x="506.35" y="277.10" font-size="7.9" text-anchor="end" transform="rotate(-43 506.35 277.10)" fill="#000" textLength="19.77" lengthAdjust="spacingAndGlyphs">15:00</text>
<line x1="516.00" y1="270.00" x2="516.00" y2="272.60" stroke="#333" stroke-width="0.7" />
<text x="525.00" y="277.10" font-size="7.9" text-anchor="end" transform="rotate(-43 525.00 277.10)" fill="#000" textLength="19.77" lengthAdjust="spacingAndGlyphs">16:00</text>
<line x1="534.65" y1="270.00" x2="534.65" y2="272.60" stroke="#333" stroke-width="0.7" />
<text x="543.65" y="277.10" font-size="7.9" text-anchor="end" transform="rotate(-43 543.65 277.10)" fill="#000" textLength="19.77" lengthAdjust="spacingAndGlyphs">17:00</text>
<line x1="553.30" y1="270.00" x2="553.30" y2="272.60" stroke="#333" stroke-width="0.7" />
<text x="562.30" y="277.10" font-size="7.9" text-anchor="end" transform="rotate(-43 562.30 277.10)" fill="#000" textLength="19.77" lengthAdjust="spacingAndGlyphs">18:00</text>
<line x1="571.95" y1="270.00" x2="571.95" y2="272.60" stroke="#333" stroke-width="0.7" />
<text x="580.95" y="277.10" font-size="7.9" text-anchor="end" transform="rotate(-43 580.95 277.10)" fill="#000" textLength="19.77" lengthAdjust="spacingAndGlyphs">19:00</text>
<line x1="590.60" y1="270.00" x2="590.60" y2="272.60" stroke="#333" stroke-width="0.7" />
<text x="599.60" y="277.10" font-size="7.9" text-anchor="end" transform="rotate(-43 599.60 277.10)" fill="#000" textLength="19.77" lengthAdjust="spacingAndGlyphs">20:00</text>
<line x1="609.25" y1="270.00" x2="609.25" y2="272.60" stroke="#333" stroke-width="0.7" />
<text x="618.25" y="277.10" font-size="7.9" text-anchor="end" transform="rotate(-43 618.25 277.10)" fill="#000" textLength="19.77" lengthAdjust="spacingAndGlyphs">21:00</text>
<text x="505.30" y="306.20" font-size="8.6" text-anchor="middle" fill="#000"  textLength="44.58" lengthAdjust="spacingAndGlyphs">Time (UTC)</text>
<text x="381.60" y="174.80" font-size="9.46" text-anchor="middle" transform="rotate(-90 381.60 174.80)" fill="#000"  textLength="184.01" lengthAdjust="spacingAndGlyphs">Percentage of customers with electricity (%)</text>
<rect x="457.00" y="61.00" width="6.85" height="1.35" fill="#7b96c7"/>
<rect x="471.60" y="61.50" width="6.85" height="0.85" fill="#7b96c7"/>
<rect x="478.90" y="61.00" width="6.85" height="1.35" fill="#7b96c7"/>
<rect x="486.20" y="60.00" width="6.85" height="2.35" fill="#7b96c7"/>
<rect x="493.50" y="54.10" width="6.85" height="8.25" fill="#7b96c7"/>
<rect x="500.80" y="51.90" width="6.85" height="10.45" fill="#7b96c7"/>
<rect x="508.10" y="44.70" width="6.85" height="17.65" fill="#7b96c7"/>
<rect x="515.40" y="33.85" width="6.85" height="28.50" fill="#7b96c7"/>
<rect x="522.70" y="51.50" width="6.85" height="10.85" fill="#7b96c7"/>
<rect x="530.00" y="49.60" width="6.85" height="12.75" fill="#7b96c7"/>
<rect x="537.30" y="30.90" width="6.85" height="31.45" fill="#7b96c7"/>
<rect x="544.60" y="36.10" width="6.85" height="26.25" fill="#7b96c7"/>
<rect x="551.90" y="32.20" width="6.85" height="30.15" fill="#7b96c7"/>
<rect x="559.20" y="30.00" width="6.85" height="32.35" fill="#7b96c7"/>
<rect x="566.50" y="49.75" width="6.85" height="12.60" fill="#7b96c7"/>
<rect x="573.80" y="60.50" width="6.85" height="1.85" fill="#7b96c7"/>
<rect x="581.10" y="57.00" width="6.85" height="5.35" fill="#7b96c7"/>
<rect x="588.40" y="58.00" width="6.85" height="4.35" fill="#7b96c7"/>
<rect x="595.70" y="60.75" width="6.85" height="1.60" fill="#7b96c7"/>
<line x1="403.80" y1="62.35" x2="611.90" y2="62.35" stroke="#333" stroke-width="0.8" />
<line x1="403.70" y1="62.35" x2="403.70" y2="64.75" stroke="#333" stroke-width="0.7" />
<line x1="422.35" y1="62.35" x2="422.35" y2="64.75" stroke="#333" stroke-width="0.7" />
<line x1="441.00" y1="62.35" x2="441.00" y2="64.75" stroke="#333" stroke-width="0.7" />
<line x1="459.65" y1="62.35" x2="459.65" y2="64.75" stroke="#333" stroke-width="0.7" />
<line x1="478.30" y1="62.35" x2="478.30" y2="64.75" stroke="#333" stroke-width="0.7" />
<line x1="496.95" y1="62.35" x2="496.95" y2="64.75" stroke="#333" stroke-width="0.7" />
<line x1="515.60" y1="62.35" x2="515.60" y2="64.75" stroke="#333" stroke-width="0.7" />
<line x1="534.25" y1="62.35" x2="534.25" y2="64.75" stroke="#333" stroke-width="0.7" />
<line x1="552.90" y1="62.35" x2="552.90" y2="64.75" stroke="#333" stroke-width="0.7" />
<line x1="571.55" y1="62.35" x2="571.55" y2="64.75" stroke="#333" stroke-width="0.7" />
<line x1="590.20" y1="62.35" x2="590.20" y2="64.75" stroke="#333" stroke-width="0.7" />
<line x1="608.85" y1="62.35" x2="608.85" y2="64.75" stroke="#333" stroke-width="0.7" />
<polygon points="555.00,53.70 556.65,58.78 561.99,58.78 557.67,61.92 559.32,67.00 555.00,63.86 550.68,67.00 552.33,61.92 548.01,58.78 553.35,58.78" fill="#141b2d" />
<rect x="509" y="68.4" width="94.3" height="19.6" rx="1.5" fill="#fff" fill-opacity="0.9" stroke="#d6d6d6" stroke-width="0.6"/>
<polygon points="517.50,74.00 518.58,77.32 522.07,77.32 519.24,79.37 520.32,82.68 517.50,80.63 514.68,82.68 515.76,79.37 512.93,77.32 516.42,77.32" fill="#e6c977" />
<text x="525.60" y="77.30" font-size="6.72" text-anchor="start" fill="#111"  textLength="74.71" lengthAdjust="spacingAndGlyphs">Largest cascading failure</text>
<text x="525.60" y="84.20" font-size="6.88" text-anchor="start" fill="#111"  textLength="65.77" lengthAdjust="spacingAndGlyphs">of the real-world case</text>
<rect x="610.60" y="79.05" width="1.30" height="9.6" fill="#7b96c7"/>
<rect x="610.60" y="89.12" width="1.50" height="9.6" fill="#7b96c7"/>
<rect x="610.60" y="109.26" width="2.90" height="9.6" fill="#7b96c7"/>
<rect x="610.60" y="119.33" width="6.90" height="9.6" fill="#7b96c7"/>
<rect x="610.60" y="129.40" width="15.40" height="9.6" fill="#7b96c7"/>
<rect x="610.60" y="139.47" width="19.30" height="9.6" fill="#7b96c7"/>
<rect x="610.60" y="149.54" width="21.20" height="9.6" fill="#7b96c7"/>
<rect x="610.60" y="159.61" width="21.20" height="9.6" fill="#7b96c7"/>
<rect x="610.60" y="169.68" width="29.40" height="9.6" fill="#7b96c7"/>
<rect x="610.60" y="179.75" width="24.80" height="9.6" fill="#7b96c7"/>
<rect x="610.60" y="189.82" width="28.00" height="9.6" fill="#7b96c7"/>
<rect x="610.60" y="199.89" width="27.40" height="9.6" fill="#7b96c7"/>
<rect x="610.60" y="209.96" width="23.30" height="9.6" fill="#7b96c7"/>
<rect x="610.60" y="220.03" width="19.10" height="9.6" fill="#7b96c7"/>
<rect x="610.60" y="230.10" width="16.40" height="9.6" fill="#7b96c7"/>
<rect x="610.60" y="240.17" width="6.30" height="9.6" fill="#7b96c7"/>
<rect x="610.60" y="250.24" width="2.90" height="9.6" fill="#7b96c7"/>
<line x1="610.60" y1="69.60" x2="610.60" y2="270.00" stroke="#333" stroke-width="0.8" />
<line x1="608.20" y1="253.45" x2="610.60" y2="253.45" stroke="#333" stroke-width="0.7" />
<line x1="608.20" y1="229.18" x2="610.60" y2="229.18" stroke="#333" stroke-width="0.7" />
<line x1="608.20" y1="204.91" x2="610.60" y2="204.91" stroke="#333" stroke-width="0.7" />
<line x1="608.20" y1="180.64" x2="610.60" y2="180.64" stroke="#333" stroke-width="0.7" />
<line x1="608.20" y1="156.37" x2="610.60" y2="156.37" stroke="#333" stroke-width="0.7" />
<line x1="608.20" y1="132.10" x2="610.60" y2="132.10" stroke="#333" stroke-width="0.7" />
<line x1="608.20" y1="107.83" x2="610.60" y2="107.83" stroke="#333" stroke-width="0.7" />
<line x1="608.20" y1="83.56" x2="610.60" y2="83.56" stroke="#333" stroke-width="0.7" />
<polygon points="610.40,163.60 612.04,168.64 617.34,168.64 613.05,171.76 614.69,176.81 610.40,173.69 606.11,176.81 607.75,171.76 603.46,168.64 608.76,168.64" fill="#141b2d" />
<defs><linearGradient id="cb" x1="0" y1="1" x2="0" y2="0"><stop offset="0" stop-color="#fff"/><stop offset="0.5" stop-color="#4c72b0"/><stop offset="0.96" stop-color="#070a12"/><stop offset="1" stop-color="#020308"/></linearGradient></defs>
<rect x="646.20" y="80.40" width="10.30" height="190.60" fill="url(#cb)" stroke="#666" stroke-width="0.6"/>
<line x1="656.50" y1="271.00" x2="658.30" y2="271.00" stroke="#333" stroke-width="0.7" />
<text x="661.60" y="274.00" font-size="8.5" text-anchor="start" fill="#000" >0</text>
<line x1="656.50" y1="231.29" x2="658.30" y2="231.29" stroke="#333" stroke-width="0.7" />
<text x="661.60" y="234.29" font-size="8.5" text-anchor="start" fill="#000" >5</text>
<line x1="656.50" y1="191.58" x2="658.30" y2="191.58" stroke="#333" stroke-width="0.7" />
<text x="661.60" y="194.58" font-size="8.5" text-anchor="start" fill="#000"  textLength="9.45" lengthAdjust="spacingAndGlyphs">10</text>
<line x1="656.50" y1="151.88" x2="658.30" y2="151.88" stroke="#333" stroke-width="0.7" />
<text x="661.60" y="154.88" font-size="8.5" text-anchor="start" fill="#000"  textLength="9.45" lengthAdjust="spacingAndGlyphs">15</text>
<line x1="656.50" y1="112.17" x2="658.30" y2="112.17" stroke="#333" stroke-width="0.7" />
<text x="661.60" y="115.17" font-size="8.5" text-anchor="start" fill="#000"  textLength="9.45" lengthAdjust="spacingAndGlyphs">20</text>
<line x1="656.50" y1="80.40" x2="658.30" y2="80.40" stroke="#333" stroke-width="0.7" />
<text x="661.60" y="83.40" font-size="8.5" text-anchor="start" fill="#000"  textLength="9.45" lengthAdjust="spacingAndGlyphs">24</text>
<text x="682.80" y="174.90" font-size="9.37" text-anchor="middle" transform="rotate(-90 682.80 174.90)" fill="#000"  textLength="173.97" lengthAdjust="spacingAndGlyphs">Frequency of the largest cascading failure</text>
</svg>
</body></html>
